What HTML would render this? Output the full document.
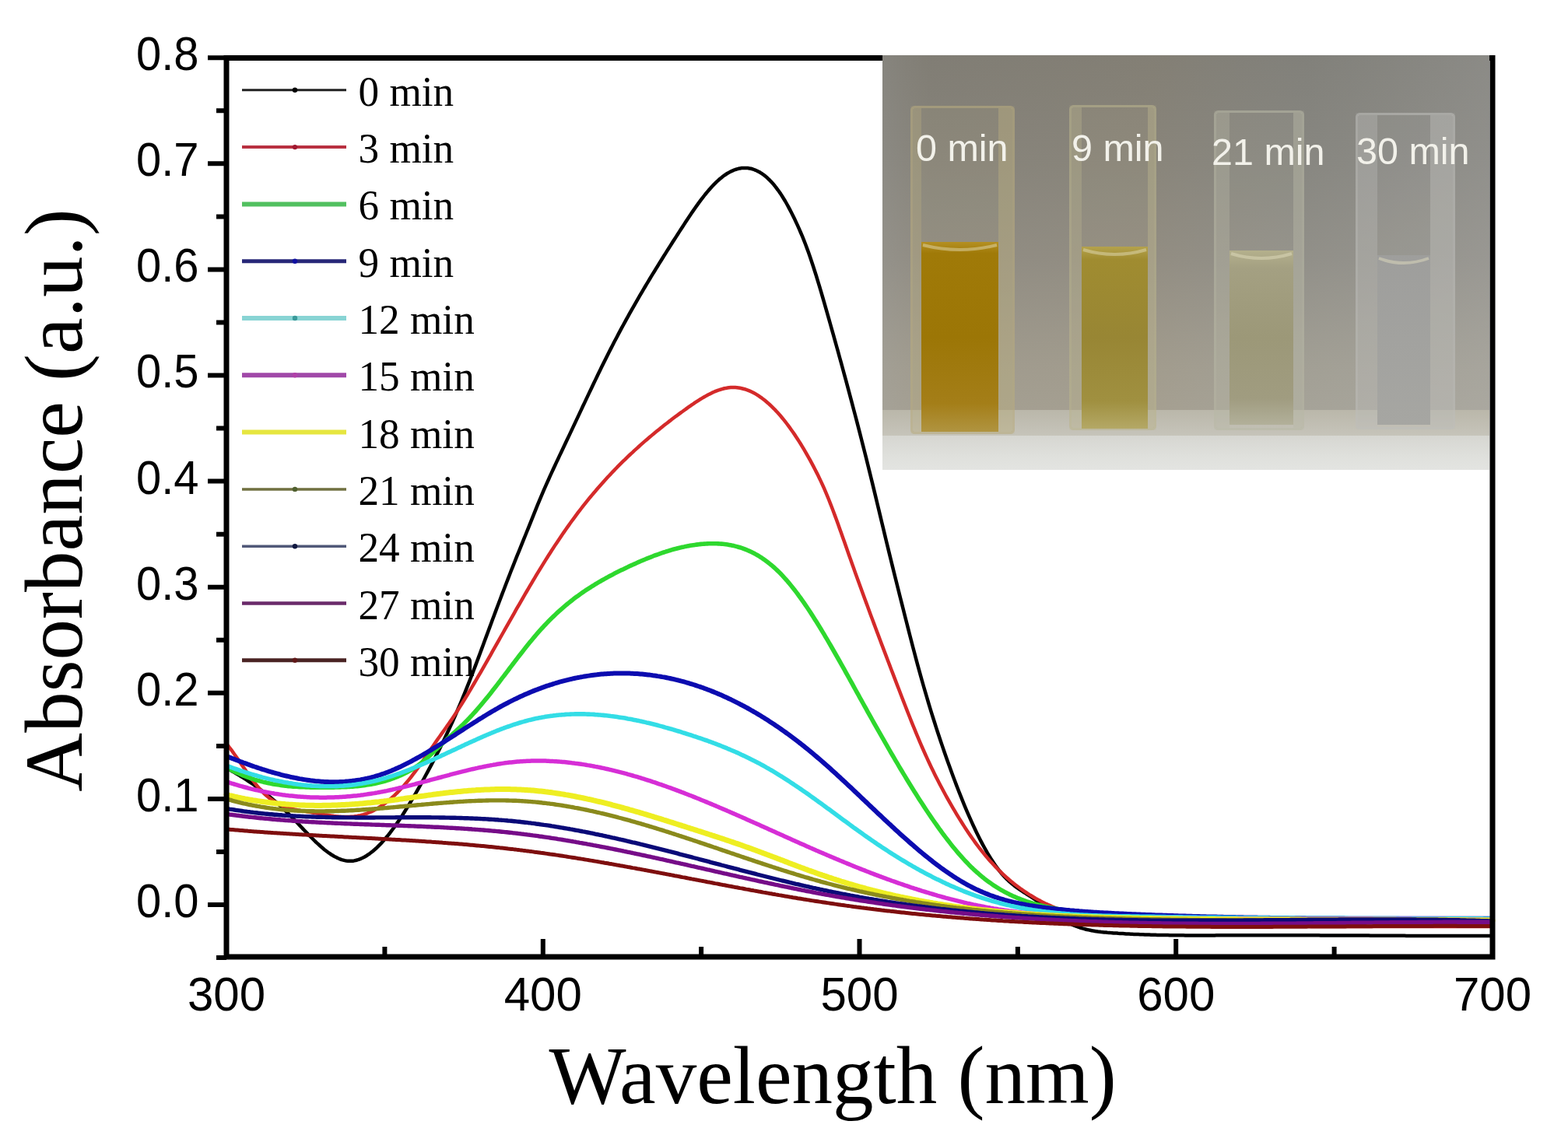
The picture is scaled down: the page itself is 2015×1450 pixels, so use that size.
<!DOCTYPE html><html><head><meta charset="utf-8"><title>Absorbance spectra</title>
<style>html,body{margin:0;padding:0;background:#fff;}svg{display:block;}.tky{font-family:"Liberation Sans",Arial,sans-serif;font-size:58px;fill:#000;}.tkx{font-family:"Liberation Sans",Arial,sans-serif;font-size:60px;fill:#000;}.tt{font-family:"Liberation Serif","Times New Roman",serif;font-size:105px;fill:#000;}.lg{font-family:"Liberation Serif","Times New Roman",serif;font-size:53.2px;fill:#000;}.ph{font-family:"Liberation Sans",Arial,sans-serif;font-size:48.5px;fill:#f2f1ea;}</style></head><body>
<svg width="2015" height="1450" viewBox="0 0 2015 1450">
<rect width="2015" height="1450" fill="#fff"/>
<g fill="none" stroke-linejoin="round" stroke-linecap="round">
<path d="M291.0,987.3 L293.0,988.4 295.0,989.5 297.0,990.6 299.0,991.8 301.0,992.9 303.0,994.1 305.0,995.2 307.0,996.4 309.0,997.7 311.0,998.9 313.0,1000.1 315.0,1001.4 317.0,1002.7 319.0,1004.0 321.0,1005.3 323.0,1006.6 325.0,1008.0 327.0,1009.4 329.0,1010.8 331.0,1012.2 333.0,1013.7 335.0,1015.2 337.0,1016.7 339.0,1018.2 341.0,1019.7 343.0,1021.3 345.0,1022.9 347.0,1024.5 349.0,1026.2 351.0,1027.9 353.0,1029.6 355.0,1031.3 357.0,1033.1 359.0,1034.9 361.0,1036.7 363.0,1038.6 365.0,1040.5 367.0,1042.4 369.0,1044.3 371.0,1046.3 373.0,1048.4 375.0,1050.4 377.0,1052.5 379.0,1054.6 381.0,1056.7 383.0,1058.8 385.0,1060.9 387.0,1063.0 389.0,1065.1 391.0,1067.2 393.0,1069.3 395.0,1071.4 397.0,1073.5 399.0,1075.5 401.0,1077.5 403.0,1079.5 405.0,1081.5 407.0,1083.4 409.0,1085.2 411.0,1087.0 413.0,1088.8 415.0,1090.5 417.0,1092.2 419.0,1093.7 421.0,1095.2 423.0,1096.7 425.0,1098.0 427.0,1099.3 429.0,1100.5 431.0,1101.6 433.0,1102.6 435.0,1103.5 437.0,1104.3 439.0,1105.1 441.0,1105.6 443.0,1106.1 445.0,1106.5 447.0,1106.7 449.0,1106.8 451.0,1106.8 453.0,1106.7 455.0,1106.4 457.0,1106.0 459.0,1105.5 461.0,1104.8 463.0,1104.1 465.0,1103.2 467.0,1102.3 469.0,1101.2 471.0,1100.0 473.0,1098.7 475.0,1097.3 477.0,1095.8 479.0,1094.2 481.0,1092.5 483.0,1090.8 485.0,1088.9 487.0,1086.9 489.0,1084.9 491.0,1082.7 493.0,1080.5 495.0,1078.2 497.0,1075.8 499.0,1073.4 501.0,1070.8 503.0,1068.2 505.0,1065.5 507.0,1062.8 509.0,1060.0 511.0,1057.1 513.0,1054.2 515.0,1051.2 517.0,1048.1 519.0,1045.0 521.0,1041.8 523.0,1038.6 525.0,1035.4 527.0,1032.0 529.0,1028.7 531.0,1025.3 533.0,1021.8 535.0,1018.4 537.0,1014.8 539.0,1011.3 541.0,1007.7 543.0,1004.1 545.0,1000.5 547.0,996.8 549.0,993.1 551.0,989.4 553.0,985.6 555.0,981.9 557.0,978.0 559.0,974.2 561.0,970.3 563.0,966.4 565.0,962.4 567.0,958.4 569.0,954.3 571.0,950.2 573.0,946.0 575.0,941.8 577.0,937.5 579.0,933.1 581.0,928.7 583.0,924.3 585.0,919.8 587.0,915.2 589.0,910.5 591.0,905.8 593.0,901.1 595.0,896.2 597.0,891.4 599.0,886.4 601.0,881.4 603.0,876.4 605.0,871.2 607.0,866.1 609.0,860.8 611.0,855.6 613.0,850.3 615.0,844.9 617.0,839.5 619.0,834.1 621.0,828.7 623.0,823.3 625.0,817.9 627.0,812.5 629.0,807.1 631.0,801.7 633.0,796.3 635.0,791.0 637.0,785.6 639.0,780.3 641.0,775.0 643.0,769.7 645.0,764.4 647.0,759.2 649.0,754.0 651.0,748.8 653.0,743.6 655.0,738.5 657.0,733.3 659.0,728.3 661.0,723.2 663.0,718.2 665.0,713.2 667.0,708.3 669.0,703.3 671.0,698.4 673.0,693.4 675.0,688.5 677.0,683.5 679.0,678.6 681.0,673.6 683.0,668.6 685.0,663.6 687.0,658.6 689.0,653.6 691.0,648.7 693.0,643.8 695.0,639.1 697.0,634.4 699.0,629.7 701.0,625.2 703.0,620.6 705.0,616.2 707.0,611.7 709.0,607.4 711.0,603.0 713.0,598.7 715.0,594.4 717.0,590.2 719.0,585.9 721.0,581.7 723.0,577.5 725.0,573.3 727.0,569.0 729.0,564.8 731.0,560.6 733.0,556.4 735.0,552.1 737.0,547.9 739.0,543.6 741.0,539.4 743.0,535.1 745.0,530.9 747.0,526.6 749.0,522.3 751.0,518.1 753.0,513.9 755.0,509.6 757.0,505.4 759.0,501.2 761.0,497.0 763.0,492.8 765.0,488.6 767.0,484.5 769.0,480.3 771.0,476.2 773.0,472.1 775.0,468.0 777.0,464.0 779.0,460.0 781.0,456.0 783.0,452.0 785.0,448.1 787.0,444.2 789.0,440.3 791.0,436.5 793.0,432.7 795.0,428.9 797.0,425.1 799.0,421.4 801.0,417.7 803.0,414.1 805.0,410.4 807.0,406.8 809.0,403.2 811.0,399.6 813.0,396.1 815.0,392.6 817.0,389.1 819.0,385.6 821.0,382.2 823.0,378.7 825.0,375.3 827.0,371.9 829.0,368.5 831.0,365.2 833.0,361.9 835.0,358.5 837.0,355.2 839.0,351.9 841.0,348.7 843.0,345.4 845.0,342.2 847.0,338.9 849.0,335.7 851.0,332.5 853.0,329.3 855.0,326.1 857.0,322.9 859.0,319.8 861.0,316.6 863.0,313.5 865.0,310.3 867.0,307.2 869.0,304.1 871.0,301.0 873.0,297.9 875.0,294.8 877.0,291.7 879.0,288.6 881.0,285.5 883.0,282.5 885.0,279.5 887.0,276.5 889.0,273.5 891.0,270.6 893.0,267.7 895.0,264.9 897.0,262.1 899.0,259.4 901.0,256.7 903.0,254.1 905.0,251.5 907.0,249.0 909.0,246.6 911.0,244.2 913.0,241.9 915.0,239.7 917.0,237.6 919.0,235.6 921.0,233.6 923.0,231.8 925.0,230.0 927.0,228.4 929.0,226.8 931.0,225.3 933.0,224.0 935.0,222.7 937.0,221.6 939.0,220.5 941.0,219.6 943.0,218.7 945.0,218.0 947.0,217.4 949.0,216.8 951.0,216.4 953.0,216.1 955.0,216.0 957.0,215.9 959.0,215.9 961.0,216.1 963.0,216.4 965.0,216.8 967.0,217.3 969.0,218.0 971.0,218.8 973.0,219.7 975.0,220.7 977.0,221.8 979.0,223.1 981.0,224.5 983.0,226.1 985.0,227.7 987.0,229.6 989.0,231.5 991.0,233.6 993.0,235.8 995.0,238.1 997.0,240.6 999.0,243.3 1001.0,246.0 1003.0,248.9 1005.0,252.0 1007.0,255.2 1009.0,258.5 1011.0,262.0 1013.0,265.6 1015.0,269.4 1017.0,273.2 1019.0,277.2 1021.0,281.3 1023.0,285.6 1025.0,289.9 1027.0,294.4 1029.0,299.0 1031.0,303.7 1033.0,308.7 1035.0,313.8 1037.0,319.1 1039.0,324.6 1041.0,330.3 1043.0,336.2 1045.0,342.3 1047.0,348.5 1049.0,354.8 1051.0,361.3 1053.0,367.9 1055.0,374.7 1057.0,381.5 1059.0,388.4 1061.0,395.3 1063.0,402.3 1065.0,409.4 1067.0,416.5 1069.0,423.6 1071.0,430.7 1073.0,437.9 1075.0,445.0 1077.0,452.2 1079.0,459.5 1081.0,466.7 1083.0,474.0 1085.0,481.4 1087.0,488.7 1089.0,496.1 1091.0,503.6 1093.0,511.1 1095.0,518.6 1097.0,526.2 1099.0,533.8 1101.0,541.4 1103.0,549.1 1105.0,556.9 1107.0,564.7 1109.0,572.6 1111.0,580.5 1113.0,588.4 1115.0,596.5 1117.0,604.6 1119.0,612.7 1121.0,620.9 1123.0,629.1 1125.0,637.4 1127.0,645.7 1129.0,654.1 1131.0,662.4 1133.0,670.7 1135.0,679.1 1137.0,687.4 1139.0,695.7 1141.0,703.9 1143.0,712.1 1145.0,720.3 1147.0,728.4 1149.0,736.5 1151.0,744.5 1153.0,752.5 1155.0,760.5 1157.0,768.5 1159.0,776.4 1161.0,784.3 1163.0,792.2 1165.0,800.0 1167.0,807.9 1169.0,815.7 1171.0,823.5 1173.0,831.2 1175.0,838.8 1177.0,846.3 1179.0,853.8 1181.0,861.1 1183.0,868.3 1185.0,875.5 1187.0,882.5 1189.0,889.4 1191.0,896.2 1193.0,903.0 1195.0,909.6 1197.0,916.1 1199.0,922.5 1201.0,928.8 1203.0,935.1 1205.0,941.2 1207.0,947.3 1209.0,953.2 1211.0,959.1 1213.0,965.0 1215.0,970.7 1217.0,976.4 1219.0,982.0 1221.0,987.6 1223.0,993.0 1225.0,998.5 1227.0,1003.8 1229.0,1009.1 1231.0,1014.3 1233.0,1019.4 1235.0,1024.4 1237.0,1029.4 1239.0,1034.3 1241.0,1039.1 1243.0,1043.8 1245.0,1048.4 1247.0,1052.9 1249.0,1057.4 1251.0,1061.7 1253.0,1066.0 1255.0,1070.2 1257.0,1074.2 1259.0,1078.2 1261.0,1082.1 1263.0,1085.9 1265.0,1089.5 1267.0,1093.1 1269.0,1096.6 1271.0,1099.9 1273.0,1103.2 1275.0,1106.3 1277.0,1109.3 1279.0,1112.2 1281.0,1115.0 1283.0,1117.7 1285.0,1120.3 1287.0,1122.7 1289.0,1125.0 1291.0,1127.2 1293.0,1129.3 1295.0,1131.2 1297.0,1133.1 1299.0,1134.8 1301.0,1136.5 1303.0,1138.1 1305.0,1139.6 1307.0,1141.1 1309.0,1142.5 1311.0,1143.8 1313.0,1145.2 1315.0,1146.5 1317.0,1147.7 1319.0,1149.0 1321.0,1150.3 1323.0,1151.6 1325.0,1152.8 1327.0,1154.2 1329.0,1155.5 1331.0,1156.9 1333.0,1158.3 1335.0,1159.8 1337.0,1161.2 1339.0,1162.7 1341.0,1164.2 1343.0,1165.8 1345.0,1167.3 1347.0,1168.8 1349.0,1170.3 1351.0,1171.8 1353.0,1173.3 1355.0,1174.8 1357.0,1176.2 1359.0,1177.6 1361.0,1179.0 1363.0,1180.4 1365.0,1181.6 1367.0,1182.9 1369.0,1184.1 1371.0,1185.2 1373.0,1186.2 1375.0,1187.2 1377.0,1188.2 1379.0,1189.1 1381.0,1189.9 1383.0,1190.7 1385.0,1191.4 1387.0,1192.1 1389.0,1192.8 1391.0,1193.4 1393.0,1193.9 1395.0,1194.5 1397.0,1195.0 1399.0,1195.4 1401.0,1195.8 1403.0,1196.2 1405.0,1196.6 1407.0,1196.9 1409.0,1197.2 1411.0,1197.5 1413.0,1197.7 1415.0,1198.0 1417.0,1198.2 1419.0,1198.4 1421.0,1198.6 1423.0,1198.8 1425.0,1198.9 1427.0,1199.1 1429.0,1199.2 1431.0,1199.4 1433.0,1199.5 1435.0,1199.6 1437.0,1199.8 1439.0,1199.9 1441.0,1200.0 1443.0,1200.1 1445.0,1200.2 1447.0,1200.4 1449.0,1200.5 1451.0,1200.6 1453.0,1200.7 1455.0,1200.8 1457.0,1200.9 1459.0,1200.9 1461.0,1201.0 1463.0,1201.1 1465.0,1201.2 1467.0,1201.3 1469.0,1201.3 1471.0,1201.4 1473.0,1201.5 1475.0,1201.5 1477.0,1201.6 1479.0,1201.7 1481.0,1201.7 1483.0,1201.8 1485.0,1201.8 1487.0,1201.9 1489.0,1201.9 1491.0,1202.0 1493.0,1202.0 1495.0,1202.0 1497.0,1202.1 1499.0,1202.1 1501.0,1202.1 1503.0,1202.2 1505.0,1202.2 1507.0,1202.2 1509.0,1202.2 1511.0,1202.3 1513.0,1202.3 1515.0,1202.3 1517.0,1202.3 1519.0,1202.3 1521.0,1202.3 1523.0,1202.4 1525.0,1202.4 1527.0,1202.4 1529.0,1202.4 1531.0,1202.4 1533.0,1202.4 1535.0,1202.4 1537.0,1202.4 1539.0,1202.4 1541.0,1202.4 1543.0,1202.4 1545.0,1202.4 1547.0,1202.4 1549.0,1202.4 1551.0,1202.4 1553.0,1202.4 1555.0,1202.4 1557.0,1202.4 1559.0,1202.4 1561.0,1202.4 1563.0,1202.3 1565.0,1202.3 1567.0,1202.3 1569.0,1202.3 1571.0,1202.3 1573.0,1202.3 1575.0,1202.3 1577.0,1202.3 1579.0,1202.3 1581.0,1202.3 1583.0,1202.3 1585.0,1202.3 1587.0,1202.3 1589.0,1202.2 1591.0,1202.2 1593.0,1202.2 1595.0,1202.2 1597.0,1202.2 1599.0,1202.2 1601.0,1202.2 1603.0,1202.2 1605.0,1202.2 1607.0,1202.2 1609.0,1202.2 1611.0,1202.2 1613.0,1202.2 1615.0,1202.2 1617.0,1202.2 1619.0,1202.2 1621.0,1202.2 1623.0,1202.2 1625.0,1202.2 1627.0,1202.2 1629.0,1202.2 1631.0,1202.2 1633.0,1202.2 1635.0,1202.2 1637.0,1202.2 1639.0,1202.2 1641.0,1202.2 1643.0,1202.2 1645.0,1202.2 1647.0,1202.2 1649.0,1202.2 1651.0,1202.2 1653.0,1202.2 1655.0,1202.2 1657.0,1202.2 1659.0,1202.2 1661.0,1202.2 1663.0,1202.2 1665.0,1202.2 1667.0,1202.2 1669.0,1202.3 1671.0,1202.3 1673.0,1202.3 1675.0,1202.3 1677.0,1202.3 1679.0,1202.3 1681.0,1202.3 1683.0,1202.3 1685.0,1202.3 1687.0,1202.3 1689.0,1202.3 1691.0,1202.3 1693.0,1202.3 1695.0,1202.3 1697.0,1202.4 1699.0,1202.4 1701.0,1202.4 1703.0,1202.4 1705.0,1202.4 1707.0,1202.4 1709.0,1202.4 1711.0,1202.4 1713.0,1202.4 1715.0,1202.4 1717.0,1202.4 1719.0,1202.4 1721.0,1202.5 1723.0,1202.5 1725.0,1202.5 1727.0,1202.5 1729.0,1202.5 1731.0,1202.5 1733.0,1202.5 1735.0,1202.5 1737.0,1202.5 1739.0,1202.5 1741.0,1202.6 1743.0,1202.6 1745.0,1202.6 1747.0,1202.6 1749.0,1202.6 1751.0,1202.6 1753.0,1202.6 1755.0,1202.6 1757.0,1202.6 1759.0,1202.6 1761.0,1202.7 1763.0,1202.7 1765.0,1202.7 1767.0,1202.7 1769.0,1202.7 1771.0,1202.7 1773.0,1202.7 1775.0,1202.7 1777.0,1202.7 1779.0,1202.7 1781.0,1202.7 1783.0,1202.8 1785.0,1202.8 1787.0,1202.8 1789.0,1202.8 1791.0,1202.8 1793.0,1202.8 1795.0,1202.8 1797.0,1202.8 1799.0,1202.8 1801.0,1202.8 1803.0,1202.8 1805.0,1202.8 1807.0,1202.9 1809.0,1202.9 1811.0,1202.9 1813.0,1202.9 1815.0,1202.9 1817.0,1202.9 1819.0,1202.9 1821.0,1202.9 1823.0,1202.9 1825.0,1202.9 1827.0,1202.9 1829.0,1202.9 1831.0,1202.9 1833.0,1202.9 1835.0,1202.9 1837.0,1202.9 1839.0,1202.9 1841.0,1203.0 1843.0,1203.0 1845.0,1203.0 1847.0,1203.0 1849.0,1203.0 1851.0,1203.0 1853.0,1203.0 1855.0,1203.0 1857.0,1203.0 1859.0,1203.0 1861.0,1203.0 1863.0,1203.0 1865.0,1203.0 1867.0,1203.0 1869.0,1203.0 1871.0,1203.0 1873.0,1203.0 1875.0,1203.0 1877.0,1203.0 1879.0,1203.0 1881.0,1203.0 1883.0,1203.0 1885.0,1203.0 1887.0,1203.0 1889.0,1202.9 1891.0,1202.9 1893.0,1202.9 1895.0,1202.9 1897.0,1202.9 1899.0,1202.9 1901.0,1202.9 1903.0,1202.9 1905.0,1202.9 1907.0,1202.9 1909.0,1202.9 1911.0,1202.9 1913.0,1202.9 1915.0,1202.9 1917.0,1202.8 1918.0,1202.8" stroke="#000000" stroke-width="4.5"/>
<path d="M291.0,955.9 L293.0,958.4 295.0,961.0 297.0,963.7 299.0,966.4 301.0,969.2 303.0,972.0 305.0,974.9 307.0,977.8 309.0,980.7 311.0,983.6 313.0,986.5 315.0,989.4 317.0,992.2 319.0,995.1 321.0,997.9 323.0,1000.6 325.0,1003.3 327.0,1005.9 329.0,1008.5 331.0,1010.9 333.0,1013.2 335.0,1015.5 337.0,1017.6 339.0,1019.6 341.0,1021.5 343.0,1023.2 345.0,1024.9 347.0,1026.5 349.0,1027.9 351.0,1029.3 353.0,1030.5 355.0,1031.7 357.0,1032.8 359.0,1033.8 361.0,1034.8 363.0,1035.7 365.0,1036.5 367.0,1037.2 369.0,1037.9 371.0,1038.5 373.0,1039.1 375.0,1039.7 377.0,1040.2 379.0,1040.6 381.0,1041.0 383.0,1041.4 385.0,1041.8 387.0,1042.2 389.0,1042.5 391.0,1042.8 393.0,1043.1 395.0,1043.5 397.0,1043.8 399.0,1044.1 401.0,1044.4 403.0,1044.7 405.0,1045.1 407.0,1045.4 409.0,1045.8 411.0,1046.1 413.0,1046.5 415.0,1046.8 417.0,1047.2 419.0,1047.5 421.0,1047.8 423.0,1048.1 425.0,1048.4 427.0,1048.7 429.0,1049.0 431.0,1049.2 433.0,1049.4 435.0,1049.6 437.0,1049.7 439.0,1049.9 441.0,1050.0 443.0,1050.0 445.0,1050.0 447.0,1050.0 449.0,1049.9 451.0,1049.8 453.0,1049.7 455.0,1049.5 457.0,1049.2 459.0,1048.9 461.0,1048.5 463.0,1048.1 465.0,1047.6 467.0,1047.1 469.0,1046.5 471.0,1045.8 473.0,1045.0 475.0,1044.2 477.0,1043.4 479.0,1042.4 481.0,1041.4 483.0,1040.3 485.0,1039.2 487.0,1038.0 489.0,1036.7 491.0,1035.4 493.0,1034.0 495.0,1032.5 497.0,1031.0 499.0,1029.4 501.0,1027.7 503.0,1026.0 505.0,1024.2 507.0,1022.4 509.0,1020.4 511.0,1018.5 513.0,1016.4 515.0,1014.3 517.0,1012.1 519.0,1009.9 521.0,1007.6 523.0,1005.3 525.0,1002.9 527.0,1000.4 529.0,997.8 531.0,995.2 533.0,992.6 535.0,989.9 537.0,987.1 539.0,984.3 541.0,981.5 543.0,978.6 545.0,975.7 547.0,972.8 549.0,969.9 551.0,966.9 553.0,964.0 555.0,961.1 557.0,958.2 559.0,955.3 561.0,952.4 563.0,949.5 565.0,946.7 567.0,943.9 569.0,941.1 571.0,938.3 573.0,935.5 575.0,932.6 577.0,929.8 579.0,926.9 581.0,924.0 583.0,921.0 585.0,917.9 587.0,914.9 589.0,911.8 591.0,908.6 593.0,905.5 595.0,902.3 597.0,899.0 599.0,895.8 601.0,892.5 603.0,889.1 605.0,885.8 607.0,882.4 609.0,879.0 611.0,875.6 613.0,872.2 615.0,868.7 617.0,865.3 619.0,861.8 621.0,858.3 623.0,854.8 625.0,851.3 627.0,847.8 629.0,844.3 631.0,840.8 633.0,837.2 635.0,833.7 637.0,830.2 639.0,826.6 641.0,823.1 643.0,819.5 645.0,816.0 647.0,812.5 649.0,808.9 651.0,805.4 653.0,801.8 655.0,798.3 657.0,794.8 659.0,791.3 661.0,787.8 663.0,784.2 665.0,780.7 667.0,777.3 669.0,773.8 671.0,770.3 673.0,766.9 675.0,763.4 677.0,760.0 679.0,756.6 681.0,753.2 683.0,749.8 685.0,746.4 687.0,743.1 689.0,739.7 691.0,736.4 693.0,733.1 695.0,729.8 697.0,726.6 699.0,723.3 701.0,720.1 703.0,717.0 705.0,713.8 707.0,710.7 709.0,707.5 711.0,704.5 713.0,701.4 715.0,698.4 717.0,695.4 719.0,692.4 721.0,689.4 723.0,686.5 725.0,683.6 727.0,680.7 729.0,677.9 731.0,675.1 733.0,672.3 735.0,669.5 737.0,666.8 739.0,664.1 741.0,661.4 743.0,658.7 745.0,656.1 747.0,653.5 749.0,650.9 751.0,648.4 753.0,645.9 755.0,643.4 757.0,640.9 759.0,638.5 761.0,636.1 763.0,633.7 765.0,631.4 767.0,629.0 769.0,626.7 771.0,624.4 773.0,622.2 775.0,619.9 777.0,617.7 779.0,615.5 781.0,613.3 783.0,611.2 785.0,609.1 787.0,606.9 789.0,604.9 791.0,602.8 793.0,600.7 795.0,598.7 797.0,596.7 799.0,594.7 801.0,592.7 803.0,590.8 805.0,588.8 807.0,586.9 809.0,585.0 811.0,583.1 813.0,581.3 815.0,579.4 817.0,577.6 819.0,575.8 821.0,574.0 823.0,572.2 825.0,570.4 827.0,568.6 829.0,566.9 831.0,565.2 833.0,563.5 835.0,561.8 837.0,560.1 839.0,558.4 841.0,556.8 843.0,555.1 845.0,553.5 847.0,551.9 849.0,550.3 851.0,548.7 853.0,547.1 855.0,545.5 857.0,544.0 859.0,542.4 861.0,540.9 863.0,539.3 865.0,537.8 867.0,536.3 869.0,534.8 871.0,533.4 873.0,531.9 875.0,530.4 877.0,529.0 879.0,527.5 881.0,526.1 883.0,524.6 885.0,523.2 887.0,521.8 889.0,520.4 891.0,519.1 893.0,517.7 895.0,516.4 897.0,515.1 899.0,513.8 901.0,512.6 903.0,511.4 905.0,510.2 907.0,509.1 909.0,508.0 911.0,506.9 913.0,505.9 915.0,504.9 917.0,504.0 919.0,503.2 921.0,502.4 923.0,501.7 925.0,501.0 927.0,500.4 929.0,499.8 931.0,499.3 933.0,498.9 935.0,498.6 937.0,498.3 939.0,498.1 941.0,498.0 943.0,498.0 945.0,498.1 947.0,498.2 949.0,498.5 951.0,498.8 953.0,499.2 955.0,499.7 957.0,500.2 959.0,500.9 961.0,501.6 963.0,502.4 965.0,503.3 967.0,504.3 969.0,505.3 971.0,506.4 973.0,507.6 975.0,508.9 977.0,510.3 979.0,511.7 981.0,513.2 983.0,514.8 985.0,516.5 987.0,518.2 989.0,520.0 991.0,521.9 993.0,523.8 995.0,525.8 997.0,527.9 999.0,530.1 1001.0,532.3 1003.0,534.6 1005.0,537.0 1007.0,539.4 1009.0,541.9 1011.0,544.5 1013.0,547.2 1015.0,549.9 1017.0,552.7 1019.0,555.5 1021.0,558.4 1023.0,561.4 1025.0,564.5 1027.0,567.6 1029.0,570.8 1031.0,574.1 1033.0,577.4 1035.0,580.8 1037.0,584.3 1039.0,587.8 1041.0,591.4 1043.0,595.1 1045.0,598.9 1047.0,602.7 1049.0,606.6 1051.0,610.6 1053.0,614.7 1055.0,618.9 1057.0,623.2 1059.0,627.7 1061.0,632.3 1063.0,637.1 1065.0,642.0 1067.0,647.1 1069.0,652.2 1071.0,657.5 1073.0,662.9 1075.0,668.3 1077.0,673.8 1079.0,679.4 1081.0,685.0 1083.0,690.7 1085.0,696.3 1087.0,702.0 1089.0,707.7 1091.0,713.4 1093.0,719.0 1095.0,724.7 1097.0,730.3 1099.0,735.9 1101.0,741.4 1103.0,747.0 1105.0,752.5 1107.0,758.0 1109.0,763.5 1111.0,769.0 1113.0,774.4 1115.0,779.8 1117.0,785.3 1119.0,790.7 1121.0,796.0 1123.0,801.4 1125.0,806.8 1127.0,812.1 1129.0,817.4 1131.0,822.8 1133.0,828.1 1135.0,833.4 1137.0,838.6 1139.0,843.9 1141.0,849.2 1143.0,854.4 1145.0,859.7 1147.0,864.9 1149.0,870.1 1151.0,875.4 1153.0,880.6 1155.0,885.8 1157.0,891.0 1159.0,896.2 1161.0,901.4 1163.0,906.5 1165.0,911.6 1167.0,916.7 1169.0,921.8 1171.0,926.8 1173.0,931.8 1175.0,936.7 1177.0,941.6 1179.0,946.4 1181.0,951.2 1183.0,955.9 1185.0,960.5 1187.0,965.0 1189.0,969.5 1191.0,973.9 1193.0,978.2 1195.0,982.5 1197.0,986.7 1199.0,990.8 1201.0,994.9 1203.0,998.9 1205.0,1002.8 1207.0,1006.7 1209.0,1010.5 1211.0,1014.3 1213.0,1018.0 1215.0,1021.7 1217.0,1025.3 1219.0,1028.9 1221.0,1032.4 1223.0,1035.9 1225.0,1039.3 1227.0,1042.7 1229.0,1046.1 1231.0,1049.4 1233.0,1052.6 1235.0,1055.8 1237.0,1059.0 1239.0,1062.1 1241.0,1065.2 1243.0,1068.2 1245.0,1071.2 1247.0,1074.1 1249.0,1077.0 1251.0,1079.8 1253.0,1082.6 1255.0,1085.3 1257.0,1088.0 1259.0,1090.6 1261.0,1093.2 1263.0,1095.7 1265.0,1098.1 1267.0,1100.5 1269.0,1102.9 1271.0,1105.2 1273.0,1107.4 1275.0,1109.6 1277.0,1111.8 1279.0,1113.9 1281.0,1116.0 1283.0,1118.0 1285.0,1120.0 1287.0,1121.9 1289.0,1123.8 1291.0,1125.7 1293.0,1127.5 1295.0,1129.2 1297.0,1131.0 1299.0,1132.7 1301.0,1134.3 1303.0,1135.9 1305.0,1137.5 1307.0,1139.0 1309.0,1140.5 1311.0,1142.0 1313.0,1143.4 1315.0,1144.8 1317.0,1146.2 1319.0,1147.5 1321.0,1148.8 1323.0,1150.1 1325.0,1151.3 1327.0,1152.5 1329.0,1153.7 1331.0,1154.9 1333.0,1156.0 1335.0,1157.1 1337.0,1158.1 1339.0,1159.2 1341.0,1160.2 1343.0,1161.2 1345.0,1162.1 1347.0,1163.0 1349.0,1163.9 1351.0,1164.8 1353.0,1165.7 1355.0,1166.5 1357.0,1167.3 1359.0,1168.1 1361.0,1168.8 1363.0,1169.6 1365.0,1170.3 1367.0,1171.0 1369.0,1171.7 1371.0,1172.3 1373.0,1173.0 1375.0,1173.6 1377.0,1174.2 1379.0,1174.8 1381.0,1175.3 1383.0,1175.9 1385.0,1176.4 1387.0,1176.9 1389.0,1177.4 1391.0,1177.9 1393.0,1178.4 1395.0,1178.8 1397.0,1179.2 1399.0,1179.7 1401.0,1180.1 1403.0,1180.5 1405.0,1180.9 1407.0,1181.3 1409.0,1181.6 1411.0,1182.0 1413.0,1182.3 1415.0,1182.7 1417.0,1183.0 1419.0,1183.3 1421.0,1183.6 1423.0,1183.9 1425.0,1184.2 1427.0,1184.4 1429.0,1184.7 1431.0,1185.0 1433.0,1185.2 1435.0,1185.4 1437.0,1185.7 1439.0,1185.9 1441.0,1186.1 1443.0,1186.3 1445.0,1186.5 1447.0,1186.6 1449.0,1186.8 1451.0,1187.0 1453.0,1187.1 1455.0,1187.3 1457.0,1187.4 1459.0,1187.6 1461.0,1187.7 1463.0,1187.8 1465.0,1187.9 1467.0,1188.1 1469.0,1188.2 1471.0,1188.3 1473.0,1188.4 1475.0,1188.4 1477.0,1188.5 1479.0,1188.6 1481.0,1188.7 1483.0,1188.7 1485.0,1188.8 1487.0,1188.9 1489.0,1188.9 1491.0,1189.0 1493.0,1189.0 1495.0,1189.0 1497.0,1189.1 1499.0,1189.1 1501.0,1189.1 1503.0,1189.2 1505.0,1189.2 1507.0,1189.2 1509.0,1189.2 1511.0,1189.3 1513.0,1189.3 1515.0,1189.3 1517.0,1189.3 1519.0,1189.3 1521.0,1189.3 1523.0,1189.3 1525.0,1189.3 1527.0,1189.4 1529.0,1189.4 1531.0,1189.4 1533.0,1189.4 1535.0,1189.4 1537.0,1189.4 1539.0,1189.4 1541.0,1189.4 1543.0,1189.4 1545.0,1189.4 1547.0,1189.4 1549.0,1189.4 1551.0,1189.4 1553.0,1189.5 1555.0,1189.5 1557.0,1189.5 1559.0,1189.5 1561.0,1189.5 1563.0,1189.5 1565.0,1189.5 1567.0,1189.6 1569.0,1189.6 1571.0,1189.6 1573.0,1189.6 1575.0,1189.6 1577.0,1189.7 1579.0,1189.7 1581.0,1189.7 1583.0,1189.7 1585.0,1189.8 1587.0,1189.8 1589.0,1189.8 1591.0,1189.8 1593.0,1189.9 1595.0,1189.9 1597.0,1189.9 1599.0,1189.9 1601.0,1190.0 1603.0,1190.0 1605.0,1190.0 1607.0,1190.0 1609.0,1190.1 1611.0,1190.1 1613.0,1190.1 1615.0,1190.1 1617.0,1190.2 1619.0,1190.2 1621.0,1190.2 1623.0,1190.2 1625.0,1190.3 1627.0,1190.3 1629.0,1190.3 1631.0,1190.3 1633.0,1190.4 1635.0,1190.4 1637.0,1190.4 1639.0,1190.4 1641.0,1190.5 1643.0,1190.5 1645.0,1190.5 1647.0,1190.5 1649.0,1190.6 1651.0,1190.6 1653.0,1190.6 1655.0,1190.6 1657.0,1190.6 1659.0,1190.7 1661.0,1190.7 1663.0,1190.7 1665.0,1190.7 1667.0,1190.7 1669.0,1190.7 1671.0,1190.8 1673.0,1190.8 1675.0,1190.8 1677.0,1190.8 1679.0,1190.8 1681.0,1190.8 1683.0,1190.8 1685.0,1190.9 1687.0,1190.9 1689.0,1190.9 1691.0,1190.9 1693.0,1190.9 1695.0,1190.9 1697.0,1190.9 1699.0,1190.9 1701.0,1190.9 1703.0,1190.9 1705.0,1190.9 1707.0,1190.9 1709.0,1191.0 1711.0,1191.0 1713.0,1191.0 1715.0,1191.0 1717.0,1191.0 1719.0,1191.0 1721.0,1191.0 1723.0,1191.0 1725.0,1191.0 1727.0,1191.0 1729.0,1191.0 1731.0,1191.0 1733.0,1191.0 1735.0,1191.0 1737.0,1191.0 1739.0,1191.0 1741.0,1191.0 1743.0,1191.0 1745.0,1191.0 1747.0,1191.0 1749.0,1191.0 1751.0,1191.0 1753.0,1191.0 1755.0,1191.0 1757.0,1191.0 1759.0,1191.0 1761.0,1191.0 1763.0,1191.0 1765.0,1191.0 1767.0,1191.0 1769.0,1191.0 1771.0,1191.0 1773.0,1191.0 1775.0,1191.0 1777.0,1191.0 1779.0,1191.0 1781.0,1191.0 1783.0,1191.0 1785.0,1191.0 1787.0,1191.0 1789.0,1191.0 1791.0,1191.0 1793.0,1191.0 1795.0,1191.0 1797.0,1191.0 1799.0,1191.0 1801.0,1191.0 1803.0,1191.0 1805.0,1191.0 1807.0,1191.0 1809.0,1191.0 1811.0,1191.0 1813.0,1191.0 1815.0,1191.0 1817.0,1191.0 1819.0,1191.0 1821.0,1191.0 1823.0,1191.0 1825.0,1191.0 1827.0,1191.0 1829.0,1191.0 1831.0,1191.0 1833.0,1191.0 1835.0,1191.0 1837.0,1191.0 1839.0,1191.0 1841.0,1191.0 1843.0,1191.0 1845.0,1191.0 1847.0,1191.0 1849.0,1191.0 1851.0,1191.0 1853.0,1191.0 1855.0,1191.0 1857.0,1191.0 1859.0,1191.0 1861.0,1191.0 1863.0,1191.0 1865.0,1191.0 1867.0,1191.0 1869.0,1191.0 1871.0,1191.0 1873.0,1191.0 1875.0,1191.0 1877.0,1191.0 1879.0,1191.0 1881.0,1191.0 1883.0,1191.0 1885.0,1191.0 1887.0,1191.0 1889.0,1191.0 1891.0,1191.0 1893.0,1191.0 1895.0,1191.0 1897.0,1191.0 1899.0,1191.0 1901.0,1191.0 1903.0,1191.0 1905.0,1191.0 1907.0,1191.0 1909.0,1191.0 1911.0,1191.0 1913.0,1191.0 1915.0,1191.0 1917.0,1191.0 1918.0,1191.0" stroke="#d42a2a" stroke-width="4.5"/>
<path d="M291.0,986.4 L293.0,987.6 295.0,988.6 297.0,989.7 299.0,990.7 301.0,991.7 303.0,992.7 305.0,993.6 307.0,994.5 309.0,995.4 311.0,996.3 313.0,997.1 315.0,997.9 317.0,998.6 319.0,999.4 321.0,1000.1 323.0,1000.8 325.0,1001.4 327.0,1002.1 329.0,1002.7 331.0,1003.3 333.0,1003.8 335.0,1004.3 337.0,1004.9 339.0,1005.4 341.0,1005.8 343.0,1006.3 345.0,1006.7 347.0,1007.1 349.0,1007.5 351.0,1007.9 353.0,1008.2 355.0,1008.5 357.0,1008.8 359.0,1009.1 361.0,1009.4 363.0,1009.7 365.0,1009.9 367.0,1010.1 369.0,1010.4 371.0,1010.6 373.0,1010.7 375.0,1010.9 377.0,1011.1 379.0,1011.2 381.0,1011.3 383.0,1011.5 385.0,1011.6 387.0,1011.7 389.0,1011.8 391.0,1011.8 393.0,1011.9 395.0,1012.0 397.0,1012.0 399.0,1012.1 401.0,1012.1 403.0,1012.1 405.0,1012.1 407.0,1012.2 409.0,1012.2 411.0,1012.2 413.0,1012.2 415.0,1012.2 417.0,1012.2 419.0,1012.2 421.0,1012.1 423.0,1012.1 425.0,1012.1 427.0,1012.1 429.0,1012.1 431.0,1012.0 433.0,1012.0 435.0,1011.9 437.0,1011.9 439.0,1011.8 441.0,1011.7 443.0,1011.7 445.0,1011.6 447.0,1011.5 449.0,1011.4 451.0,1011.2 453.0,1011.1 455.0,1010.9 457.0,1010.8 459.0,1010.6 461.0,1010.4 463.0,1010.2 465.0,1009.9 467.0,1009.7 469.0,1009.4 471.0,1009.1 473.0,1008.8 475.0,1008.5 477.0,1008.2 479.0,1007.8 481.0,1007.4 483.0,1007.0 485.0,1006.5 487.0,1006.1 489.0,1005.6 491.0,1005.1 493.0,1004.5 495.0,1004.0 497.0,1003.4 499.0,1002.7 501.0,1002.1 503.0,1001.4 505.0,1000.7 507.0,999.9 509.0,999.2 511.0,998.3 513.0,997.5 515.0,996.6 517.0,995.7 519.0,994.7 521.0,993.7 523.0,992.7 525.0,991.6 527.0,990.5 529.0,989.3 531.0,988.1 533.0,986.8 535.0,985.4 537.0,984.0 539.0,982.5 541.0,981.0 543.0,979.4 545.0,977.8 547.0,976.1 549.0,974.3 551.0,972.5 553.0,970.6 555.0,968.7 557.0,966.8 559.0,964.8 561.0,962.9 563.0,961.0 565.0,959.1 567.0,957.2 569.0,955.3 571.0,953.4 573.0,951.6 575.0,949.7 577.0,947.9 579.0,946.1 581.0,944.3 583.0,942.4 585.0,940.6 587.0,938.7 589.0,936.9 591.0,935.0 593.0,933.1 595.0,931.2 597.0,929.2 599.0,927.2 601.0,925.2 603.0,923.1 605.0,921.0 607.0,918.9 609.0,916.7 611.0,914.5 613.0,912.2 615.0,909.9 617.0,907.5 619.0,905.2 621.0,902.8 623.0,900.3 625.0,897.9 627.0,895.4 629.0,892.9 631.0,890.4 633.0,887.8 635.0,885.3 637.0,882.7 639.0,880.1 641.0,877.5 643.0,874.9 645.0,872.2 647.0,869.6 649.0,867.0 651.0,864.3 653.0,861.7 655.0,859.0 657.0,856.4 659.0,853.8 661.0,851.1 663.0,848.5 665.0,845.9 667.0,843.3 669.0,840.7 671.0,838.2 673.0,835.6 675.0,833.1 677.0,830.6 679.0,828.1 681.0,825.6 683.0,823.2 685.0,820.8 687.0,818.4 689.0,816.0 691.0,813.7 693.0,811.4 695.0,809.2 697.0,807.0 699.0,804.8 701.0,802.7 703.0,800.6 705.0,798.5 707.0,796.5 709.0,794.5 711.0,792.6 713.0,790.7 715.0,788.8 717.0,786.9 719.0,785.1 721.0,783.3 723.0,781.6 725.0,779.9 727.0,778.2 729.0,776.5 731.0,774.9 733.0,773.3 735.0,771.7 737.0,770.1 739.0,768.6 741.0,767.1 743.0,765.7 745.0,764.2 747.0,762.8 749.0,761.4 751.0,760.0 753.0,758.7 755.0,757.4 757.0,756.1 759.0,754.8 761.0,753.5 763.0,752.3 765.0,751.0 767.0,749.8 769.0,748.6 771.0,747.5 773.0,746.3 775.0,745.2 777.0,744.1 779.0,743.0 781.0,741.9 783.0,740.8 785.0,739.7 787.0,738.7 789.0,737.6 791.0,736.6 793.0,735.6 795.0,734.6 797.0,733.6 799.0,732.6 801.0,731.7 803.0,730.7 805.0,729.7 807.0,728.8 809.0,727.8 811.0,726.9 813.0,726.0 815.0,725.1 817.0,724.2 819.0,723.3 821.0,722.4 823.0,721.5 825.0,720.7 827.0,719.8 829.0,719.0 831.0,718.2 833.0,717.4 835.0,716.6 837.0,715.8 839.0,715.0 841.0,714.2 843.0,713.5 845.0,712.8 847.0,712.1 849.0,711.4 851.0,710.7 853.0,710.0 855.0,709.4 857.0,708.7 859.0,708.1 861.0,707.5 863.0,706.9 865.0,706.3 867.0,705.8 869.0,705.3 871.0,704.7 873.0,704.2 875.0,703.8 877.0,703.3 879.0,702.9 881.0,702.4 883.0,702.1 885.0,701.7 887.0,701.3 889.0,701.0 891.0,700.7 893.0,700.4 895.0,700.1 897.0,699.9 899.0,699.6 901.0,699.4 903.0,699.2 905.0,699.1 907.0,699.0 909.0,698.9 911.0,698.8 913.0,698.7 915.0,698.7 917.0,698.7 919.0,698.7 921.0,698.8 923.0,698.9 925.0,699.0 927.0,699.1 929.0,699.3 931.0,699.5 933.0,699.8 935.0,700.1 937.0,700.4 939.0,700.8 941.0,701.2 943.0,701.6 945.0,702.1 947.0,702.6 949.0,703.2 951.0,703.8 953.0,704.4 955.0,705.1 957.0,705.9 959.0,706.7 961.0,707.5 963.0,708.4 965.0,709.3 967.0,710.3 969.0,711.3 971.0,712.4 973.0,713.5 975.0,714.7 977.0,716.0 979.0,717.2 981.0,718.6 983.0,720.0 985.0,721.5 987.0,723.0 989.0,724.6 991.0,726.2 993.0,727.9 995.0,729.7 997.0,731.5 999.0,733.4 1001.0,735.3 1003.0,737.3 1005.0,739.4 1007.0,741.6 1009.0,743.8 1011.0,746.0 1013.0,748.4 1015.0,750.8 1017.0,753.2 1019.0,755.7 1021.0,758.3 1023.0,760.9 1025.0,763.5 1027.0,766.3 1029.0,769.0 1031.0,771.8 1033.0,774.7 1035.0,777.6 1037.0,780.5 1039.0,783.5 1041.0,786.6 1043.0,789.6 1045.0,792.7 1047.0,795.9 1049.0,799.1 1051.0,802.3 1053.0,805.5 1055.0,808.8 1057.0,812.1 1059.0,815.4 1061.0,818.8 1063.0,822.2 1065.0,825.6 1067.0,829.0 1069.0,832.5 1071.0,836.0 1073.0,839.5 1075.0,843.0 1077.0,846.5 1079.0,850.0 1081.0,853.6 1083.0,857.2 1085.0,860.7 1087.0,864.3 1089.0,867.9 1091.0,871.5 1093.0,875.1 1095.0,878.7 1097.0,882.4 1099.0,886.0 1101.0,889.6 1103.0,893.2 1105.0,896.8 1107.0,900.4 1109.0,904.0 1111.0,907.6 1113.0,911.2 1115.0,914.8 1117.0,918.4 1119.0,921.9 1121.0,925.5 1123.0,929.1 1125.0,932.6 1127.0,936.2 1129.0,939.7 1131.0,943.2 1133.0,946.7 1135.0,950.2 1137.0,953.7 1139.0,957.2 1141.0,960.7 1143.0,964.1 1145.0,967.6 1147.0,971.0 1149.0,974.4 1151.0,977.8 1153.0,981.2 1155.0,984.6 1157.0,988.0 1159.0,991.3 1161.0,994.6 1163.0,997.9 1165.0,1001.2 1167.0,1004.5 1169.0,1007.8 1171.0,1011.0 1173.0,1014.2 1175.0,1017.4 1177.0,1020.6 1179.0,1023.7 1181.0,1026.9 1183.0,1030.0 1185.0,1033.1 1187.0,1036.1 1189.0,1039.2 1191.0,1042.2 1193.0,1045.2 1195.0,1048.1 1197.0,1051.1 1199.0,1054.0 1201.0,1056.8 1203.0,1059.7 1205.0,1062.5 1207.0,1065.3 1209.0,1068.0 1211.0,1070.8 1213.0,1073.5 1215.0,1076.1 1217.0,1078.7 1219.0,1081.3 1221.0,1083.9 1223.0,1086.4 1225.0,1088.9 1227.0,1091.3 1229.0,1093.7 1231.0,1096.1 1233.0,1098.4 1235.0,1100.7 1237.0,1102.9 1239.0,1105.1 1241.0,1107.2 1243.0,1109.3 1245.0,1111.4 1247.0,1113.4 1249.0,1115.4 1251.0,1117.3 1253.0,1119.1 1255.0,1121.0 1257.0,1122.7 1259.0,1124.5 1261.0,1126.1 1263.0,1127.8 1265.0,1129.4 1267.0,1130.9 1269.0,1132.4 1271.0,1133.9 1273.0,1135.3 1275.0,1136.7 1277.0,1138.1 1279.0,1139.4 1281.0,1140.7 1283.0,1141.9 1285.0,1143.1 1287.0,1144.3 1289.0,1145.4 1291.0,1146.5 1293.0,1147.5 1295.0,1148.6 1297.0,1149.6 1299.0,1150.5 1301.0,1151.5 1303.0,1152.4 1305.0,1153.2 1307.0,1154.1 1309.0,1154.9 1311.0,1155.7 1313.0,1156.5 1315.0,1157.2 1317.0,1157.9 1319.0,1158.6 1321.0,1159.3 1323.0,1159.9 1325.0,1160.5 1327.0,1161.1 1329.0,1161.7 1331.0,1162.3 1333.0,1162.8 1335.0,1163.3 1337.0,1163.8 1339.0,1164.3 1341.0,1164.8 1343.0,1165.3 1345.0,1165.7 1347.0,1166.1 1349.0,1166.5 1351.0,1166.9 1353.0,1167.3 1355.0,1167.7 1357.0,1168.1 1359.0,1168.4 1361.0,1168.8 1363.0,1169.1 1365.0,1169.4 1367.0,1169.7 1369.0,1170.1 1371.0,1170.4 1373.0,1170.7 1375.0,1170.9 1377.0,1171.2 1379.0,1171.5 1381.0,1171.8 1383.0,1172.0 1385.0,1172.3 1387.0,1172.5 1389.0,1172.8 1391.0,1173.0 1393.0,1173.2 1395.0,1173.4 1397.0,1173.6 1399.0,1173.8 1401.0,1174.0 1403.0,1174.2 1405.0,1174.4 1407.0,1174.6 1409.0,1174.8 1411.0,1175.0 1413.0,1175.1 1415.0,1175.3 1417.0,1175.4 1419.0,1175.6 1421.0,1175.8 1423.0,1175.9 1425.0,1176.0 1427.0,1176.2 1429.0,1176.3 1431.0,1176.4 1433.0,1176.6 1435.0,1176.7 1437.0,1176.8 1439.0,1176.9 1441.0,1177.1 1443.0,1177.2 1445.0,1177.3 1447.0,1177.4 1449.0,1177.5 1451.0,1177.6 1453.0,1177.7 1455.0,1177.8 1457.0,1177.9 1459.0,1178.0 1461.0,1178.1 1463.0,1178.2 1465.0,1178.3 1467.0,1178.4 1469.0,1178.5 1471.0,1178.6 1473.0,1178.7 1475.0,1178.7 1477.0,1178.8 1479.0,1178.9 1481.0,1179.0 1483.0,1179.1 1485.0,1179.2 1487.0,1179.2 1489.0,1179.3 1491.0,1179.4 1493.0,1179.5 1495.0,1179.5 1497.0,1179.6 1499.0,1179.7 1501.0,1179.7 1503.0,1179.8 1505.0,1179.9 1507.0,1179.9 1509.0,1180.0 1511.0,1180.0 1513.0,1180.1 1515.0,1180.2 1517.0,1180.2 1519.0,1180.3 1521.0,1180.3 1523.0,1180.4 1525.0,1180.4 1527.0,1180.5 1529.0,1180.5 1531.0,1180.6 1533.0,1180.6 1535.0,1180.6 1537.0,1180.7 1539.0,1180.7 1541.0,1180.8 1543.0,1180.8 1545.0,1180.8 1547.0,1180.9 1549.0,1180.9 1551.0,1181.0 1553.0,1181.0 1555.0,1181.0 1557.0,1181.1 1559.0,1181.1 1561.0,1181.1 1563.0,1181.1 1565.0,1181.2 1567.0,1181.2 1569.0,1181.2 1571.0,1181.2 1573.0,1181.3 1575.0,1181.3 1577.0,1181.3 1579.0,1181.3 1581.0,1181.4 1583.0,1181.4 1585.0,1181.4 1587.0,1181.4 1589.0,1181.4 1591.0,1181.4 1593.0,1181.5 1595.0,1181.5 1597.0,1181.5 1599.0,1181.5 1601.0,1181.5 1603.0,1181.5 1605.0,1181.5 1607.0,1181.5 1609.0,1181.5 1611.0,1181.6 1613.0,1181.6 1615.0,1181.6 1617.0,1181.6 1619.0,1181.6 1621.0,1181.6 1623.0,1181.6 1625.0,1181.6 1627.0,1181.6 1629.0,1181.6 1631.0,1181.6 1633.0,1181.6 1635.0,1181.6 1637.0,1181.6 1639.0,1181.6 1641.0,1181.6 1643.0,1181.6 1645.0,1181.6 1647.0,1181.6 1649.0,1181.6 1651.0,1181.6 1653.0,1181.6 1655.0,1181.6 1657.0,1181.6 1659.0,1181.6 1661.0,1181.6 1663.0,1181.6 1665.0,1181.6 1667.0,1181.6 1669.0,1181.5 1671.0,1181.5 1673.0,1181.5 1675.0,1181.5 1677.0,1181.5 1679.0,1181.5 1681.0,1181.5 1683.0,1181.5 1685.0,1181.5 1687.0,1181.5 1689.0,1181.5 1691.0,1181.5 1693.0,1181.5 1695.0,1181.4 1697.0,1181.4 1699.0,1181.4 1701.0,1181.4 1703.0,1181.4 1705.0,1181.4 1707.0,1181.4 1709.0,1181.4 1711.0,1181.4 1713.0,1181.4 1715.0,1181.3 1717.0,1181.3 1719.0,1181.3 1721.0,1181.3 1723.0,1181.3 1725.0,1181.3 1727.0,1181.3 1729.0,1181.3 1731.0,1181.3 1733.0,1181.3 1735.0,1181.3 1737.0,1181.2 1739.0,1181.2 1741.0,1181.2 1743.0,1181.2 1745.0,1181.2 1747.0,1181.2 1749.0,1181.2 1751.0,1181.2 1753.0,1181.2 1755.0,1181.2 1757.0,1181.2 1759.0,1181.2 1761.0,1181.2 1763.0,1181.1 1765.0,1181.1 1767.0,1181.1 1769.0,1181.1 1771.0,1181.1 1773.0,1181.1 1775.0,1181.1 1777.0,1181.1 1779.0,1181.1 1781.0,1181.1 1783.0,1181.1 1785.0,1181.1 1787.0,1181.1 1789.0,1181.1 1791.0,1181.1 1793.0,1181.1 1795.0,1181.1 1797.0,1181.1 1799.0,1181.1 1801.0,1181.1 1803.0,1181.1 1805.0,1181.1 1807.0,1181.1 1809.0,1181.1 1811.0,1181.1 1813.0,1181.1 1815.0,1181.2 1817.0,1181.2 1819.0,1181.2 1821.0,1181.2 1823.0,1181.2 1825.0,1181.2 1827.0,1181.2 1829.0,1181.2 1831.0,1181.2 1833.0,1181.3 1835.0,1181.3 1837.0,1181.3 1839.0,1181.3 1841.0,1181.3 1843.0,1181.3 1845.0,1181.4 1847.0,1181.4 1849.0,1181.4 1851.0,1181.4 1853.0,1181.4 1855.0,1181.5 1857.0,1181.5 1859.0,1181.5 1861.0,1181.5 1863.0,1181.6 1865.0,1181.6 1867.0,1181.6 1869.0,1181.7 1871.0,1181.7 1873.0,1181.7 1875.0,1181.7 1877.0,1181.8 1879.0,1181.8 1881.0,1181.9 1883.0,1181.9 1885.0,1181.9 1887.0,1182.0 1889.0,1182.0 1891.0,1182.1 1893.0,1182.1 1895.0,1182.1 1897.0,1182.2 1899.0,1182.2 1901.0,1182.3 1903.0,1182.3 1905.0,1182.4 1907.0,1182.4 1909.0,1182.5 1911.0,1182.5 1913.0,1182.6 1915.0,1182.7 1917.0,1182.7 1918.0,1182.7" stroke="#2ed82e" stroke-width="5.6"/>
<path d="M291.0,972.0 L293.0,972.8 295.0,973.6 297.0,974.4 299.0,975.2 301.0,975.9 303.0,976.7 305.0,977.5 307.0,978.2 309.0,979.0 311.0,979.7 313.0,980.5 315.0,981.2 317.0,981.9 319.0,982.7 321.0,983.4 323.0,984.1 325.0,984.8 327.0,985.5 329.0,986.1 331.0,986.8 333.0,987.5 335.0,988.1 337.0,988.8 339.0,989.4 341.0,990.0 343.0,990.7 345.0,991.3 347.0,991.9 349.0,992.5 351.0,993.0 353.0,993.6 355.0,994.2 357.0,994.7 359.0,995.2 361.0,995.8 363.0,996.3 365.0,996.8 367.0,997.3 369.0,997.7 371.0,998.2 373.0,998.7 375.0,999.1 377.0,999.5 379.0,999.9 381.0,1000.3 383.0,1000.7 385.0,1001.1 387.0,1001.4 389.0,1001.8 391.0,1002.1 393.0,1002.4 395.0,1002.7 397.0,1003.0 399.0,1003.3 401.0,1003.5 403.0,1003.7 405.0,1004.0 407.0,1004.2 409.0,1004.3 411.0,1004.5 413.0,1004.7 415.0,1004.8 417.0,1004.9 419.0,1005.0 421.0,1005.1 423.0,1005.2 425.0,1005.2 427.0,1005.2 429.0,1005.3 431.0,1005.2 433.0,1005.2 435.0,1005.2 437.0,1005.1 439.0,1005.0 441.0,1004.9 443.0,1004.8 445.0,1004.6 447.0,1004.5 449.0,1004.3 451.0,1004.1 453.0,1003.8 455.0,1003.6 457.0,1003.3 459.0,1003.0 461.0,1002.7 463.0,1002.4 465.0,1002.0 467.0,1001.6 469.0,1001.2 471.0,1000.8 473.0,1000.3 475.0,999.9 477.0,999.4 479.0,998.8 481.0,998.3 483.0,997.7 485.0,997.1 487.0,996.5 489.0,995.9 491.0,995.2 493.0,994.5 495.0,993.8 497.0,993.0 499.0,992.3 501.0,991.5 503.0,990.7 505.0,989.8 507.0,989.0 509.0,988.1 511.0,987.2 513.0,986.3 515.0,985.4 517.0,984.4 519.0,983.4 521.0,982.4 523.0,981.4 525.0,980.4 527.0,979.4 529.0,978.3 531.0,977.2 533.0,976.1 535.0,975.0 537.0,973.9 539.0,972.8 541.0,971.7 543.0,970.5 545.0,969.3 547.0,968.2 549.0,967.0 551.0,965.8 553.0,964.6 555.0,963.4 557.0,962.1 559.0,960.9 561.0,959.7 563.0,958.4 565.0,957.2 567.0,955.9 569.0,954.6 571.0,953.4 573.0,952.1 575.0,950.8 577.0,949.5 579.0,948.2 581.0,946.9 583.0,945.7 585.0,944.4 587.0,943.1 589.0,941.8 591.0,940.5 593.0,939.2 595.0,937.9 597.0,936.6 599.0,935.3 601.0,934.0 603.0,932.7 605.0,931.5 607.0,930.2 609.0,928.9 611.0,927.7 613.0,926.4 615.0,925.1 617.0,923.9 619.0,922.7 621.0,921.4 623.0,920.2 625.0,919.0 627.0,917.8 629.0,916.6 631.0,915.4 633.0,914.2 635.0,913.1 637.0,911.9 639.0,910.8 641.0,909.6 643.0,908.5 645.0,907.4 647.0,906.3 649.0,905.3 651.0,904.2 653.0,903.2 655.0,902.1 657.0,901.1 659.0,900.1 661.0,899.1 663.0,898.2 665.0,897.2 667.0,896.3 669.0,895.3 671.0,894.4 673.0,893.5 675.0,892.6 677.0,891.8 679.0,890.9 681.0,890.1 683.0,889.2 685.0,888.4 687.0,887.6 689.0,886.8 691.0,886.1 693.0,885.3 695.0,884.6 697.0,883.8 699.0,883.1 701.0,882.4 703.0,881.7 705.0,881.1 707.0,880.4 709.0,879.8 711.0,879.1 713.0,878.5 715.0,877.9 717.0,877.3 719.0,876.7 721.0,876.2 723.0,875.6 725.0,875.1 727.0,874.6 729.0,874.1 731.0,873.6 733.0,873.1 735.0,872.7 737.0,872.2 739.0,871.8 741.0,871.4 743.0,871.0 745.0,870.6 747.0,870.2 749.0,869.9 751.0,869.5 753.0,869.2 755.0,868.9 757.0,868.6 759.0,868.3 761.0,868.0 763.0,867.7 765.0,867.5 767.0,867.3 769.0,867.0 771.0,866.8 773.0,866.6 775.0,866.5 777.0,866.3 779.0,866.2 781.0,866.0 783.0,865.9 785.0,865.8 787.0,865.7 789.0,865.6 791.0,865.5 793.0,865.5 795.0,865.5 797.0,865.4 799.0,865.4 801.0,865.4 803.0,865.5 805.0,865.5 807.0,865.5 809.0,865.6 811.0,865.7 813.0,865.8 815.0,865.9 817.0,866.0 819.0,866.1 821.0,866.2 823.0,866.4 825.0,866.6 827.0,866.8 829.0,867.0 831.0,867.2 833.0,867.4 835.0,867.6 837.0,867.9 839.0,868.2 841.0,868.4 843.0,868.7 845.0,869.1 847.0,869.4 849.0,869.7 851.0,870.1 853.0,870.4 855.0,870.8 857.0,871.2 859.0,871.6 861.0,872.0 863.0,872.5 865.0,872.9 867.0,873.4 869.0,873.9 871.0,874.3 873.0,874.8 875.0,875.4 877.0,875.9 879.0,876.4 881.0,877.0 883.0,877.6 885.0,878.2 887.0,878.8 889.0,879.4 891.0,880.0 893.0,880.6 895.0,881.3 897.0,882.0 899.0,882.6 901.0,883.3 903.0,884.0 905.0,884.8 907.0,885.5 909.0,886.3 911.0,887.0 913.0,887.8 915.0,888.6 917.0,889.4 919.0,890.2 921.0,891.0 923.0,891.9 925.0,892.7 927.0,893.6 929.0,894.5 931.0,895.4 933.0,896.3 935.0,897.2 937.0,898.2 939.0,899.1 941.0,900.1 943.0,901.1 945.0,902.1 947.0,903.1 949.0,904.1 951.0,905.2 953.0,906.2 955.0,907.3 957.0,908.3 959.0,909.4 961.0,910.5 963.0,911.6 965.0,912.8 967.0,913.9 969.0,915.1 971.0,916.2 973.0,917.4 975.0,918.6 977.0,919.8 979.0,921.1 981.0,922.3 983.0,923.6 985.0,924.8 987.0,926.1 989.0,927.4 991.0,928.7 993.0,930.0 995.0,931.3 997.0,932.7 999.0,934.0 1001.0,935.4 1003.0,936.8 1005.0,938.2 1007.0,939.6 1009.0,941.0 1011.0,942.5 1013.0,943.9 1015.0,945.4 1017.0,946.9 1019.0,948.4 1021.0,949.9 1023.0,951.4 1025.0,952.9 1027.0,954.5 1029.0,956.0 1031.0,957.6 1033.0,959.2 1035.0,960.8 1037.0,962.4 1039.0,964.0 1041.0,965.7 1043.0,967.3 1045.0,969.0 1047.0,970.7 1049.0,972.4 1051.0,974.1 1053.0,975.8 1055.0,977.5 1057.0,979.2 1059.0,981.0 1061.0,982.8 1063.0,984.5 1065.0,986.3 1067.0,988.1 1069.0,989.9 1071.0,991.7 1073.0,993.5 1075.0,995.3 1077.0,997.2 1079.0,999.0 1081.0,1000.9 1083.0,1002.7 1085.0,1004.6 1087.0,1006.4 1089.0,1008.3 1091.0,1010.2 1093.0,1012.0 1095.0,1013.9 1097.0,1015.8 1099.0,1017.7 1101.0,1019.6 1103.0,1021.5 1105.0,1023.4 1107.0,1025.3 1109.0,1027.2 1111.0,1029.1 1113.0,1031.0 1115.0,1032.9 1117.0,1034.8 1119.0,1036.7 1121.0,1038.6 1123.0,1040.5 1125.0,1042.4 1127.0,1044.3 1129.0,1046.2 1131.0,1048.0 1133.0,1049.9 1135.0,1051.8 1137.0,1053.7 1139.0,1055.6 1141.0,1057.4 1143.0,1059.3 1145.0,1061.1 1147.0,1063.0 1149.0,1064.8 1151.0,1066.7 1153.0,1068.5 1155.0,1070.3 1157.0,1072.2 1159.0,1074.0 1161.0,1075.8 1163.0,1077.5 1165.0,1079.3 1167.0,1081.1 1169.0,1082.9 1171.0,1084.6 1173.0,1086.3 1175.0,1088.1 1177.0,1089.8 1179.0,1091.5 1181.0,1093.2 1183.0,1094.9 1185.0,1096.5 1187.0,1098.2 1189.0,1099.8 1191.0,1101.4 1193.0,1103.0 1195.0,1104.6 1197.0,1106.2 1199.0,1107.8 1201.0,1109.3 1203.0,1110.8 1205.0,1112.4 1207.0,1113.8 1209.0,1115.3 1211.0,1116.8 1213.0,1118.2 1215.0,1119.6 1217.0,1121.0 1219.0,1122.4 1221.0,1123.8 1223.0,1125.1 1225.0,1126.4 1227.0,1127.7 1229.0,1129.0 1231.0,1130.2 1233.0,1131.5 1235.0,1132.7 1237.0,1133.9 1239.0,1135.0 1241.0,1136.2 1243.0,1137.3 1245.0,1138.4 1247.0,1139.4 1249.0,1140.5 1251.0,1141.5 1253.0,1142.5 1255.0,1143.4 1257.0,1144.3 1259.0,1145.3 1261.0,1146.1 1263.0,1147.0 1265.0,1147.8 1267.0,1148.7 1269.0,1149.4 1271.0,1150.2 1273.0,1151.0 1275.0,1151.7 1277.0,1152.4 1279.0,1153.1 1281.0,1153.7 1283.0,1154.4 1285.0,1155.0 1287.0,1155.6 1289.0,1156.2 1291.0,1156.8 1293.0,1157.3 1295.0,1157.9 1297.0,1158.4 1299.0,1158.9 1301.0,1159.4 1303.0,1159.9 1305.0,1160.3 1307.0,1160.8 1309.0,1161.2 1311.0,1161.6 1313.0,1162.0 1315.0,1162.4 1317.0,1162.8 1319.0,1163.2 1321.0,1163.5 1323.0,1163.9 1325.0,1164.2 1327.0,1164.5 1329.0,1164.8 1331.0,1165.1 1333.0,1165.4 1335.0,1165.7 1337.0,1166.0 1339.0,1166.3 1341.0,1166.5 1343.0,1166.8 1345.0,1167.1 1347.0,1167.3 1349.0,1167.5 1351.0,1167.8 1353.0,1168.0 1355.0,1168.2 1357.0,1168.5 1359.0,1168.7 1361.0,1168.9 1363.0,1169.1 1365.0,1169.3 1367.0,1169.5 1369.0,1169.7 1371.0,1169.9 1373.0,1170.1 1375.0,1170.3 1377.0,1170.4 1379.0,1170.6 1381.0,1170.8 1383.0,1170.9 1385.0,1171.1 1387.0,1171.3 1389.0,1171.4 1391.0,1171.6 1393.0,1171.7 1395.0,1171.9 1397.0,1172.0 1399.0,1172.2 1401.0,1172.3 1403.0,1172.4 1405.0,1172.6 1407.0,1172.7 1409.0,1172.8 1411.0,1172.9 1413.0,1173.1 1415.0,1173.2 1417.0,1173.3 1419.0,1173.4 1421.0,1173.5 1423.0,1173.6 1425.0,1173.7 1427.0,1173.8 1429.0,1174.0 1431.0,1174.1 1433.0,1174.2 1435.0,1174.3 1437.0,1174.3 1439.0,1174.4 1441.0,1174.5 1443.0,1174.6 1445.0,1174.7 1447.0,1174.8 1449.0,1174.9 1451.0,1175.0 1453.0,1175.1 1455.0,1175.2 1457.0,1175.2 1459.0,1175.3 1461.0,1175.4 1463.0,1175.5 1465.0,1175.6 1467.0,1175.7 1469.0,1175.7 1471.0,1175.8 1473.0,1175.9 1475.0,1176.0 1477.0,1176.1 1479.0,1176.1 1481.0,1176.2 1483.0,1176.3 1485.0,1176.4 1487.0,1176.4 1489.0,1176.5 1491.0,1176.6 1493.0,1176.6 1495.0,1176.7 1497.0,1176.8 1499.0,1176.8 1501.0,1176.9 1503.0,1177.0 1505.0,1177.0 1507.0,1177.1 1509.0,1177.2 1511.0,1177.2 1513.0,1177.3 1515.0,1177.4 1517.0,1177.4 1519.0,1177.5 1521.0,1177.5 1523.0,1177.6 1525.0,1177.7 1527.0,1177.7 1529.0,1177.8 1531.0,1177.8 1533.0,1177.9 1535.0,1177.9 1537.0,1178.0 1539.0,1178.1 1541.0,1178.1 1543.0,1178.2 1545.0,1178.2 1547.0,1178.3 1549.0,1178.3 1551.0,1178.4 1553.0,1178.4 1555.0,1178.5 1557.0,1178.5 1559.0,1178.5 1561.0,1178.6 1563.0,1178.6 1565.0,1178.7 1567.0,1178.7 1569.0,1178.8 1571.0,1178.8 1573.0,1178.9 1575.0,1178.9 1577.0,1178.9 1579.0,1179.0 1581.0,1179.0 1583.0,1179.1 1585.0,1179.1 1587.0,1179.1 1589.0,1179.2 1591.0,1179.2 1593.0,1179.3 1595.0,1179.3 1597.0,1179.3 1599.0,1179.4 1601.0,1179.4 1603.0,1179.4 1605.0,1179.5 1607.0,1179.5 1609.0,1179.5 1611.0,1179.6 1613.0,1179.6 1615.0,1179.6 1617.0,1179.7 1619.0,1179.7 1621.0,1179.7 1623.0,1179.7 1625.0,1179.8 1627.0,1179.8 1629.0,1179.8 1631.0,1179.8 1633.0,1179.9 1635.0,1179.9 1637.0,1179.9 1639.0,1180.0 1641.0,1180.0 1643.0,1180.0 1645.0,1180.0 1647.0,1180.0 1649.0,1180.1 1651.0,1180.1 1653.0,1180.1 1655.0,1180.1 1657.0,1180.2 1659.0,1180.2 1661.0,1180.2 1663.0,1180.2 1665.0,1180.2 1667.0,1180.3 1669.0,1180.3 1671.0,1180.3 1673.0,1180.3 1675.0,1180.3 1677.0,1180.3 1679.0,1180.4 1681.0,1180.4 1683.0,1180.4 1685.0,1180.4 1687.0,1180.4 1689.0,1180.4 1691.0,1180.4 1693.0,1180.5 1695.0,1180.5 1697.0,1180.5 1699.0,1180.5 1701.0,1180.5 1703.0,1180.5 1705.0,1180.5 1707.0,1180.5 1709.0,1180.6 1711.0,1180.6 1713.0,1180.6 1715.0,1180.6 1717.0,1180.6 1719.0,1180.6 1721.0,1180.6 1723.0,1180.6 1725.0,1180.6 1727.0,1180.6 1729.0,1180.7 1731.0,1180.7 1733.0,1180.7 1735.0,1180.7 1737.0,1180.7 1739.0,1180.7 1741.0,1180.7 1743.0,1180.7 1745.0,1180.7 1747.0,1180.7 1749.0,1180.7 1751.0,1180.7 1753.0,1180.7 1755.0,1180.7 1757.0,1180.7 1759.0,1180.7 1761.0,1180.8 1763.0,1180.8 1765.0,1180.8 1767.0,1180.8 1769.0,1180.8 1771.0,1180.8 1773.0,1180.8 1775.0,1180.8 1777.0,1180.8 1779.0,1180.8 1781.0,1180.8 1783.0,1180.8 1785.0,1180.8 1787.0,1180.8 1789.0,1180.8 1791.0,1180.8 1793.0,1180.8 1795.0,1180.8 1797.0,1180.8 1799.0,1180.8 1801.0,1180.8 1803.0,1180.8 1805.0,1180.8 1807.0,1180.8 1809.0,1180.8 1811.0,1180.8 1813.0,1180.8 1815.0,1180.8 1817.0,1180.8 1819.0,1180.8 1821.0,1180.8 1823.0,1180.8 1825.0,1180.8 1827.0,1180.8 1829.0,1180.8 1831.0,1180.8 1833.0,1180.8 1835.0,1180.8 1837.0,1180.8 1839.0,1180.8 1841.0,1180.8 1843.0,1180.8 1845.0,1180.8 1847.0,1180.8 1849.0,1180.8 1851.0,1180.8 1853.0,1180.8 1855.0,1180.8 1857.0,1180.8 1859.0,1180.8 1861.0,1180.8 1863.0,1180.8 1865.0,1180.8 1867.0,1180.8 1869.0,1180.8 1871.0,1180.8 1873.0,1180.8 1875.0,1180.8 1877.0,1180.8 1879.0,1180.8 1881.0,1180.8 1883.0,1180.8 1885.0,1180.8 1887.0,1180.8 1889.0,1180.8 1891.0,1180.8 1893.0,1180.8 1895.0,1180.8 1897.0,1180.8 1899.0,1180.8 1901.0,1180.8 1903.0,1180.8 1905.0,1180.8 1907.0,1180.8 1909.0,1180.8 1911.0,1180.8 1913.0,1180.8 1915.0,1180.8 1917.0,1180.8 1918.0,1180.8" stroke="#0c0cb0" stroke-width="6.0"/>
<path d="M291.0,984.1 L293.0,984.9 295.0,985.6 297.0,986.4 299.0,987.1 301.0,987.8 303.0,988.5 305.0,989.2 307.0,989.9 309.0,990.6 311.0,991.3 313.0,991.9 315.0,992.6 317.0,993.2 319.0,993.8 321.0,994.5 323.0,995.1 325.0,995.7 327.0,996.3 329.0,996.8 331.0,997.4 333.0,998.0 335.0,998.5 337.0,999.1 339.0,999.6 341.0,1000.1 343.0,1000.6 345.0,1001.1 347.0,1001.6 349.0,1002.1 351.0,1002.5 353.0,1003.0 355.0,1003.4 357.0,1003.8 359.0,1004.2 361.0,1004.6 363.0,1005.0 365.0,1005.4 367.0,1005.8 369.0,1006.1 371.0,1006.5 373.0,1006.8 375.0,1007.1 377.0,1007.4 379.0,1007.7 381.0,1008.0 383.0,1008.3 385.0,1008.5 387.0,1008.8 389.0,1009.0 391.0,1009.2 393.0,1009.4 395.0,1009.6 397.0,1009.8 399.0,1009.9 401.0,1010.1 403.0,1010.2 405.0,1010.3 407.0,1010.4 409.0,1010.5 411.0,1010.6 413.0,1010.7 415.0,1010.7 417.0,1010.8 419.0,1010.8 421.0,1010.8 423.0,1010.8 425.0,1010.8 427.0,1010.7 429.0,1010.7 431.0,1010.6 433.0,1010.6 435.0,1010.5 437.0,1010.3 439.0,1010.2 441.0,1010.1 443.0,1009.9 445.0,1009.8 447.0,1009.6 449.0,1009.4 451.0,1009.2 453.0,1008.9 455.0,1008.7 457.0,1008.4 459.0,1008.1 461.0,1007.8 463.0,1007.5 465.0,1007.2 467.0,1006.8 469.0,1006.5 471.0,1006.1 473.0,1005.7 475.0,1005.3 477.0,1004.9 479.0,1004.4 481.0,1004.0 483.0,1003.5 485.0,1003.0 487.0,1002.5 489.0,1001.9 491.0,1001.4 493.0,1000.8 495.0,1000.2 497.0,999.6 499.0,999.0 501.0,998.4 503.0,997.8 505.0,997.1 507.0,996.4 509.0,995.7 511.0,995.0 513.0,994.3 515.0,993.6 517.0,992.9 519.0,992.1 521.0,991.4 523.0,990.6 525.0,989.8 527.0,989.0 529.0,988.2 531.0,987.4 533.0,986.6 535.0,985.8 537.0,984.9 539.0,984.1 541.0,983.2 543.0,982.4 545.0,981.5 547.0,980.6 549.0,979.7 551.0,978.8 553.0,978.0 555.0,977.1 557.0,976.2 559.0,975.2 561.0,974.3 563.0,973.4 565.0,972.5 567.0,971.6 569.0,970.6 571.0,969.7 573.0,968.8 575.0,967.8 577.0,966.9 579.0,966.0 581.0,965.0 583.0,964.1 585.0,963.2 587.0,962.2 589.0,961.3 591.0,960.4 593.0,959.4 595.0,958.5 597.0,957.6 599.0,956.6 601.0,955.7 603.0,954.8 605.0,953.9 607.0,953.0 609.0,952.1 611.0,951.2 613.0,950.3 615.0,949.4 617.0,948.5 619.0,947.6 621.0,946.7 623.0,945.9 625.0,945.0 627.0,944.2 629.0,943.3 631.0,942.5 633.0,941.7 635.0,940.8 637.0,940.0 639.0,939.2 641.0,938.5 643.0,937.7 645.0,936.9 647.0,936.2 649.0,935.4 651.0,934.7 653.0,934.0 655.0,933.3 657.0,932.6 659.0,931.9 661.0,931.2 663.0,930.6 665.0,930.0 667.0,929.3 669.0,928.7 671.0,928.1 673.0,927.6 675.0,927.0 677.0,926.5 679.0,925.9 681.0,925.4 683.0,925.0 685.0,924.5 687.0,924.0 689.0,923.6 691.0,923.2 693.0,922.8 695.0,922.4 697.0,922.0 699.0,921.7 701.0,921.3 703.0,921.0 705.0,920.7 707.0,920.4 709.0,920.2 711.0,919.9 713.0,919.7 715.0,919.4 717.0,919.2 719.0,919.0 721.0,918.9 723.0,918.7 725.0,918.6 727.0,918.4 729.0,918.3 731.0,918.2 733.0,918.1 735.0,918.0 737.0,918.0 739.0,917.9 741.0,917.9 743.0,917.9 745.0,917.9 747.0,917.9 749.0,917.9 751.0,917.9 753.0,918.0 755.0,918.1 757.0,918.1 759.0,918.2 761.0,918.3 763.0,918.4 765.0,918.6 767.0,918.7 769.0,918.9 771.0,919.0 773.0,919.2 775.0,919.4 777.0,919.6 779.0,919.8 781.0,920.0 783.0,920.2 785.0,920.5 787.0,920.7 789.0,921.0 791.0,921.3 793.0,921.6 795.0,921.9 797.0,922.2 799.0,922.5 801.0,922.8 803.0,923.1 805.0,923.5 807.0,923.9 809.0,924.2 811.0,924.6 813.0,925.0 815.0,925.4 817.0,925.8 819.0,926.2 821.0,926.6 823.0,927.1 825.0,927.5 827.0,927.9 829.0,928.4 831.0,928.9 833.0,929.3 835.0,929.8 837.0,930.3 839.0,930.8 841.0,931.3 843.0,931.8 845.0,932.3 847.0,932.9 849.0,933.4 851.0,933.9 853.0,934.5 855.0,935.1 857.0,935.6 859.0,936.2 861.0,936.8 863.0,937.3 865.0,937.9 867.0,938.5 869.0,939.1 871.0,939.7 873.0,940.3 875.0,940.9 877.0,941.6 879.0,942.2 881.0,942.8 883.0,943.5 885.0,944.1 887.0,944.7 889.0,945.4 891.0,946.1 893.0,946.7 895.0,947.4 897.0,948.1 899.0,948.7 901.0,949.4 903.0,950.1 905.0,950.8 907.0,951.5 909.0,952.2 911.0,953.0 913.0,953.7 915.0,954.4 917.0,955.2 919.0,955.9 921.0,956.7 923.0,957.5 925.0,958.2 927.0,959.0 929.0,959.8 931.0,960.6 933.0,961.4 935.0,962.3 937.0,963.1 939.0,964.0 941.0,964.8 943.0,965.7 945.0,966.5 947.0,967.4 949.0,968.3 951.0,969.2 953.0,970.2 955.0,971.1 957.0,972.0 959.0,973.0 961.0,974.0 963.0,974.9 965.0,975.9 967.0,976.9 969.0,977.9 971.0,979.0 973.0,980.0 975.0,981.1 977.0,982.1 979.0,983.2 981.0,984.3 983.0,985.4 985.0,986.6 987.0,987.7 989.0,988.9 991.0,990.0 993.0,991.2 995.0,992.4 997.0,993.6 999.0,994.8 1001.0,996.1 1003.0,997.3 1005.0,998.5 1007.0,999.8 1009.0,1001.1 1011.0,1002.4 1013.0,1003.7 1015.0,1005.0 1017.0,1006.3 1019.0,1007.6 1021.0,1009.0 1023.0,1010.3 1025.0,1011.7 1027.0,1013.0 1029.0,1014.4 1031.0,1015.8 1033.0,1017.2 1035.0,1018.5 1037.0,1019.9 1039.0,1021.3 1041.0,1022.8 1043.0,1024.2 1045.0,1025.6 1047.0,1027.0 1049.0,1028.5 1051.0,1029.9 1053.0,1031.4 1055.0,1032.8 1057.0,1034.3 1059.0,1035.7 1061.0,1037.2 1063.0,1038.7 1065.0,1040.1 1067.0,1041.6 1069.0,1043.1 1071.0,1044.5 1073.0,1046.0 1075.0,1047.5 1077.0,1049.0 1079.0,1050.4 1081.0,1051.9 1083.0,1053.4 1085.0,1054.9 1087.0,1056.3 1089.0,1057.8 1091.0,1059.3 1093.0,1060.7 1095.0,1062.2 1097.0,1063.7 1099.0,1065.1 1101.0,1066.5 1103.0,1068.0 1105.0,1069.4 1107.0,1070.8 1109.0,1072.3 1111.0,1073.7 1113.0,1075.1 1115.0,1076.5 1117.0,1077.9 1119.0,1079.3 1121.0,1080.7 1123.0,1082.0 1125.0,1083.4 1127.0,1084.8 1129.0,1086.1 1131.0,1087.4 1133.0,1088.8 1135.0,1090.1 1137.0,1091.4 1139.0,1092.7 1141.0,1094.0 1143.0,1095.3 1145.0,1096.6 1147.0,1097.9 1149.0,1099.1 1151.0,1100.4 1153.0,1101.6 1155.0,1102.9 1157.0,1104.1 1159.0,1105.3 1161.0,1106.5 1163.0,1107.7 1165.0,1108.9 1167.0,1110.1 1169.0,1111.3 1171.0,1112.4 1173.0,1113.6 1175.0,1114.7 1177.0,1115.9 1179.0,1117.0 1181.0,1118.1 1183.0,1119.2 1185.0,1120.3 1187.0,1121.4 1189.0,1122.5 1191.0,1123.5 1193.0,1124.6 1195.0,1125.6 1197.0,1126.6 1199.0,1127.7 1201.0,1128.7 1203.0,1129.7 1205.0,1130.6 1207.0,1131.6 1209.0,1132.6 1211.0,1133.6 1213.0,1134.5 1215.0,1135.4 1217.0,1136.4 1219.0,1137.3 1221.0,1138.2 1223.0,1139.1 1225.0,1139.9 1227.0,1140.8 1229.0,1141.7 1231.0,1142.5 1233.0,1143.3 1235.0,1144.2 1237.0,1145.0 1239.0,1145.8 1241.0,1146.6 1243.0,1147.4 1245.0,1148.1 1247.0,1148.9 1249.0,1149.6 1251.0,1150.4 1253.0,1151.1 1255.0,1151.8 1257.0,1152.5 1259.0,1153.2 1261.0,1153.8 1263.0,1154.5 1265.0,1155.1 1267.0,1155.8 1269.0,1156.4 1271.0,1157.0 1273.0,1157.6 1275.0,1158.2 1277.0,1158.8 1279.0,1159.3 1281.0,1159.9 1283.0,1160.4 1285.0,1161.0 1287.0,1161.5 1289.0,1162.0 1291.0,1162.5 1293.0,1163.0 1295.0,1163.4 1297.0,1163.9 1299.0,1164.4 1301.0,1164.8 1303.0,1165.2 1305.0,1165.7 1307.0,1166.1 1309.0,1166.5 1311.0,1166.9 1313.0,1167.2 1315.0,1167.6 1317.0,1168.0 1319.0,1168.3 1321.0,1168.7 1323.0,1169.0 1325.0,1169.3 1327.0,1169.7 1329.0,1170.0 1331.0,1170.3 1333.0,1170.6 1335.0,1170.9 1337.0,1171.1 1339.0,1171.4 1341.0,1171.7 1343.0,1171.9 1345.0,1172.2 1347.0,1172.4 1349.0,1172.6 1351.0,1172.9 1353.0,1173.1 1355.0,1173.3 1357.0,1173.5 1359.0,1173.7 1361.0,1173.9 1363.0,1174.1 1365.0,1174.3 1367.0,1174.4 1369.0,1174.6 1371.0,1174.8 1373.0,1174.9 1375.0,1175.1 1377.0,1175.2 1379.0,1175.4 1381.0,1175.5 1383.0,1175.6 1385.0,1175.7 1387.0,1175.9 1389.0,1176.0 1391.0,1176.1 1393.0,1176.2 1395.0,1176.3 1397.0,1176.4 1399.0,1176.5 1401.0,1176.6 1403.0,1176.7 1405.0,1176.7 1407.0,1176.8 1409.0,1176.9 1411.0,1177.0 1413.0,1177.0 1415.0,1177.1 1417.0,1177.2 1419.0,1177.2 1421.0,1177.3 1423.0,1177.3 1425.0,1177.4 1427.0,1177.4 1429.0,1177.5 1431.0,1177.5 1433.0,1177.6 1435.0,1177.6 1437.0,1177.7 1439.0,1177.7 1441.0,1177.8 1443.0,1177.8 1445.0,1177.8 1447.0,1177.9 1449.0,1177.9 1451.0,1177.9 1453.0,1178.0 1455.0,1178.0 1457.0,1178.0 1459.0,1178.1 1461.0,1178.1 1463.0,1178.1 1465.0,1178.2 1467.0,1178.2 1469.0,1178.2 1471.0,1178.3 1473.0,1178.3 1475.0,1178.3 1477.0,1178.4 1479.0,1178.4 1481.0,1178.4 1483.0,1178.4 1485.0,1178.5 1487.0,1178.5 1489.0,1178.5 1491.0,1178.6 1493.0,1178.6 1495.0,1178.6 1497.0,1178.6 1499.0,1178.7 1501.0,1178.7 1503.0,1178.7 1505.0,1178.7 1507.0,1178.8 1509.0,1178.8 1511.0,1178.8 1513.0,1178.9 1515.0,1178.9 1517.0,1178.9 1519.0,1178.9 1521.0,1179.0 1523.0,1179.0 1525.0,1179.0 1527.0,1179.0 1529.0,1179.0 1531.0,1179.1 1533.0,1179.1 1535.0,1179.1 1537.0,1179.1 1539.0,1179.2 1541.0,1179.2 1543.0,1179.2 1545.0,1179.2 1547.0,1179.2 1549.0,1179.3 1551.0,1179.3 1553.0,1179.3 1555.0,1179.3 1557.0,1179.4 1559.0,1179.4 1561.0,1179.4 1563.0,1179.4 1565.0,1179.4 1567.0,1179.4 1569.0,1179.5 1571.0,1179.5 1573.0,1179.5 1575.0,1179.5 1577.0,1179.5 1579.0,1179.6 1581.0,1179.6 1583.0,1179.6 1585.0,1179.6 1587.0,1179.6 1589.0,1179.6 1591.0,1179.7 1593.0,1179.7 1595.0,1179.7 1597.0,1179.7 1599.0,1179.7 1601.0,1179.7 1603.0,1179.8 1605.0,1179.8 1607.0,1179.8 1609.0,1179.8 1611.0,1179.8 1613.0,1179.8 1615.0,1179.8 1617.0,1179.9 1619.0,1179.9 1621.0,1179.9 1623.0,1179.9 1625.0,1179.9 1627.0,1179.9 1629.0,1179.9 1631.0,1180.0 1633.0,1180.0 1635.0,1180.0 1637.0,1180.0 1639.0,1180.0 1641.0,1180.0 1643.0,1180.0 1645.0,1180.0 1647.0,1180.1 1649.0,1180.1 1651.0,1180.1 1653.0,1180.1 1655.0,1180.1 1657.0,1180.1 1659.0,1180.1 1661.0,1180.1 1663.0,1180.1 1665.0,1180.2 1667.0,1180.2 1669.0,1180.2 1671.0,1180.2 1673.0,1180.2 1675.0,1180.2 1677.0,1180.2 1679.0,1180.2 1681.0,1180.2 1683.0,1180.2 1685.0,1180.3 1687.0,1180.3 1689.0,1180.3 1691.0,1180.3 1693.0,1180.3 1695.0,1180.3 1697.0,1180.3 1699.0,1180.3 1701.0,1180.3 1703.0,1180.3 1705.0,1180.3 1707.0,1180.4 1709.0,1180.4 1711.0,1180.4 1713.0,1180.4 1715.0,1180.4 1717.0,1180.4 1719.0,1180.4 1721.0,1180.4 1723.0,1180.4 1725.0,1180.4 1727.0,1180.4 1729.0,1180.4 1731.0,1180.4 1733.0,1180.5 1735.0,1180.5 1737.0,1180.5 1739.0,1180.5 1741.0,1180.5 1743.0,1180.5 1745.0,1180.5 1747.0,1180.5 1749.0,1180.5 1751.0,1180.5 1753.0,1180.5 1755.0,1180.5 1757.0,1180.5 1759.0,1180.5 1761.0,1180.5 1763.0,1180.5 1765.0,1180.6 1767.0,1180.6 1769.0,1180.6 1771.0,1180.6 1773.0,1180.6 1775.0,1180.6 1777.0,1180.6 1779.0,1180.6 1781.0,1180.6 1783.0,1180.6 1785.0,1180.6 1787.0,1180.6 1789.0,1180.6 1791.0,1180.6 1793.0,1180.6 1795.0,1180.6 1797.0,1180.6 1799.0,1180.7 1801.0,1180.7 1803.0,1180.7 1805.0,1180.7 1807.0,1180.7 1809.0,1180.7 1811.0,1180.7 1813.0,1180.7 1815.0,1180.7 1817.0,1180.7 1819.0,1180.7 1821.0,1180.7 1823.0,1180.7 1825.0,1180.7 1827.0,1180.7 1829.0,1180.7 1831.0,1180.7 1833.0,1180.7 1835.0,1180.7 1837.0,1180.8 1839.0,1180.8 1841.0,1180.8 1843.0,1180.8 1845.0,1180.8 1847.0,1180.8 1849.0,1180.8 1851.0,1180.8 1853.0,1180.8 1855.0,1180.8 1857.0,1180.8 1859.0,1180.8 1861.0,1180.8 1863.0,1180.8 1865.0,1180.8 1867.0,1180.8 1869.0,1180.8 1871.0,1180.8 1873.0,1180.9 1875.0,1180.9 1877.0,1180.9 1879.0,1180.9 1881.0,1180.9 1883.0,1180.9 1885.0,1180.9 1887.0,1180.9 1889.0,1180.9 1891.0,1180.9 1893.0,1180.9 1895.0,1180.9 1897.0,1180.9 1899.0,1180.9 1901.0,1180.9 1903.0,1180.9 1905.0,1180.9 1907.0,1181.0 1909.0,1181.0 1911.0,1181.0 1913.0,1181.0 1915.0,1181.0 1917.0,1181.0 1918.0,1181.0" stroke="#33dde6" stroke-width="5.6"/>
<path d="M291.0,1004.8 L293.0,1005.5 295.0,1006.1 297.0,1006.8 299.0,1007.4 301.0,1008.0 303.0,1008.6 305.0,1009.2 307.0,1009.8 309.0,1010.4 311.0,1010.9 313.0,1011.5 315.0,1012.0 317.0,1012.5 319.0,1013.1 321.0,1013.6 323.0,1014.1 325.0,1014.5 327.0,1015.0 329.0,1015.5 331.0,1015.9 333.0,1016.4 335.0,1016.8 337.0,1017.2 339.0,1017.6 341.0,1018.0 343.0,1018.4 345.0,1018.8 347.0,1019.1 349.0,1019.5 351.0,1019.8 353.0,1020.2 355.0,1020.5 357.0,1020.8 359.0,1021.1 361.0,1021.4 363.0,1021.7 365.0,1021.9 367.0,1022.2 369.0,1022.4 371.0,1022.7 373.0,1022.9 375.0,1023.1 377.0,1023.3 379.0,1023.5 381.0,1023.7 383.0,1023.9 385.0,1024.0 387.0,1024.2 389.0,1024.3 391.0,1024.5 393.0,1024.6 395.0,1024.7 397.0,1024.8 399.0,1024.9 401.0,1024.9 403.0,1025.0 405.0,1025.1 407.0,1025.1 409.0,1025.1 411.0,1025.2 413.0,1025.2 415.0,1025.2 417.0,1025.2 419.0,1025.2 421.0,1025.1 423.0,1025.1 425.0,1025.0 427.0,1025.0 429.0,1024.9 431.0,1024.8 433.0,1024.8 435.0,1024.7 437.0,1024.5 439.0,1024.4 441.0,1024.3 443.0,1024.2 445.0,1024.0 447.0,1023.8 449.0,1023.7 451.0,1023.5 453.0,1023.3 455.0,1023.1 457.0,1022.9 459.0,1022.7 461.0,1022.4 463.0,1022.2 465.0,1021.9 467.0,1021.7 469.0,1021.4 471.0,1021.1 473.0,1020.8 475.0,1020.5 477.0,1020.2 479.0,1019.9 481.0,1019.6 483.0,1019.2 485.0,1018.9 487.0,1018.5 489.0,1018.1 491.0,1017.8 493.0,1017.4 495.0,1017.0 497.0,1016.6 499.0,1016.1 501.0,1015.7 503.0,1015.3 505.0,1014.8 507.0,1014.4 509.0,1013.9 511.0,1013.5 513.0,1013.0 515.0,1012.5 517.0,1012.1 519.0,1011.6 521.0,1011.1 523.0,1010.6 525.0,1010.1 527.0,1009.6 529.0,1009.1 531.0,1008.6 533.0,1008.1 535.0,1007.5 537.0,1007.0 539.0,1006.5 541.0,1006.0 543.0,1005.4 545.0,1004.9 547.0,1004.4 549.0,1003.8 551.0,1003.3 553.0,1002.7 555.0,1002.2 557.0,1001.7 559.0,1001.1 561.0,1000.6 563.0,1000.0 565.0,999.5 567.0,999.0 569.0,998.4 571.0,997.9 573.0,997.3 575.0,996.8 577.0,996.3 579.0,995.7 581.0,995.2 583.0,994.7 585.0,994.2 587.0,993.7 589.0,993.1 591.0,992.6 593.0,992.1 595.0,991.6 597.0,991.1 599.0,990.7 601.0,990.2 603.0,989.7 605.0,989.2 607.0,988.7 609.0,988.3 611.0,987.8 613.0,987.4 615.0,986.9 617.0,986.5 619.0,986.1 621.0,985.7 623.0,985.3 625.0,984.9 627.0,984.5 629.0,984.1 631.0,983.7 633.0,983.4 635.0,983.0 637.0,982.7 639.0,982.3 641.0,982.0 643.0,981.7 645.0,981.4 647.0,981.1 649.0,980.8 651.0,980.6 653.0,980.3 655.0,980.1 657.0,979.9 659.0,979.7 661.0,979.5 663.0,979.3 665.0,979.1 667.0,978.9 669.0,978.8 671.0,978.7 673.0,978.5 675.0,978.4 677.0,978.3 679.0,978.3 681.0,978.2 683.0,978.1 685.0,978.1 687.0,978.0 689.0,978.0 691.0,978.0 693.0,978.0 695.0,978.0 697.0,978.1 699.0,978.1 701.0,978.1 703.0,978.2 705.0,978.3 707.0,978.4 709.0,978.4 711.0,978.6 713.0,978.7 715.0,978.8 717.0,978.9 719.0,979.1 721.0,979.2 723.0,979.4 725.0,979.6 727.0,979.8 729.0,980.0 731.0,980.2 733.0,980.4 735.0,980.7 737.0,980.9 739.0,981.2 741.0,981.4 743.0,981.7 745.0,982.0 747.0,982.3 749.0,982.6 751.0,982.9 753.0,983.2 755.0,983.6 757.0,983.9 759.0,984.2 761.0,984.6 763.0,985.0 765.0,985.4 767.0,985.7 769.0,986.1 771.0,986.5 773.0,987.0 775.0,987.4 777.0,987.8 779.0,988.3 781.0,988.7 783.0,989.2 785.0,989.6 787.0,990.1 789.0,990.6 791.0,991.1 793.0,991.6 795.0,992.1 797.0,992.6 799.0,993.1 801.0,993.6 803.0,994.2 805.0,994.7 807.0,995.3 809.0,995.8 811.0,996.4 813.0,997.0 815.0,997.6 817.0,998.1 819.0,998.7 821.0,999.3 823.0,999.9 825.0,1000.6 827.0,1001.2 829.0,1001.8 831.0,1002.5 833.0,1003.1 835.0,1003.7 837.0,1004.4 839.0,1005.1 841.0,1005.7 843.0,1006.4 845.0,1007.1 847.0,1007.8 849.0,1008.4 851.0,1009.1 853.0,1009.8 855.0,1010.5 857.0,1011.3 859.0,1012.0 861.0,1012.7 863.0,1013.4 865.0,1014.2 867.0,1014.9 869.0,1015.6 871.0,1016.4 873.0,1017.1 875.0,1017.9 877.0,1018.7 879.0,1019.4 881.0,1020.2 883.0,1021.0 885.0,1021.8 887.0,1022.5 889.0,1023.3 891.0,1024.1 893.0,1024.9 895.0,1025.7 897.0,1026.5 899.0,1027.3 901.0,1028.2 903.0,1029.0 905.0,1029.8 907.0,1030.6 909.0,1031.4 911.0,1032.3 913.0,1033.1 915.0,1033.9 917.0,1034.8 919.0,1035.6 921.0,1036.5 923.0,1037.3 925.0,1038.2 927.0,1039.0 929.0,1039.9 931.0,1040.7 933.0,1041.6 935.0,1042.5 937.0,1043.3 939.0,1044.2 941.0,1045.1 943.0,1045.9 945.0,1046.8 947.0,1047.7 949.0,1048.6 951.0,1049.5 953.0,1050.3 955.0,1051.2 957.0,1052.1 959.0,1053.0 961.0,1053.9 963.0,1054.8 965.0,1055.7 967.0,1056.6 969.0,1057.5 971.0,1058.3 973.0,1059.2 975.0,1060.1 977.0,1061.0 979.0,1061.9 981.0,1062.8 983.0,1063.7 985.0,1064.6 987.0,1065.5 989.0,1066.4 991.0,1067.3 993.0,1068.2 995.0,1069.1 997.0,1070.0 999.0,1070.9 1001.0,1071.8 1003.0,1072.7 1005.0,1073.6 1007.0,1074.5 1009.0,1075.4 1011.0,1076.3 1013.0,1077.2 1015.0,1078.1 1017.0,1079.0 1019.0,1079.9 1021.0,1080.8 1023.0,1081.7 1025.0,1082.6 1027.0,1083.5 1029.0,1084.4 1031.0,1085.2 1033.0,1086.1 1035.0,1087.0 1037.0,1087.9 1039.0,1088.8 1041.0,1089.7 1043.0,1090.5 1045.0,1091.4 1047.0,1092.3 1049.0,1093.2 1051.0,1094.0 1053.0,1094.9 1055.0,1095.8 1057.0,1096.6 1059.0,1097.5 1061.0,1098.3 1063.0,1099.2 1065.0,1100.0 1067.0,1100.9 1069.0,1101.7 1071.0,1102.6 1073.0,1103.4 1075.0,1104.3 1077.0,1105.1 1079.0,1106.0 1081.0,1106.8 1083.0,1107.6 1085.0,1108.5 1087.0,1109.3 1089.0,1110.1 1091.0,1110.9 1093.0,1111.7 1095.0,1112.5 1097.0,1113.4 1099.0,1114.2 1101.0,1115.0 1103.0,1115.8 1105.0,1116.6 1107.0,1117.4 1109.0,1118.2 1111.0,1118.9 1113.0,1119.7 1115.0,1120.5 1117.0,1121.3 1119.0,1122.1 1121.0,1122.8 1123.0,1123.6 1125.0,1124.4 1127.0,1125.1 1129.0,1125.9 1131.0,1126.6 1133.0,1127.4 1135.0,1128.1 1137.0,1128.8 1139.0,1129.6 1141.0,1130.3 1143.0,1131.0 1145.0,1131.8 1147.0,1132.5 1149.0,1133.2 1151.0,1133.9 1153.0,1134.6 1155.0,1135.3 1157.0,1136.0 1159.0,1136.7 1161.0,1137.4 1163.0,1138.1 1165.0,1138.7 1167.0,1139.4 1169.0,1140.1 1171.0,1140.8 1173.0,1141.4 1175.0,1142.1 1177.0,1142.7 1179.0,1143.4 1181.0,1144.0 1183.0,1144.6 1185.0,1145.3 1187.0,1145.9 1189.0,1146.5 1191.0,1147.1 1193.0,1147.7 1195.0,1148.3 1197.0,1148.9 1199.0,1149.5 1201.0,1150.1 1203.0,1150.7 1205.0,1151.3 1207.0,1151.8 1209.0,1152.4 1211.0,1153.0 1213.0,1153.5 1215.0,1154.1 1217.0,1154.6 1219.0,1155.1 1221.0,1155.7 1223.0,1156.2 1225.0,1156.7 1227.0,1157.2 1229.0,1157.7 1231.0,1158.2 1233.0,1158.7 1235.0,1159.2 1237.0,1159.7 1239.0,1160.2 1241.0,1160.6 1243.0,1161.1 1245.0,1161.5 1247.0,1162.0 1249.0,1162.4 1251.0,1162.9 1253.0,1163.3 1255.0,1163.7 1257.0,1164.1 1259.0,1164.5 1261.0,1164.9 1263.0,1165.3 1265.0,1165.7 1267.0,1166.1 1269.0,1166.5 1271.0,1166.8 1273.0,1167.2 1275.0,1167.5 1277.0,1167.9 1279.0,1168.2 1281.0,1168.5 1283.0,1168.9 1285.0,1169.2 1287.0,1169.5 1289.0,1169.8 1291.0,1170.1 1293.0,1170.4 1295.0,1170.7 1297.0,1171.0 1299.0,1171.2 1301.0,1171.5 1303.0,1171.8 1305.0,1172.0 1307.0,1172.3 1309.0,1172.5 1311.0,1172.7 1313.0,1173.0 1315.0,1173.2 1317.0,1173.4 1319.0,1173.6 1321.0,1173.9 1323.0,1174.1 1325.0,1174.3 1327.0,1174.5 1329.0,1174.6 1331.0,1174.8 1333.0,1175.0 1335.0,1175.2 1337.0,1175.4 1339.0,1175.5 1341.0,1175.7 1343.0,1175.8 1345.0,1176.0 1347.0,1176.1 1349.0,1176.3 1351.0,1176.4 1353.0,1176.6 1355.0,1176.7 1357.0,1176.8 1359.0,1177.0 1361.0,1177.1 1363.0,1177.2 1365.0,1177.3 1367.0,1177.4 1369.0,1177.5 1371.0,1177.6 1373.0,1177.7 1375.0,1177.8 1377.0,1177.9 1379.0,1178.0 1381.0,1178.1 1383.0,1178.2 1385.0,1178.3 1387.0,1178.3 1389.0,1178.4 1391.0,1178.5 1393.0,1178.5 1395.0,1178.6 1397.0,1178.7 1399.0,1178.7 1401.0,1178.8 1403.0,1178.9 1405.0,1178.9 1407.0,1179.0 1409.0,1179.0 1411.0,1179.1 1413.0,1179.1 1415.0,1179.2 1417.0,1179.2 1419.0,1179.3 1421.0,1179.3 1423.0,1179.3 1425.0,1179.4 1427.0,1179.4 1429.0,1179.4 1431.0,1179.5 1433.0,1179.5 1435.0,1179.5 1437.0,1179.6 1439.0,1179.6 1441.0,1179.6 1443.0,1179.7 1445.0,1179.7 1447.0,1179.7 1449.0,1179.7 1451.0,1179.8 1453.0,1179.8 1455.0,1179.8 1457.0,1179.8 1459.0,1179.9 1461.0,1179.9 1463.0,1179.9 1465.0,1179.9 1467.0,1180.0 1469.0,1180.0 1471.0,1180.0 1473.0,1180.0 1475.0,1180.1 1477.0,1180.1 1479.0,1180.1 1481.0,1180.1 1483.0,1180.1 1485.0,1180.2 1487.0,1180.2 1489.0,1180.2 1491.0,1180.2 1493.0,1180.2 1495.0,1180.3 1497.0,1180.3 1499.0,1180.3 1501.0,1180.3 1503.0,1180.3 1505.0,1180.3 1507.0,1180.4 1509.0,1180.4 1511.0,1180.4 1513.0,1180.4 1515.0,1180.4 1517.0,1180.4 1519.0,1180.5 1521.0,1180.5 1523.0,1180.5 1525.0,1180.5 1527.0,1180.5 1529.0,1180.5 1531.0,1180.5 1533.0,1180.5 1535.0,1180.6 1537.0,1180.6 1539.0,1180.6 1541.0,1180.6 1543.0,1180.6 1545.0,1180.6 1547.0,1180.6 1549.0,1180.6 1551.0,1180.6 1553.0,1180.7 1555.0,1180.7 1557.0,1180.7 1559.0,1180.7 1561.0,1180.7 1563.0,1180.7 1565.0,1180.7 1567.0,1180.7 1569.0,1180.7 1571.0,1180.7 1573.0,1180.7 1575.0,1180.8 1577.0,1180.8 1579.0,1180.8 1581.0,1180.8 1583.0,1180.8 1585.0,1180.8 1587.0,1180.8 1589.0,1180.8 1591.0,1180.8 1593.0,1180.8 1595.0,1180.8 1597.0,1180.8 1599.0,1180.8 1601.0,1180.8 1603.0,1180.8 1605.0,1180.9 1607.0,1180.9 1609.0,1180.9 1611.0,1180.9 1613.0,1180.9 1615.0,1180.9 1617.0,1180.9 1619.0,1180.9 1621.0,1180.9 1623.0,1180.9 1625.0,1180.9 1627.0,1180.9 1629.0,1180.9 1631.0,1180.9 1633.0,1180.9 1635.0,1180.9 1637.0,1180.9 1639.0,1180.9 1641.0,1180.9 1643.0,1180.9 1645.0,1180.9 1647.0,1180.9 1649.0,1180.9 1651.0,1180.9 1653.0,1180.9 1655.0,1181.0 1657.0,1181.0 1659.0,1181.0 1661.0,1181.0 1663.0,1181.0 1665.0,1181.0 1667.0,1181.0 1669.0,1181.0 1671.0,1181.0 1673.0,1181.0 1675.0,1181.0 1677.0,1181.0 1679.0,1181.0 1681.0,1181.0 1683.0,1181.0 1685.0,1181.0 1687.0,1181.0 1689.0,1181.0 1691.0,1181.0 1693.0,1181.0 1695.0,1181.0 1697.0,1181.0 1699.0,1181.0 1701.0,1181.0 1703.0,1181.0 1705.0,1181.0 1707.0,1181.0 1709.0,1181.0 1711.0,1181.0 1713.0,1181.0 1715.0,1181.0 1717.0,1181.0 1719.0,1181.0 1721.0,1181.1 1723.0,1181.1 1725.0,1181.1 1727.0,1181.1 1729.0,1181.1 1731.0,1181.1 1733.0,1181.1 1735.0,1181.1 1737.0,1181.1 1739.0,1181.1 1741.0,1181.1 1743.0,1181.1 1745.0,1181.1 1747.0,1181.1 1749.0,1181.1 1751.0,1181.1 1753.0,1181.1 1755.0,1181.1 1757.0,1181.1 1759.0,1181.1 1761.0,1181.1 1763.0,1181.1 1765.0,1181.2 1767.0,1181.2 1769.0,1181.2 1771.0,1181.2 1773.0,1181.2 1775.0,1181.2 1777.0,1181.2 1779.0,1181.2 1781.0,1181.2 1783.0,1181.2 1785.0,1181.2 1787.0,1181.2 1789.0,1181.2 1791.0,1181.2 1793.0,1181.3 1795.0,1181.3 1797.0,1181.3 1799.0,1181.3 1801.0,1181.3 1803.0,1181.3 1805.0,1181.3 1807.0,1181.3 1809.0,1181.3 1811.0,1181.3 1813.0,1181.3 1815.0,1181.4 1817.0,1181.4 1819.0,1181.4 1821.0,1181.4 1823.0,1181.4 1825.0,1181.4 1827.0,1181.4 1829.0,1181.4 1831.0,1181.5 1833.0,1181.5 1835.0,1181.5 1837.0,1181.5 1839.0,1181.5 1841.0,1181.5 1843.0,1181.5 1845.0,1181.6 1847.0,1181.6 1849.0,1181.6 1851.0,1181.6 1853.0,1181.6 1855.0,1181.6 1857.0,1181.6 1859.0,1181.7 1861.0,1181.7 1863.0,1181.7 1865.0,1181.7 1867.0,1181.7 1869.0,1181.8 1871.0,1181.8 1873.0,1181.8 1875.0,1181.8 1877.0,1181.8 1879.0,1181.8 1881.0,1181.9 1883.0,1181.9 1885.0,1181.9 1887.0,1181.9 1889.0,1182.0 1891.0,1182.0 1893.0,1182.0 1895.0,1182.0 1897.0,1182.0 1899.0,1182.1 1901.0,1182.1 1903.0,1182.1 1905.0,1182.1 1907.0,1182.2 1909.0,1182.2 1911.0,1182.2 1913.0,1182.3 1915.0,1182.3 1917.0,1182.3 1918.0,1182.3" stroke="#d62ed6" stroke-width="5.5"/>
<path d="M291.0,1021.6 L293.0,1022.1 295.0,1022.6 297.0,1023.0 299.0,1023.5 301.0,1024.0 303.0,1024.4 305.0,1024.8 307.0,1025.3 309.0,1025.7 311.0,1026.1 313.0,1026.5 315.0,1026.9 317.0,1027.2 319.0,1027.6 321.0,1028.0 323.0,1028.3 325.0,1028.7 327.0,1029.0 329.0,1029.3 331.0,1029.6 333.0,1029.9 335.0,1030.2 337.0,1030.5 339.0,1030.8 341.0,1031.1 343.0,1031.3 345.0,1031.6 347.0,1031.8 349.0,1032.1 351.0,1032.3 353.0,1032.5 355.0,1032.7 357.0,1032.9 359.0,1033.1 361.0,1033.3 363.0,1033.5 365.0,1033.6 367.0,1033.8 369.0,1033.9 371.0,1034.1 373.0,1034.2 375.0,1034.3 377.0,1034.5 379.0,1034.6 381.0,1034.7 383.0,1034.8 385.0,1034.9 387.0,1035.0 389.0,1035.0 391.0,1035.1 393.0,1035.2 395.0,1035.2 397.0,1035.3 399.0,1035.3 401.0,1035.3 403.0,1035.3 405.0,1035.4 407.0,1035.4 409.0,1035.4 411.0,1035.4 413.0,1035.4 415.0,1035.3 417.0,1035.3 419.0,1035.3 421.0,1035.3 423.0,1035.2 425.0,1035.2 427.0,1035.1 429.0,1035.0 431.0,1035.0 433.0,1034.9 435.0,1034.8 437.0,1034.7 439.0,1034.6 441.0,1034.5 443.0,1034.4 445.0,1034.3 447.0,1034.2 449.0,1034.1 451.0,1033.9 453.0,1033.8 455.0,1033.7 457.0,1033.5 459.0,1033.4 461.0,1033.2 463.0,1033.0 465.0,1032.9 467.0,1032.7 469.0,1032.5 471.0,1032.3 473.0,1032.1 475.0,1032.0 477.0,1031.8 479.0,1031.5 481.0,1031.3 483.0,1031.1 485.0,1030.9 487.0,1030.7 489.0,1030.4 491.0,1030.2 493.0,1030.0 495.0,1029.7 497.0,1029.5 499.0,1029.2 501.0,1029.0 503.0,1028.7 505.0,1028.5 507.0,1028.2 509.0,1027.9 511.0,1027.7 513.0,1027.4 515.0,1027.1 517.0,1026.9 519.0,1026.6 521.0,1026.3 523.0,1026.0 525.0,1025.7 527.0,1025.5 529.0,1025.2 531.0,1024.9 533.0,1024.6 535.0,1024.3 537.0,1024.1 539.0,1023.8 541.0,1023.5 543.0,1023.2 545.0,1023.0 547.0,1022.7 549.0,1022.4 551.0,1022.1 553.0,1021.9 555.0,1021.6 557.0,1021.3 559.0,1021.1 561.0,1020.8 563.0,1020.5 565.0,1020.3 567.0,1020.0 569.0,1019.8 571.0,1019.5 573.0,1019.3 575.0,1019.1 577.0,1018.8 579.0,1018.6 581.0,1018.4 583.0,1018.2 585.0,1018.0 587.0,1017.8 589.0,1017.6 591.0,1017.4 593.0,1017.2 595.0,1017.0 597.0,1016.8 599.0,1016.7 601.0,1016.5 603.0,1016.3 605.0,1016.2 607.0,1016.0 609.0,1015.9 611.0,1015.8 613.0,1015.6 615.0,1015.5 617.0,1015.4 619.0,1015.3 621.0,1015.2 623.0,1015.1 625.0,1015.0 627.0,1014.9 629.0,1014.9 631.0,1014.8 633.0,1014.7 635.0,1014.7 637.0,1014.6 639.0,1014.6 641.0,1014.6 643.0,1014.6 645.0,1014.6 647.0,1014.6 649.0,1014.6 651.0,1014.6 653.0,1014.6 655.0,1014.6 657.0,1014.7 659.0,1014.7 661.0,1014.8 663.0,1014.8 665.0,1014.9 667.0,1015.0 669.0,1015.1 671.0,1015.2 673.0,1015.3 675.0,1015.4 677.0,1015.5 679.0,1015.7 681.0,1015.8 683.0,1016.0 685.0,1016.1 687.0,1016.3 689.0,1016.5 691.0,1016.7 693.0,1016.9 695.0,1017.1 697.0,1017.3 699.0,1017.5 701.0,1017.8 703.0,1018.0 705.0,1018.3 707.0,1018.5 709.0,1018.8 711.0,1019.1 713.0,1019.4 715.0,1019.7 717.0,1020.0 719.0,1020.3 721.0,1020.6 723.0,1020.9 725.0,1021.2 727.0,1021.6 729.0,1021.9 731.0,1022.3 733.0,1022.6 735.0,1023.0 737.0,1023.4 739.0,1023.8 741.0,1024.2 743.0,1024.6 745.0,1025.0 747.0,1025.4 749.0,1025.8 751.0,1026.2 753.0,1026.6 755.0,1027.1 757.0,1027.5 759.0,1027.9 761.0,1028.4 763.0,1028.9 765.0,1029.3 767.0,1029.8 769.0,1030.3 771.0,1030.7 773.0,1031.2 775.0,1031.7 777.0,1032.2 779.0,1032.7 781.0,1033.2 783.0,1033.7 785.0,1034.2 787.0,1034.8 789.0,1035.3 791.0,1035.8 793.0,1036.4 795.0,1036.9 797.0,1037.4 799.0,1038.0 801.0,1038.5 803.0,1039.1 805.0,1039.6 807.0,1040.2 809.0,1040.8 811.0,1041.3 813.0,1041.9 815.0,1042.5 817.0,1043.1 819.0,1043.7 821.0,1044.2 823.0,1044.8 825.0,1045.4 827.0,1046.0 829.0,1046.6 831.0,1047.2 833.0,1047.8 835.0,1048.4 837.0,1049.0 839.0,1049.6 841.0,1050.3 843.0,1050.9 845.0,1051.5 847.0,1052.1 849.0,1052.7 851.0,1053.3 853.0,1054.0 855.0,1054.6 857.0,1055.2 859.0,1055.9 861.0,1056.5 863.0,1057.1 865.0,1057.7 867.0,1058.4 869.0,1059.0 871.0,1059.7 873.0,1060.3 875.0,1060.9 877.0,1061.6 879.0,1062.2 881.0,1062.8 883.0,1063.5 885.0,1064.1 887.0,1064.8 889.0,1065.4 891.0,1066.0 893.0,1066.7 895.0,1067.3 897.0,1068.0 899.0,1068.6 901.0,1069.2 903.0,1069.9 905.0,1070.5 907.0,1071.2 909.0,1071.8 911.0,1072.5 913.0,1073.1 915.0,1073.8 917.0,1074.4 919.0,1075.1 921.0,1075.7 923.0,1076.4 925.0,1077.0 927.0,1077.7 929.0,1078.3 931.0,1079.0 933.0,1079.7 935.0,1080.4 937.0,1081.0 939.0,1081.7 941.0,1082.4 943.0,1083.1 945.0,1083.8 947.0,1084.4 949.0,1085.1 951.0,1085.8 953.0,1086.5 955.0,1087.3 957.0,1088.0 959.0,1088.7 961.0,1089.4 963.0,1090.1 965.0,1090.8 967.0,1091.6 969.0,1092.3 971.0,1093.0 973.0,1093.8 975.0,1094.5 977.0,1095.3 979.0,1096.0 981.0,1096.8 983.0,1097.5 985.0,1098.3 987.0,1099.0 989.0,1099.8 991.0,1100.5 993.0,1101.3 995.0,1102.0 997.0,1102.8 999.0,1103.6 1001.0,1104.3 1003.0,1105.1 1005.0,1105.8 1007.0,1106.6 1009.0,1107.4 1011.0,1108.1 1013.0,1108.9 1015.0,1109.7 1017.0,1110.4 1019.0,1111.2 1021.0,1111.9 1023.0,1112.7 1025.0,1113.5 1027.0,1114.2 1029.0,1115.0 1031.0,1115.7 1033.0,1116.4 1035.0,1117.2 1037.0,1117.9 1039.0,1118.7 1041.0,1119.4 1043.0,1120.1 1045.0,1120.8 1047.0,1121.5 1049.0,1122.3 1051.0,1123.0 1053.0,1123.7 1055.0,1124.4 1057.0,1125.1 1059.0,1125.7 1061.0,1126.4 1063.0,1127.1 1065.0,1127.8 1067.0,1128.4 1069.0,1129.1 1071.0,1129.8 1073.0,1130.4 1075.0,1131.1 1077.0,1131.7 1079.0,1132.3 1081.0,1133.0 1083.0,1133.6 1085.0,1134.2 1087.0,1134.8 1089.0,1135.4 1091.0,1136.0 1093.0,1136.6 1095.0,1137.2 1097.0,1137.8 1099.0,1138.4 1101.0,1138.9 1103.0,1139.5 1105.0,1140.1 1107.0,1140.6 1109.0,1141.2 1111.0,1141.7 1113.0,1142.3 1115.0,1142.8 1117.0,1143.3 1119.0,1143.8 1121.0,1144.4 1123.0,1144.9 1125.0,1145.4 1127.0,1145.9 1129.0,1146.4 1131.0,1146.9 1133.0,1147.4 1135.0,1147.9 1137.0,1148.3 1139.0,1148.8 1141.0,1149.3 1143.0,1149.7 1145.0,1150.2 1147.0,1150.7 1149.0,1151.1 1151.0,1151.6 1153.0,1152.0 1155.0,1152.4 1157.0,1152.9 1159.0,1153.3 1161.0,1153.7 1163.0,1154.1 1165.0,1154.5 1167.0,1154.9 1169.0,1155.3 1171.0,1155.7 1173.0,1156.1 1175.0,1156.5 1177.0,1156.9 1179.0,1157.3 1181.0,1157.7 1183.0,1158.0 1185.0,1158.4 1187.0,1158.8 1189.0,1159.1 1191.0,1159.5 1193.0,1159.8 1195.0,1160.2 1197.0,1160.5 1199.0,1160.9 1201.0,1161.2 1203.0,1161.5 1205.0,1161.9 1207.0,1162.2 1209.0,1162.5 1211.0,1162.8 1213.0,1163.1 1215.0,1163.4 1217.0,1163.7 1219.0,1164.0 1221.0,1164.3 1223.0,1164.6 1225.0,1164.9 1227.0,1165.2 1229.0,1165.5 1231.0,1165.7 1233.0,1166.0 1235.0,1166.3 1237.0,1166.5 1239.0,1166.8 1241.0,1167.1 1243.0,1167.3 1245.0,1167.6 1247.0,1167.8 1249.0,1168.1 1251.0,1168.3 1253.0,1168.5 1255.0,1168.8 1257.0,1169.0 1259.0,1169.2 1261.0,1169.5 1263.0,1169.7 1265.0,1169.9 1267.0,1170.1 1269.0,1170.3 1271.0,1170.5 1273.0,1170.7 1275.0,1171.0 1277.0,1171.2 1279.0,1171.3 1281.0,1171.5 1283.0,1171.7 1285.0,1171.9 1287.0,1172.1 1289.0,1172.3 1291.0,1172.5 1293.0,1172.6 1295.0,1172.8 1297.0,1173.0 1299.0,1173.2 1301.0,1173.3 1303.0,1173.5 1305.0,1173.6 1307.0,1173.8 1309.0,1174.0 1311.0,1174.1 1313.0,1174.3 1315.0,1174.4 1317.0,1174.6 1319.0,1174.7 1321.0,1174.8 1323.0,1175.0 1325.0,1175.1 1327.0,1175.2 1329.0,1175.4 1331.0,1175.5 1333.0,1175.6 1335.0,1175.7 1337.0,1175.9 1339.0,1176.0 1341.0,1176.1 1343.0,1176.2 1345.0,1176.3 1347.0,1176.4 1349.0,1176.6 1351.0,1176.7 1353.0,1176.8 1355.0,1176.9 1357.0,1177.0 1359.0,1177.1 1361.0,1177.2 1363.0,1177.3 1365.0,1177.4 1367.0,1177.5 1369.0,1177.5 1371.0,1177.6 1373.0,1177.7 1375.0,1177.8 1377.0,1177.9 1379.0,1178.0 1381.0,1178.1 1383.0,1178.1 1385.0,1178.2 1387.0,1178.3 1389.0,1178.4 1391.0,1178.4 1393.0,1178.5 1395.0,1178.6 1397.0,1178.6 1399.0,1178.7 1401.0,1178.8 1403.0,1178.8 1405.0,1178.9 1407.0,1179.0 1409.0,1179.0 1411.0,1179.1 1413.0,1179.1 1415.0,1179.2 1417.0,1179.3 1419.0,1179.3 1421.0,1179.4 1423.0,1179.4 1425.0,1179.5 1427.0,1179.5 1429.0,1179.6 1431.0,1179.6 1433.0,1179.7 1435.0,1179.7 1437.0,1179.8 1439.0,1179.8 1441.0,1179.9 1443.0,1179.9 1445.0,1180.0 1447.0,1180.0 1449.0,1180.0 1451.0,1180.1 1453.0,1180.1 1455.0,1180.2 1457.0,1180.2 1459.0,1180.3 1461.0,1180.3 1463.0,1180.3 1465.0,1180.4 1467.0,1180.4 1469.0,1180.4 1471.0,1180.5 1473.0,1180.5 1475.0,1180.6 1477.0,1180.6 1479.0,1180.6 1481.0,1180.7 1483.0,1180.7 1485.0,1180.7 1487.0,1180.8 1489.0,1180.8 1491.0,1180.8 1493.0,1180.9 1495.0,1180.9 1497.0,1180.9 1499.0,1180.9 1501.0,1181.0 1503.0,1181.0 1505.0,1181.0 1507.0,1181.1 1509.0,1181.1 1511.0,1181.1 1513.0,1181.1 1515.0,1181.2 1517.0,1181.2 1519.0,1181.2 1521.0,1181.2 1523.0,1181.3 1525.0,1181.3 1527.0,1181.3 1529.0,1181.3 1531.0,1181.4 1533.0,1181.4 1535.0,1181.4 1537.0,1181.4 1539.0,1181.4 1541.0,1181.5 1543.0,1181.5 1545.0,1181.5 1547.0,1181.5 1549.0,1181.5 1551.0,1181.6 1553.0,1181.6 1555.0,1181.6 1557.0,1181.6 1559.0,1181.6 1561.0,1181.6 1563.0,1181.7 1565.0,1181.7 1567.0,1181.7 1569.0,1181.7 1571.0,1181.7 1573.0,1181.7 1575.0,1181.8 1577.0,1181.8 1579.0,1181.8 1581.0,1181.8 1583.0,1181.8 1585.0,1181.8 1587.0,1181.8 1589.0,1181.8 1591.0,1181.9 1593.0,1181.9 1595.0,1181.9 1597.0,1181.9 1599.0,1181.9 1601.0,1181.9 1603.0,1181.9 1605.0,1181.9 1607.0,1181.9 1609.0,1182.0 1611.0,1182.0 1613.0,1182.0 1615.0,1182.0 1617.0,1182.0 1619.0,1182.0 1621.0,1182.0 1623.0,1182.0 1625.0,1182.0 1627.0,1182.0 1629.0,1182.0 1631.0,1182.0 1633.0,1182.0 1635.0,1182.1 1637.0,1182.1 1639.0,1182.1 1641.0,1182.1 1643.0,1182.1 1645.0,1182.1 1647.0,1182.1 1649.0,1182.1 1651.0,1182.1 1653.0,1182.1 1655.0,1182.1 1657.0,1182.1 1659.0,1182.1 1661.0,1182.1 1663.0,1182.1 1665.0,1182.1 1667.0,1182.1 1669.0,1182.1 1671.0,1182.1 1673.0,1182.2 1675.0,1182.2 1677.0,1182.2 1679.0,1182.2 1681.0,1182.2 1683.0,1182.2 1685.0,1182.2 1687.0,1182.2 1689.0,1182.2 1691.0,1182.2 1693.0,1182.2 1695.0,1182.2 1697.0,1182.2 1699.0,1182.2 1701.0,1182.2 1703.0,1182.2 1705.0,1182.2 1707.0,1182.2 1709.0,1182.2 1711.0,1182.2 1713.0,1182.2 1715.0,1182.2 1717.0,1182.2 1719.0,1182.2 1721.0,1182.2 1723.0,1182.2 1725.0,1182.2 1727.0,1182.2 1729.0,1182.2 1731.0,1182.2 1733.0,1182.2 1735.0,1182.2 1737.0,1182.2 1739.0,1182.2 1741.0,1182.2 1743.0,1182.2 1745.0,1182.3 1747.0,1182.3 1749.0,1182.3 1751.0,1182.3 1753.0,1182.3 1755.0,1182.3 1757.0,1182.3 1759.0,1182.3 1761.0,1182.3 1763.0,1182.3 1765.0,1182.3 1767.0,1182.3 1769.0,1182.3 1771.0,1182.3 1773.0,1182.3 1775.0,1182.3 1777.0,1182.3 1779.0,1182.3 1781.0,1182.3 1783.0,1182.3 1785.0,1182.3 1787.0,1182.3 1789.0,1182.3 1791.0,1182.3 1793.0,1182.3 1795.0,1182.4 1797.0,1182.4 1799.0,1182.4 1801.0,1182.4 1803.0,1182.4 1805.0,1182.4 1807.0,1182.4 1809.0,1182.4 1811.0,1182.4 1813.0,1182.4 1815.0,1182.4 1817.0,1182.4 1819.0,1182.4 1821.0,1182.4 1823.0,1182.4 1825.0,1182.5 1827.0,1182.5 1829.0,1182.5 1831.0,1182.5 1833.0,1182.5 1835.0,1182.5 1837.0,1182.5 1839.0,1182.5 1841.0,1182.5 1843.0,1182.5 1845.0,1182.6 1847.0,1182.6 1849.0,1182.6 1851.0,1182.6 1853.0,1182.6 1855.0,1182.6 1857.0,1182.6 1859.0,1182.6 1861.0,1182.7 1863.0,1182.7 1865.0,1182.7 1867.0,1182.7 1869.0,1182.7 1871.0,1182.7 1873.0,1182.7 1875.0,1182.8 1877.0,1182.8 1879.0,1182.8 1881.0,1182.8 1883.0,1182.8 1885.0,1182.8 1887.0,1182.9 1889.0,1182.9 1891.0,1182.9 1893.0,1182.9 1895.0,1182.9 1897.0,1182.9 1899.0,1183.0 1901.0,1183.0 1903.0,1183.0 1905.0,1183.0 1907.0,1183.1 1909.0,1183.1 1911.0,1183.1 1913.0,1183.1 1915.0,1183.1 1917.0,1183.2 1918.0,1183.2" stroke="#eeee22" stroke-width="7.0"/>
<path d="M291.0,1027.0 L293.0,1027.6 295.0,1028.1 297.0,1028.7 299.0,1029.3 301.0,1029.8 303.0,1030.3 305.0,1030.8 307.0,1031.3 309.0,1031.8 311.0,1032.3 313.0,1032.8 315.0,1033.2 317.0,1033.6 319.0,1034.1 321.0,1034.5 323.0,1034.9 325.0,1035.3 327.0,1035.7 329.0,1036.0 331.0,1036.4 333.0,1036.7 335.0,1037.1 337.0,1037.4 339.0,1037.7 341.0,1038.0 343.0,1038.3 345.0,1038.6 347.0,1038.9 349.0,1039.1 351.0,1039.4 353.0,1039.6 355.0,1039.9 357.0,1040.1 359.0,1040.3 361.0,1040.5 363.0,1040.7 365.0,1040.9 367.0,1041.1 369.0,1041.2 371.0,1041.4 373.0,1041.6 375.0,1041.7 377.0,1041.8 379.0,1042.0 381.0,1042.1 383.0,1042.2 385.0,1042.3 387.0,1042.4 389.0,1042.5 391.0,1042.5 393.0,1042.6 395.0,1042.7 397.0,1042.7 399.0,1042.8 401.0,1042.8 403.0,1042.8 405.0,1042.9 407.0,1042.9 409.0,1042.9 411.0,1042.9 413.0,1042.9 415.0,1042.9 417.0,1042.9 419.0,1042.8 421.0,1042.8 423.0,1042.8 425.0,1042.8 427.0,1042.7 429.0,1042.7 431.0,1042.6 433.0,1042.5 435.0,1042.5 437.0,1042.4 439.0,1042.3 441.0,1042.3 443.0,1042.2 445.0,1042.1 447.0,1042.0 449.0,1041.9 451.0,1041.8 453.0,1041.7 455.0,1041.6 457.0,1041.4 459.0,1041.3 461.0,1041.2 463.0,1041.1 465.0,1040.9 467.0,1040.8 469.0,1040.7 471.0,1040.5 473.0,1040.4 475.0,1040.2 477.0,1040.1 479.0,1039.9 481.0,1039.8 483.0,1039.6 485.0,1039.5 487.0,1039.3 489.0,1039.1 491.0,1039.0 493.0,1038.8 495.0,1038.6 497.0,1038.5 499.0,1038.3 501.0,1038.1 503.0,1037.9 505.0,1037.8 507.0,1037.6 509.0,1037.4 511.0,1037.2 513.0,1037.0 515.0,1036.8 517.0,1036.7 519.0,1036.5 521.0,1036.3 523.0,1036.1 525.0,1035.9 527.0,1035.7 529.0,1035.6 531.0,1035.4 533.0,1035.2 535.0,1035.0 537.0,1034.8 539.0,1034.6 541.0,1034.5 543.0,1034.3 545.0,1034.1 547.0,1033.9 549.0,1033.7 551.0,1033.6 553.0,1033.4 555.0,1033.2 557.0,1033.0 559.0,1032.9 561.0,1032.7 563.0,1032.5 565.0,1032.4 567.0,1032.2 569.0,1032.1 571.0,1031.9 573.0,1031.8 575.0,1031.6 577.0,1031.5 579.0,1031.3 581.0,1031.2 583.0,1031.0 585.0,1030.9 587.0,1030.8 589.0,1030.6 591.0,1030.5 593.0,1030.4 595.0,1030.3 597.0,1030.1 599.0,1030.0 601.0,1029.9 603.0,1029.8 605.0,1029.7 607.0,1029.6 609.0,1029.6 611.0,1029.5 613.0,1029.4 615.0,1029.3 617.0,1029.2 619.0,1029.2 621.0,1029.1 623.0,1029.1 625.0,1029.0 627.0,1029.0 629.0,1028.9 631.0,1028.9 633.0,1028.9 635.0,1028.9 637.0,1028.9 639.0,1028.9 641.0,1028.9 643.0,1028.9 645.0,1028.9 647.0,1028.9 649.0,1028.9 651.0,1029.0 653.0,1029.0 655.0,1029.1 657.0,1029.1 659.0,1029.2 661.0,1029.3 663.0,1029.3 665.0,1029.4 667.0,1029.5 669.0,1029.6 671.0,1029.7 673.0,1029.9 675.0,1030.0 677.0,1030.1 679.0,1030.3 681.0,1030.4 683.0,1030.6 685.0,1030.8 687.0,1030.9 689.0,1031.1 691.0,1031.3 693.0,1031.5 695.0,1031.7 697.0,1032.0 699.0,1032.2 701.0,1032.4 703.0,1032.7 705.0,1032.9 707.0,1033.2 709.0,1033.4 711.0,1033.7 713.0,1034.0 715.0,1034.3 717.0,1034.6 719.0,1034.9 721.0,1035.2 723.0,1035.5 725.0,1035.8 727.0,1036.1 729.0,1036.5 731.0,1036.8 733.0,1037.2 735.0,1037.5 737.0,1037.9 739.0,1038.3 741.0,1038.6 743.0,1039.0 745.0,1039.4 747.0,1039.8 749.0,1040.2 751.0,1040.6 753.0,1041.0 755.0,1041.4 757.0,1041.9 759.0,1042.3 761.0,1042.7 763.0,1043.2 765.0,1043.6 767.0,1044.1 769.0,1044.5 771.0,1045.0 773.0,1045.5 775.0,1045.9 777.0,1046.4 779.0,1046.9 781.0,1047.4 783.0,1047.9 785.0,1048.4 787.0,1048.9 789.0,1049.4 791.0,1049.9 793.0,1050.4 795.0,1051.0 797.0,1051.5 799.0,1052.0 801.0,1052.6 803.0,1053.1 805.0,1053.6 807.0,1054.2 809.0,1054.7 811.0,1055.3 813.0,1055.9 815.0,1056.4 817.0,1057.0 819.0,1057.6 821.0,1058.2 823.0,1058.7 825.0,1059.3 827.0,1059.9 829.0,1060.5 831.0,1061.1 833.0,1061.7 835.0,1062.3 837.0,1062.9 839.0,1063.5 841.0,1064.1 843.0,1064.7 845.0,1065.4 847.0,1066.0 849.0,1066.6 851.0,1067.2 853.0,1067.8 855.0,1068.5 857.0,1069.1 859.0,1069.7 861.0,1070.4 863.0,1071.0 865.0,1071.7 867.0,1072.3 869.0,1073.0 871.0,1073.6 873.0,1074.3 875.0,1074.9 877.0,1075.6 879.0,1076.2 881.0,1076.9 883.0,1077.6 885.0,1078.2 887.0,1078.9 889.0,1079.5 891.0,1080.2 893.0,1080.9 895.0,1081.5 897.0,1082.2 899.0,1082.9 901.0,1083.6 903.0,1084.2 905.0,1084.9 907.0,1085.6 909.0,1086.3 911.0,1086.9 913.0,1087.6 915.0,1088.3 917.0,1089.0 919.0,1089.6 921.0,1090.3 923.0,1091.0 925.0,1091.7 927.0,1092.4 929.0,1093.1 931.0,1093.7 933.0,1094.4 935.0,1095.1 937.0,1095.8 939.0,1096.5 941.0,1097.1 943.0,1097.8 945.0,1098.5 947.0,1099.2 949.0,1099.8 951.0,1100.5 953.0,1101.2 955.0,1101.9 957.0,1102.6 959.0,1103.2 961.0,1103.9 963.0,1104.6 965.0,1105.2 967.0,1105.9 969.0,1106.6 971.0,1107.3 973.0,1107.9 975.0,1108.6 977.0,1109.2 979.0,1109.9 981.0,1110.6 983.0,1111.2 985.0,1111.9 987.0,1112.5 989.0,1113.2 991.0,1113.8 993.0,1114.5 995.0,1115.1 997.0,1115.8 999.0,1116.4 1001.0,1117.1 1003.0,1117.7 1005.0,1118.4 1007.0,1119.0 1009.0,1119.6 1011.0,1120.2 1013.0,1120.9 1015.0,1121.5 1017.0,1122.1 1019.0,1122.7 1021.0,1123.3 1023.0,1124.0 1025.0,1124.6 1027.0,1125.2 1029.0,1125.8 1031.0,1126.4 1033.0,1127.0 1035.0,1127.6 1037.0,1128.1 1039.0,1128.7 1041.0,1129.3 1043.0,1129.9 1045.0,1130.5 1047.0,1131.0 1049.0,1131.6 1051.0,1132.2 1053.0,1132.7 1055.0,1133.3 1057.0,1133.8 1059.0,1134.4 1061.0,1134.9 1063.0,1135.5 1065.0,1136.0 1067.0,1136.5 1069.0,1137.0 1071.0,1137.6 1073.0,1138.1 1075.0,1138.6 1077.0,1139.1 1079.0,1139.6 1081.0,1140.1 1083.0,1140.6 1085.0,1141.1 1087.0,1141.6 1089.0,1142.1 1091.0,1142.5 1093.0,1143.0 1095.0,1143.5 1097.0,1143.9 1099.0,1144.4 1101.0,1144.9 1103.0,1145.3 1105.0,1145.8 1107.0,1146.2 1109.0,1146.7 1111.0,1147.1 1113.0,1147.5 1115.0,1148.0 1117.0,1148.4 1119.0,1148.8 1121.0,1149.2 1123.0,1149.7 1125.0,1150.1 1127.0,1150.5 1129.0,1150.9 1131.0,1151.3 1133.0,1151.7 1135.0,1152.1 1137.0,1152.5 1139.0,1152.9 1141.0,1153.2 1143.0,1153.6 1145.0,1154.0 1147.0,1154.4 1149.0,1154.7 1151.0,1155.1 1153.0,1155.5 1155.0,1155.8 1157.0,1156.2 1159.0,1156.5 1161.0,1156.9 1163.0,1157.2 1165.0,1157.6 1167.0,1157.9 1169.0,1158.3 1171.0,1158.6 1173.0,1158.9 1175.0,1159.2 1177.0,1159.6 1179.0,1159.9 1181.0,1160.2 1183.0,1160.5 1185.0,1160.8 1187.0,1161.1 1189.0,1161.4 1191.0,1161.7 1193.0,1162.0 1195.0,1162.3 1197.0,1162.6 1199.0,1162.9 1201.0,1163.2 1203.0,1163.5 1205.0,1163.7 1207.0,1164.0 1209.0,1164.3 1211.0,1164.6 1213.0,1164.8 1215.0,1165.1 1217.0,1165.4 1219.0,1165.6 1221.0,1165.9 1223.0,1166.1 1225.0,1166.4 1227.0,1166.6 1229.0,1166.9 1231.0,1167.1 1233.0,1167.3 1235.0,1167.6 1237.0,1167.8 1239.0,1168.0 1241.0,1168.3 1243.0,1168.5 1245.0,1168.7 1247.0,1168.9 1249.0,1169.2 1251.0,1169.4 1253.0,1169.6 1255.0,1169.8 1257.0,1170.0 1259.0,1170.2 1261.0,1170.4 1263.0,1170.6 1265.0,1170.8 1267.0,1171.0 1269.0,1171.2 1271.0,1171.4 1273.0,1171.6 1275.0,1171.8 1277.0,1171.9 1279.0,1172.1 1281.0,1172.3 1283.0,1172.5 1285.0,1172.7 1287.0,1172.8 1289.0,1173.0 1291.0,1173.2 1293.0,1173.3 1295.0,1173.5 1297.0,1173.6 1299.0,1173.8 1301.0,1174.0 1303.0,1174.1 1305.0,1174.3 1307.0,1174.4 1309.0,1174.6 1311.0,1174.7 1313.0,1174.9 1315.0,1175.0 1317.0,1175.1 1319.0,1175.3 1321.0,1175.4 1323.0,1175.5 1325.0,1175.7 1327.0,1175.8 1329.0,1175.9 1331.0,1176.1 1333.0,1176.2 1335.0,1176.3 1337.0,1176.4 1339.0,1176.6 1341.0,1176.7 1343.0,1176.8 1345.0,1176.9 1347.0,1177.0 1349.0,1177.1 1351.0,1177.2 1353.0,1177.3 1355.0,1177.4 1357.0,1177.6 1359.0,1177.7 1361.0,1177.8 1363.0,1177.9 1365.0,1178.0 1367.0,1178.1 1369.0,1178.1 1371.0,1178.2 1373.0,1178.3 1375.0,1178.4 1377.0,1178.5 1379.0,1178.6 1381.0,1178.7 1383.0,1178.8 1385.0,1178.9 1387.0,1178.9 1389.0,1179.0 1391.0,1179.1 1393.0,1179.2 1395.0,1179.3 1397.0,1179.3 1399.0,1179.4 1401.0,1179.5 1403.0,1179.6 1405.0,1179.6 1407.0,1179.7 1409.0,1179.8 1411.0,1179.8 1413.0,1179.9 1415.0,1180.0 1417.0,1180.0 1419.0,1180.1 1421.0,1180.2 1423.0,1180.2 1425.0,1180.3 1427.0,1180.3 1429.0,1180.4 1431.0,1180.5 1433.0,1180.5 1435.0,1180.6 1437.0,1180.6 1439.0,1180.7 1441.0,1180.7 1443.0,1180.8 1445.0,1180.8 1447.0,1180.9 1449.0,1180.9 1451.0,1181.0 1453.0,1181.0 1455.0,1181.1 1457.0,1181.1 1459.0,1181.2 1461.0,1181.2 1463.0,1181.3 1465.0,1181.3 1467.0,1181.4 1469.0,1181.4 1471.0,1181.4 1473.0,1181.5 1475.0,1181.5 1477.0,1181.6 1479.0,1181.6 1481.0,1181.6 1483.0,1181.7 1485.0,1181.7 1487.0,1181.8 1489.0,1181.8 1491.0,1181.8 1493.0,1181.9 1495.0,1181.9 1497.0,1181.9 1499.0,1182.0 1501.0,1182.0 1503.0,1182.0 1505.0,1182.1 1507.0,1182.1 1509.0,1182.1 1511.0,1182.2 1513.0,1182.2 1515.0,1182.2 1517.0,1182.2 1519.0,1182.3 1521.0,1182.3 1523.0,1182.3 1525.0,1182.3 1527.0,1182.4 1529.0,1182.4 1531.0,1182.4 1533.0,1182.4 1535.0,1182.5 1537.0,1182.5 1539.0,1182.5 1541.0,1182.5 1543.0,1182.6 1545.0,1182.6 1547.0,1182.6 1549.0,1182.6 1551.0,1182.6 1553.0,1182.7 1555.0,1182.7 1557.0,1182.7 1559.0,1182.7 1561.0,1182.7 1563.0,1182.7 1565.0,1182.8 1567.0,1182.8 1569.0,1182.8 1571.0,1182.8 1573.0,1182.8 1575.0,1182.8 1577.0,1182.9 1579.0,1182.9 1581.0,1182.9 1583.0,1182.9 1585.0,1182.9 1587.0,1182.9 1589.0,1182.9 1591.0,1182.9 1593.0,1182.9 1595.0,1183.0 1597.0,1183.0 1599.0,1183.0 1601.0,1183.0 1603.0,1183.0 1605.0,1183.0 1607.0,1183.0 1609.0,1183.0 1611.0,1183.0 1613.0,1183.0 1615.0,1183.1 1617.0,1183.1 1619.0,1183.1 1621.0,1183.1 1623.0,1183.1 1625.0,1183.1 1627.0,1183.1 1629.0,1183.1 1631.0,1183.1 1633.0,1183.1 1635.0,1183.1 1637.0,1183.1 1639.0,1183.1 1641.0,1183.1 1643.0,1183.1 1645.0,1183.1 1647.0,1183.1 1649.0,1183.1 1651.0,1183.1 1653.0,1183.2 1655.0,1183.2 1657.0,1183.2 1659.0,1183.2 1661.0,1183.2 1663.0,1183.2 1665.0,1183.2 1667.0,1183.2 1669.0,1183.2 1671.0,1183.2 1673.0,1183.2 1675.0,1183.2 1677.0,1183.2 1679.0,1183.2 1681.0,1183.2 1683.0,1183.2 1685.0,1183.2 1687.0,1183.2 1689.0,1183.2 1691.0,1183.2 1693.0,1183.2 1695.0,1183.2 1697.0,1183.2 1699.0,1183.2 1701.0,1183.2 1703.0,1183.2 1705.0,1183.2 1707.0,1183.2 1709.0,1183.2 1711.0,1183.2 1713.0,1183.2 1715.0,1183.2 1717.0,1183.2 1719.0,1183.2 1721.0,1183.2 1723.0,1183.2 1725.0,1183.2 1727.0,1183.2 1729.0,1183.2 1731.0,1183.2 1733.0,1183.2 1735.0,1183.2 1737.0,1183.2 1739.0,1183.2 1741.0,1183.2 1743.0,1183.2 1745.0,1183.2 1747.0,1183.2 1749.0,1183.2 1751.0,1183.2 1753.0,1183.2 1755.0,1183.2 1757.0,1183.2 1759.0,1183.2 1761.0,1183.2 1763.0,1183.2 1765.0,1183.2 1767.0,1183.2 1769.0,1183.2 1771.0,1183.2 1773.0,1183.2 1775.0,1183.3 1777.0,1183.3 1779.0,1183.3 1781.0,1183.3 1783.0,1183.3 1785.0,1183.3 1787.0,1183.3 1789.0,1183.3 1791.0,1183.3 1793.0,1183.3 1795.0,1183.3 1797.0,1183.3 1799.0,1183.3 1801.0,1183.3 1803.0,1183.3 1805.0,1183.3 1807.0,1183.3 1809.0,1183.3 1811.0,1183.3 1813.0,1183.4 1815.0,1183.4 1817.0,1183.4 1819.0,1183.4 1821.0,1183.4 1823.0,1183.4 1825.0,1183.4 1827.0,1183.4 1829.0,1183.4 1831.0,1183.4 1833.0,1183.4 1835.0,1183.5 1837.0,1183.5 1839.0,1183.5 1841.0,1183.5 1843.0,1183.5 1845.0,1183.5 1847.0,1183.5 1849.0,1183.5 1851.0,1183.6 1853.0,1183.6 1855.0,1183.6 1857.0,1183.6 1859.0,1183.6 1861.0,1183.6 1863.0,1183.6 1865.0,1183.7 1867.0,1183.7 1869.0,1183.7 1871.0,1183.7 1873.0,1183.7 1875.0,1183.7 1877.0,1183.8 1879.0,1183.8 1881.0,1183.8 1883.0,1183.8 1885.0,1183.8 1887.0,1183.9 1889.0,1183.9 1891.0,1183.9 1893.0,1183.9 1895.0,1184.0 1897.0,1184.0 1899.0,1184.0 1901.0,1184.0 1903.0,1184.1 1905.0,1184.1 1907.0,1184.1 1909.0,1184.1 1911.0,1184.2 1913.0,1184.2 1915.0,1184.2 1917.0,1184.3 1918.0,1184.3" stroke="#8a8a1c" stroke-width="5.4"/>
<path d="M291.0,1039.4 L293.0,1039.7 295.0,1040.1 297.0,1040.4 299.0,1040.7 301.0,1041.0 303.0,1041.3 305.0,1041.6 307.0,1041.9 309.0,1042.2 311.0,1042.5 313.0,1042.8 315.0,1043.1 317.0,1043.3 319.0,1043.6 321.0,1043.8 323.0,1044.1 325.0,1044.3 327.0,1044.6 329.0,1044.8 331.0,1045.0 333.0,1045.3 335.0,1045.5 337.0,1045.7 339.0,1045.9 341.0,1046.1 343.0,1046.3 345.0,1046.5 347.0,1046.7 349.0,1046.8 351.0,1047.0 353.0,1047.2 355.0,1047.3 357.0,1047.5 359.0,1047.7 361.0,1047.8 363.0,1048.0 365.0,1048.1 367.0,1048.2 369.0,1048.4 371.0,1048.5 373.0,1048.6 375.0,1048.7 377.0,1048.9 379.0,1049.0 381.0,1049.1 383.0,1049.2 385.0,1049.3 387.0,1049.4 389.0,1049.5 391.0,1049.6 393.0,1049.7 395.0,1049.7 397.0,1049.8 399.0,1049.9 401.0,1050.0 403.0,1050.0 405.0,1050.1 407.0,1050.2 409.0,1050.2 411.0,1050.3 413.0,1050.3 415.0,1050.4 417.0,1050.4 419.0,1050.5 421.0,1050.5 423.0,1050.6 425.0,1050.6 427.0,1050.7 429.0,1050.7 431.0,1050.7 433.0,1050.7 435.0,1050.8 437.0,1050.8 439.0,1050.8 441.0,1050.8 443.0,1050.9 445.0,1050.9 447.0,1050.9 449.0,1050.9 451.0,1050.9 453.0,1050.9 455.0,1050.9 457.0,1051.0 459.0,1051.0 461.0,1051.0 463.0,1051.0 465.0,1051.0 467.0,1051.0 469.0,1051.0 471.0,1051.0 473.0,1051.0 475.0,1051.0 477.0,1051.0 479.0,1051.0 481.0,1051.0 483.0,1050.9 485.0,1050.9 487.0,1050.9 489.0,1050.9 491.0,1050.9 493.0,1050.9 495.0,1050.9 497.0,1050.9 499.0,1050.9 501.0,1050.9 503.0,1050.9 505.0,1050.9 507.0,1050.9 509.0,1050.8 511.0,1050.8 513.0,1050.8 515.0,1050.8 517.0,1050.8 519.0,1050.8 521.0,1050.8 523.0,1050.8 525.0,1050.8 527.0,1050.8 529.0,1050.8 531.0,1050.8 533.0,1050.8 535.0,1050.8 537.0,1050.8 539.0,1050.8 541.0,1050.8 543.0,1050.8 545.0,1050.8 547.0,1050.8 549.0,1050.8 551.0,1050.8 553.0,1050.8 555.0,1050.9 557.0,1050.9 559.0,1050.9 561.0,1050.9 563.0,1050.9 565.0,1051.0 567.0,1051.0 569.0,1051.0 571.0,1051.0 573.0,1051.1 575.0,1051.1 577.0,1051.1 579.0,1051.2 581.0,1051.2 583.0,1051.3 585.0,1051.3 587.0,1051.4 589.0,1051.4 591.0,1051.5 593.0,1051.5 595.0,1051.6 597.0,1051.7 599.0,1051.7 601.0,1051.8 603.0,1051.9 605.0,1052.0 607.0,1052.0 609.0,1052.1 611.0,1052.2 613.0,1052.3 615.0,1052.4 617.0,1052.5 619.0,1052.6 621.0,1052.7 623.0,1052.8 625.0,1052.9 627.0,1053.0 629.0,1053.2 631.0,1053.3 633.0,1053.4 635.0,1053.5 637.0,1053.7 639.0,1053.8 641.0,1054.0 643.0,1054.1 645.0,1054.3 647.0,1054.4 649.0,1054.6 651.0,1054.8 653.0,1055.0 655.0,1055.1 657.0,1055.3 659.0,1055.5 661.0,1055.7 663.0,1055.9 665.0,1056.1 667.0,1056.3 669.0,1056.5 671.0,1056.8 673.0,1057.0 675.0,1057.2 677.0,1057.4 679.0,1057.7 681.0,1057.9 683.0,1058.2 685.0,1058.4 687.0,1058.7 689.0,1059.0 691.0,1059.2 693.0,1059.5 695.0,1059.8 697.0,1060.1 699.0,1060.4 701.0,1060.6 703.0,1060.9 705.0,1061.2 707.0,1061.5 709.0,1061.9 711.0,1062.2 713.0,1062.5 715.0,1062.8 717.0,1063.1 719.0,1063.5 721.0,1063.8 723.0,1064.1 725.0,1064.5 727.0,1064.8 729.0,1065.2 731.0,1065.5 733.0,1065.9 735.0,1066.2 737.0,1066.6 739.0,1067.0 741.0,1067.3 743.0,1067.7 745.0,1068.1 747.0,1068.5 749.0,1068.9 751.0,1069.2 753.0,1069.6 755.0,1070.0 757.0,1070.4 759.0,1070.8 761.0,1071.2 763.0,1071.6 765.0,1072.1 767.0,1072.5 769.0,1072.9 771.0,1073.3 773.0,1073.7 775.0,1074.2 777.0,1074.6 779.0,1075.0 781.0,1075.5 783.0,1075.9 785.0,1076.3 787.0,1076.8 789.0,1077.2 791.0,1077.7 793.0,1078.1 795.0,1078.6 797.0,1079.0 799.0,1079.5 801.0,1079.9 803.0,1080.4 805.0,1080.9 807.0,1081.3 809.0,1081.8 811.0,1082.3 813.0,1082.8 815.0,1083.2 817.0,1083.7 819.0,1084.2 821.0,1084.7 823.0,1085.2 825.0,1085.6 827.0,1086.1 829.0,1086.6 831.0,1087.1 833.0,1087.6 835.0,1088.1 837.0,1088.6 839.0,1089.1 841.0,1089.6 843.0,1090.1 845.0,1090.6 847.0,1091.1 849.0,1091.6 851.0,1092.1 853.0,1092.6 855.0,1093.1 857.0,1093.6 859.0,1094.2 861.0,1094.7 863.0,1095.2 865.0,1095.7 867.0,1096.2 869.0,1096.7 871.0,1097.2 873.0,1097.8 875.0,1098.3 877.0,1098.8 879.0,1099.3 881.0,1099.8 883.0,1100.4 885.0,1100.9 887.0,1101.4 889.0,1101.9 891.0,1102.5 893.0,1103.0 895.0,1103.5 897.0,1104.0 899.0,1104.6 901.0,1105.1 903.0,1105.6 905.0,1106.2 907.0,1106.7 909.0,1107.2 911.0,1107.7 913.0,1108.3 915.0,1108.8 917.0,1109.3 919.0,1109.8 921.0,1110.4 923.0,1110.9 925.0,1111.4 927.0,1112.0 929.0,1112.5 931.0,1113.0 933.0,1113.5 935.0,1114.1 937.0,1114.6 939.0,1115.1 941.0,1115.6 943.0,1116.2 945.0,1116.7 947.0,1117.2 949.0,1117.7 951.0,1118.3 953.0,1118.8 955.0,1119.3 957.0,1119.8 959.0,1120.3 961.0,1120.9 963.0,1121.4 965.0,1121.9 967.0,1122.4 969.0,1122.9 971.0,1123.4 973.0,1124.0 975.0,1124.5 977.0,1125.0 979.0,1125.5 981.0,1126.0 983.0,1126.5 985.0,1127.0 987.0,1127.5 989.0,1128.0 991.0,1128.5 993.0,1129.0 995.0,1129.5 997.0,1130.0 999.0,1130.5 1001.0,1131.0 1003.0,1131.5 1005.0,1132.0 1007.0,1132.4 1009.0,1132.9 1011.0,1133.4 1013.0,1133.9 1015.0,1134.4 1017.0,1134.8 1019.0,1135.3 1021.0,1135.8 1023.0,1136.3 1025.0,1136.7 1027.0,1137.2 1029.0,1137.7 1031.0,1138.1 1033.0,1138.6 1035.0,1139.0 1037.0,1139.5 1039.0,1139.9 1041.0,1140.4 1043.0,1140.8 1045.0,1141.3 1047.0,1141.7 1049.0,1142.2 1051.0,1142.6 1053.0,1143.0 1055.0,1143.5 1057.0,1143.9 1059.0,1144.3 1061.0,1144.7 1063.0,1145.1 1065.0,1145.6 1067.0,1146.0 1069.0,1146.4 1071.0,1146.8 1073.0,1147.2 1075.0,1147.6 1077.0,1148.0 1079.0,1148.4 1081.0,1148.8 1083.0,1149.2 1085.0,1149.5 1087.0,1149.9 1089.0,1150.3 1091.0,1150.7 1093.0,1151.1 1095.0,1151.4 1097.0,1151.8 1099.0,1152.2 1101.0,1152.5 1103.0,1152.9 1105.0,1153.3 1107.0,1153.6 1109.0,1154.0 1111.0,1154.3 1113.0,1154.7 1115.0,1155.0 1117.0,1155.4 1119.0,1155.7 1121.0,1156.0 1123.0,1156.4 1125.0,1156.7 1127.0,1157.0 1129.0,1157.3 1131.0,1157.7 1133.0,1158.0 1135.0,1158.3 1137.0,1158.6 1139.0,1158.9 1141.0,1159.3 1143.0,1159.6 1145.0,1159.9 1147.0,1160.2 1149.0,1160.5 1151.0,1160.8 1153.0,1161.1 1155.0,1161.4 1157.0,1161.6 1159.0,1161.9 1161.0,1162.2 1163.0,1162.5 1165.0,1162.8 1167.0,1163.1 1169.0,1163.3 1171.0,1163.6 1173.0,1163.9 1175.0,1164.2 1177.0,1164.4 1179.0,1164.7 1181.0,1164.9 1183.0,1165.2 1185.0,1165.5 1187.0,1165.7 1189.0,1166.0 1191.0,1166.2 1193.0,1166.5 1195.0,1166.7 1197.0,1167.0 1199.0,1167.2 1201.0,1167.4 1203.0,1167.7 1205.0,1167.9 1207.0,1168.1 1209.0,1168.4 1211.0,1168.6 1213.0,1168.8 1215.0,1169.0 1217.0,1169.3 1219.0,1169.5 1221.0,1169.7 1223.0,1169.9 1225.0,1170.1 1227.0,1170.3 1229.0,1170.5 1231.0,1170.7 1233.0,1170.9 1235.0,1171.1 1237.0,1171.3 1239.0,1171.5 1241.0,1171.7 1243.0,1171.9 1245.0,1172.1 1247.0,1172.3 1249.0,1172.5 1251.0,1172.7 1253.0,1172.9 1255.0,1173.0 1257.0,1173.2 1259.0,1173.4 1261.0,1173.6 1263.0,1173.7 1265.0,1173.9 1267.0,1174.1 1269.0,1174.3 1271.0,1174.4 1273.0,1174.6 1275.0,1174.7 1277.0,1174.9 1279.0,1175.1 1281.0,1175.2 1283.0,1175.4 1285.0,1175.5 1287.0,1175.7 1289.0,1175.8 1291.0,1176.0 1293.0,1176.1 1295.0,1176.3 1297.0,1176.4 1299.0,1176.5 1301.0,1176.7 1303.0,1176.8 1305.0,1176.9 1307.0,1177.1 1309.0,1177.2 1311.0,1177.3 1313.0,1177.5 1315.0,1177.6 1317.0,1177.7 1319.0,1177.8 1321.0,1178.0 1323.0,1178.1 1325.0,1178.2 1327.0,1178.3 1329.0,1178.4 1331.0,1178.5 1333.0,1178.6 1335.0,1178.8 1337.0,1178.9 1339.0,1179.0 1341.0,1179.1 1343.0,1179.2 1345.0,1179.3 1347.0,1179.4 1349.0,1179.5 1351.0,1179.6 1353.0,1179.7 1355.0,1179.8 1357.0,1179.9 1359.0,1179.9 1361.0,1180.0 1363.0,1180.1 1365.0,1180.2 1367.0,1180.3 1369.0,1180.4 1371.0,1180.5 1373.0,1180.5 1375.0,1180.6 1377.0,1180.7 1379.0,1180.8 1381.0,1180.8 1383.0,1180.9 1385.0,1181.0 1387.0,1181.1 1389.0,1181.1 1391.0,1181.2 1393.0,1181.3 1395.0,1181.3 1397.0,1181.4 1399.0,1181.5 1401.0,1181.5 1403.0,1181.6 1405.0,1181.6 1407.0,1181.7 1409.0,1181.8 1411.0,1181.8 1413.0,1181.9 1415.0,1181.9 1417.0,1182.0 1419.0,1182.0 1421.0,1182.1 1423.0,1182.1 1425.0,1182.2 1427.0,1182.2 1429.0,1182.3 1431.0,1182.3 1433.0,1182.4 1435.0,1182.4 1437.0,1182.4 1439.0,1182.5 1441.0,1182.5 1443.0,1182.6 1445.0,1182.6 1447.0,1182.6 1449.0,1182.7 1451.0,1182.7 1453.0,1182.7 1455.0,1182.8 1457.0,1182.8 1459.0,1182.8 1461.0,1182.8 1463.0,1182.9 1465.0,1182.9 1467.0,1182.9 1469.0,1183.0 1471.0,1183.0 1473.0,1183.0 1475.0,1183.0 1477.0,1183.0 1479.0,1183.1 1481.0,1183.1 1483.0,1183.1 1485.0,1183.1 1487.0,1183.1 1489.0,1183.2 1491.0,1183.2 1493.0,1183.2 1495.0,1183.2 1497.0,1183.2 1499.0,1183.2 1501.0,1183.2 1503.0,1183.2 1505.0,1183.3 1507.0,1183.3 1509.0,1183.3 1511.0,1183.3 1513.0,1183.3 1515.0,1183.3 1517.0,1183.3 1519.0,1183.3 1521.0,1183.3 1523.0,1183.3 1525.0,1183.3 1527.0,1183.3 1529.0,1183.3 1531.0,1183.3 1533.0,1183.3 1535.0,1183.3 1537.0,1183.3 1539.0,1183.3 1541.0,1183.3 1543.0,1183.3 1545.0,1183.3 1547.0,1183.3 1549.0,1183.3 1551.0,1183.3 1553.0,1183.3 1555.0,1183.3 1557.0,1183.3 1559.0,1183.3 1561.0,1183.3 1563.0,1183.3 1565.0,1183.2 1567.0,1183.2 1569.0,1183.2 1571.0,1183.2 1573.0,1183.2 1575.0,1183.2 1577.0,1183.2 1579.0,1183.2 1581.0,1183.2 1583.0,1183.2 1585.0,1183.1 1587.0,1183.1 1589.0,1183.1 1591.0,1183.1 1593.0,1183.1 1595.0,1183.1 1597.0,1183.1 1599.0,1183.0 1601.0,1183.0 1603.0,1183.0 1605.0,1183.0 1607.0,1183.0 1609.0,1183.0 1611.0,1183.0 1613.0,1182.9 1615.0,1182.9 1617.0,1182.9 1619.0,1182.9 1621.0,1182.9 1623.0,1182.9 1625.0,1182.8 1627.0,1182.8 1629.0,1182.8 1631.0,1182.8 1633.0,1182.8 1635.0,1182.8 1637.0,1182.7 1639.0,1182.7 1641.0,1182.7 1643.0,1182.7 1645.0,1182.7 1647.0,1182.6 1649.0,1182.6 1651.0,1182.6 1653.0,1182.6 1655.0,1182.6 1657.0,1182.6 1659.0,1182.5 1661.0,1182.5 1663.0,1182.5 1665.0,1182.5 1667.0,1182.5 1669.0,1182.4 1671.0,1182.4 1673.0,1182.4 1675.0,1182.4 1677.0,1182.4 1679.0,1182.4 1681.0,1182.3 1683.0,1182.3 1685.0,1182.3 1687.0,1182.3 1689.0,1182.3 1691.0,1182.3 1693.0,1182.2 1695.0,1182.2 1697.0,1182.2 1699.0,1182.2 1701.0,1182.2 1703.0,1182.2 1705.0,1182.2 1707.0,1182.1 1709.0,1182.1 1711.0,1182.1 1713.0,1182.1 1715.0,1182.1 1717.0,1182.1 1719.0,1182.1 1721.0,1182.0 1723.0,1182.0 1725.0,1182.0 1727.0,1182.0 1729.0,1182.0 1731.0,1182.0 1733.0,1182.0 1735.0,1182.0 1737.0,1182.0 1739.0,1181.9 1741.0,1181.9 1743.0,1181.9 1745.0,1181.9 1747.0,1181.9 1749.0,1181.9 1751.0,1181.9 1753.0,1181.9 1755.0,1181.9 1757.0,1181.9 1759.0,1181.9 1761.0,1181.9 1763.0,1181.9 1765.0,1181.9 1767.0,1181.9 1769.0,1181.9 1771.0,1181.9 1773.0,1181.9 1775.0,1181.9 1777.0,1181.9 1779.0,1181.9 1781.0,1181.9 1783.0,1181.9 1785.0,1181.9 1787.0,1181.9 1789.0,1181.9 1791.0,1181.9 1793.0,1181.9 1795.0,1181.9 1797.0,1181.9 1799.0,1181.9 1801.0,1181.9 1803.0,1181.9 1805.0,1181.9 1807.0,1182.0 1809.0,1182.0 1811.0,1182.0 1813.0,1182.0 1815.0,1182.0 1817.0,1182.0 1819.0,1182.0 1821.0,1182.1 1823.0,1182.1 1825.0,1182.1 1827.0,1182.1 1829.0,1182.1 1831.0,1182.1 1833.0,1182.2 1835.0,1182.2 1837.0,1182.2 1839.0,1182.2 1841.0,1182.3 1843.0,1182.3 1845.0,1182.3 1847.0,1182.3 1849.0,1182.4 1851.0,1182.4 1853.0,1182.4 1855.0,1182.5 1857.0,1182.5 1859.0,1182.5 1861.0,1182.6 1863.0,1182.6 1865.0,1182.6 1867.0,1182.7 1869.0,1182.7 1871.0,1182.8 1873.0,1182.8 1875.0,1182.8 1877.0,1182.9 1879.0,1182.9 1881.0,1183.0 1883.0,1183.0 1885.0,1183.1 1887.0,1183.1 1889.0,1183.2 1891.0,1183.2 1893.0,1183.3 1895.0,1183.3 1897.0,1183.4 1899.0,1183.5 1901.0,1183.5 1903.0,1183.6 1905.0,1183.6 1907.0,1183.7 1909.0,1183.8 1911.0,1183.8 1913.0,1183.9 1915.0,1183.9 1917.0,1184.0 1918.0,1184.1" stroke="#0a0a78" stroke-width="5.4"/>
<path d="M291.0,1046.4 L293.0,1046.7 295.0,1047.0 297.0,1047.2 299.0,1047.5 301.0,1047.8 303.0,1048.0 305.0,1048.3 307.0,1048.5 309.0,1048.8 311.0,1049.0 313.0,1049.3 315.0,1049.5 317.0,1049.7 319.0,1050.0 321.0,1050.2 323.0,1050.4 325.0,1050.6 327.0,1050.8 329.0,1051.0 331.0,1051.3 333.0,1051.5 335.0,1051.7 337.0,1051.9 339.0,1052.1 341.0,1052.2 343.0,1052.4 345.0,1052.6 347.0,1052.8 349.0,1053.0 351.0,1053.2 353.0,1053.3 355.0,1053.5 357.0,1053.7 359.0,1053.8 361.0,1054.0 363.0,1054.1 365.0,1054.3 367.0,1054.5 369.0,1054.6 371.0,1054.7 373.0,1054.9 375.0,1055.0 377.0,1055.2 379.0,1055.3 381.0,1055.4 383.0,1055.6 385.0,1055.7 387.0,1055.8 389.0,1056.0 391.0,1056.1 393.0,1056.2 395.0,1056.3 397.0,1056.5 399.0,1056.6 401.0,1056.7 403.0,1056.8 405.0,1056.9 407.0,1057.0 409.0,1057.1 411.0,1057.2 413.0,1057.3 415.0,1057.4 417.0,1057.5 419.0,1057.6 421.0,1057.7 423.0,1057.8 425.0,1057.9 427.0,1058.0 429.0,1058.1 431.0,1058.2 433.0,1058.3 435.0,1058.4 437.0,1058.4 439.0,1058.5 441.0,1058.6 443.0,1058.7 445.0,1058.8 447.0,1058.9 449.0,1058.9 451.0,1059.0 453.0,1059.1 455.0,1059.2 457.0,1059.2 459.0,1059.3 461.0,1059.4 463.0,1059.5 465.0,1059.5 467.0,1059.6 469.0,1059.7 471.0,1059.8 473.0,1059.8 475.0,1059.9 477.0,1060.0 479.0,1060.1 481.0,1060.1 483.0,1060.2 485.0,1060.3 487.0,1060.3 489.0,1060.4 491.0,1060.5 493.0,1060.5 495.0,1060.6 497.0,1060.7 499.0,1060.8 501.0,1060.8 503.0,1060.9 505.0,1061.0 507.0,1061.0 509.0,1061.1 511.0,1061.2 513.0,1061.3 515.0,1061.3 517.0,1061.4 519.0,1061.5 521.0,1061.6 523.0,1061.6 525.0,1061.7 527.0,1061.8 529.0,1061.9 531.0,1061.9 533.0,1062.0 535.0,1062.1 537.0,1062.2 539.0,1062.3 541.0,1062.3 543.0,1062.4 545.0,1062.5 547.0,1062.6 549.0,1062.7 551.0,1062.8 553.0,1062.9 555.0,1063.0 557.0,1063.1 559.0,1063.2 561.0,1063.2 563.0,1063.3 565.0,1063.4 567.0,1063.5 569.0,1063.6 571.0,1063.8 573.0,1063.9 575.0,1064.0 577.0,1064.1 579.0,1064.2 581.0,1064.3 583.0,1064.4 585.0,1064.5 587.0,1064.7 589.0,1064.8 591.0,1064.9 593.0,1065.0 595.0,1065.1 597.0,1065.3 599.0,1065.4 601.0,1065.5 603.0,1065.7 605.0,1065.8 607.0,1066.0 609.0,1066.1 611.0,1066.3 613.0,1066.4 615.0,1066.6 617.0,1066.7 619.0,1066.9 621.0,1067.0 623.0,1067.2 625.0,1067.4 627.0,1067.5 629.0,1067.7 631.0,1067.9 633.0,1068.1 635.0,1068.2 637.0,1068.4 639.0,1068.6 641.0,1068.8 643.0,1069.0 645.0,1069.2 647.0,1069.4 649.0,1069.6 651.0,1069.8 653.0,1070.0 655.0,1070.2 657.0,1070.4 659.0,1070.7 661.0,1070.9 663.0,1071.1 665.0,1071.3 667.0,1071.6 669.0,1071.8 671.0,1072.1 673.0,1072.3 675.0,1072.6 677.0,1072.8 679.0,1073.1 681.0,1073.3 683.0,1073.6 685.0,1073.9 687.0,1074.1 689.0,1074.4 691.0,1074.7 693.0,1075.0 695.0,1075.2 697.0,1075.5 699.0,1075.8 701.0,1076.1 703.0,1076.4 705.0,1076.7 707.0,1077.0 709.0,1077.3 711.0,1077.6 713.0,1077.9 715.0,1078.2 717.0,1078.6 719.0,1078.9 721.0,1079.2 723.0,1079.5 725.0,1079.8 727.0,1080.2 729.0,1080.5 731.0,1080.8 733.0,1081.2 735.0,1081.5 737.0,1081.9 739.0,1082.2 741.0,1082.6 743.0,1082.9 745.0,1083.3 747.0,1083.6 749.0,1084.0 751.0,1084.3 753.0,1084.7 755.0,1085.1 757.0,1085.4 759.0,1085.8 761.0,1086.2 763.0,1086.6 765.0,1086.9 767.0,1087.3 769.0,1087.7 771.0,1088.1 773.0,1088.5 775.0,1088.8 777.0,1089.2 779.0,1089.6 781.0,1090.0 783.0,1090.4 785.0,1090.8 787.0,1091.2 789.0,1091.6 791.0,1092.0 793.0,1092.4 795.0,1092.8 797.0,1093.2 799.0,1093.6 801.0,1094.0 803.0,1094.5 805.0,1094.9 807.0,1095.3 809.0,1095.7 811.0,1096.1 813.0,1096.5 815.0,1097.0 817.0,1097.4 819.0,1097.8 821.0,1098.2 823.0,1098.7 825.0,1099.1 827.0,1099.5 829.0,1099.9 831.0,1100.4 833.0,1100.8 835.0,1101.2 837.0,1101.7 839.0,1102.1 841.0,1102.5 843.0,1103.0 845.0,1103.4 847.0,1103.9 849.0,1104.3 851.0,1104.7 853.0,1105.2 855.0,1105.6 857.0,1106.1 859.0,1106.5 861.0,1107.0 863.0,1107.4 865.0,1107.9 867.0,1108.3 869.0,1108.8 871.0,1109.2 873.0,1109.6 875.0,1110.1 877.0,1110.5 879.0,1111.0 881.0,1111.4 883.0,1111.9 885.0,1112.4 887.0,1112.8 889.0,1113.3 891.0,1113.7 893.0,1114.2 895.0,1114.6 897.0,1115.1 899.0,1115.5 901.0,1116.0 903.0,1116.4 905.0,1116.9 907.0,1117.3 909.0,1117.8 911.0,1118.2 913.0,1118.7 915.0,1119.1 917.0,1119.6 919.0,1120.1 921.0,1120.5 923.0,1121.0 925.0,1121.4 927.0,1121.9 929.0,1122.3 931.0,1122.8 933.0,1123.2 935.0,1123.7 937.0,1124.1 939.0,1124.6 941.0,1125.0 943.0,1125.5 945.0,1125.9 947.0,1126.4 949.0,1126.8 951.0,1127.3 953.0,1127.7 955.0,1128.2 957.0,1128.6 959.0,1129.0 961.0,1129.5 963.0,1129.9 965.0,1130.4 967.0,1130.8 969.0,1131.2 971.0,1131.7 973.0,1132.1 975.0,1132.6 977.0,1133.0 979.0,1133.4 981.0,1133.9 983.0,1134.3 985.0,1134.7 987.0,1135.2 989.0,1135.6 991.0,1136.0 993.0,1136.4 995.0,1136.9 997.0,1137.3 999.0,1137.7 1001.0,1138.1 1003.0,1138.6 1005.0,1139.0 1007.0,1139.4 1009.0,1139.8 1011.0,1140.2 1013.0,1140.6 1015.0,1141.0 1017.0,1141.5 1019.0,1141.9 1021.0,1142.3 1023.0,1142.7 1025.0,1143.1 1027.0,1143.5 1029.0,1143.9 1031.0,1144.3 1033.0,1144.7 1035.0,1145.1 1037.0,1145.5 1039.0,1145.8 1041.0,1146.2 1043.0,1146.6 1045.0,1147.0 1047.0,1147.4 1049.0,1147.8 1051.0,1148.1 1053.0,1148.5 1055.0,1148.9 1057.0,1149.3 1059.0,1149.6 1061.0,1150.0 1063.0,1150.4 1065.0,1150.7 1067.0,1151.1 1069.0,1151.4 1071.0,1151.8 1073.0,1152.1 1075.0,1152.5 1077.0,1152.8 1079.0,1153.2 1081.0,1153.5 1083.0,1153.9 1085.0,1154.2 1087.0,1154.5 1089.0,1154.9 1091.0,1155.2 1093.0,1155.5 1095.0,1155.9 1097.0,1156.2 1099.0,1156.5 1101.0,1156.8 1103.0,1157.2 1105.0,1157.5 1107.0,1157.8 1109.0,1158.1 1111.0,1158.4 1113.0,1158.7 1115.0,1159.0 1117.0,1159.3 1119.0,1159.6 1121.0,1159.9 1123.0,1160.2 1125.0,1160.5 1127.0,1160.8 1129.0,1161.1 1131.0,1161.4 1133.0,1161.7 1135.0,1162.0 1137.0,1162.3 1139.0,1162.6 1141.0,1162.8 1143.0,1163.1 1145.0,1163.4 1147.0,1163.7 1149.0,1163.9 1151.0,1164.2 1153.0,1164.5 1155.0,1164.7 1157.0,1165.0 1159.0,1165.3 1161.0,1165.5 1163.0,1165.8 1165.0,1166.0 1167.0,1166.3 1169.0,1166.5 1171.0,1166.8 1173.0,1167.0 1175.0,1167.3 1177.0,1167.5 1179.0,1167.8 1181.0,1168.0 1183.0,1168.3 1185.0,1168.5 1187.0,1168.7 1189.0,1169.0 1191.0,1169.2 1193.0,1169.4 1195.0,1169.7 1197.0,1169.9 1199.0,1170.1 1201.0,1170.3 1203.0,1170.5 1205.0,1170.8 1207.0,1171.0 1209.0,1171.2 1211.0,1171.4 1213.0,1171.6 1215.0,1171.8 1217.0,1172.0 1219.0,1172.2 1221.0,1172.5 1223.0,1172.7 1225.0,1172.9 1227.0,1173.1 1229.0,1173.3 1231.0,1173.5 1233.0,1173.6 1235.0,1173.8 1237.0,1174.0 1239.0,1174.2 1241.0,1174.4 1243.0,1174.6 1245.0,1174.8 1247.0,1175.0 1249.0,1175.1 1251.0,1175.3 1253.0,1175.5 1255.0,1175.7 1257.0,1175.8 1259.0,1176.0 1261.0,1176.2 1263.0,1176.4 1265.0,1176.5 1267.0,1176.7 1269.0,1176.9 1271.0,1177.0 1273.0,1177.2 1275.0,1177.3 1277.0,1177.5 1279.0,1177.7 1281.0,1177.8 1283.0,1178.0 1285.0,1178.1 1287.0,1178.3 1289.0,1178.4 1291.0,1178.6 1293.0,1178.7 1295.0,1178.9 1297.0,1179.0 1299.0,1179.1 1301.0,1179.3 1303.0,1179.4 1305.0,1179.6 1307.0,1179.7 1309.0,1179.8 1311.0,1180.0 1313.0,1180.1 1315.0,1180.2 1317.0,1180.4 1319.0,1180.5 1321.0,1180.6 1323.0,1180.7 1325.0,1180.9 1327.0,1181.0 1329.0,1181.1 1331.0,1181.2 1333.0,1181.3 1335.0,1181.4 1337.0,1181.6 1339.0,1181.7 1341.0,1181.8 1343.0,1181.9 1345.0,1182.0 1347.0,1182.1 1349.0,1182.2 1351.0,1182.3 1353.0,1182.4 1355.0,1182.5 1357.0,1182.6 1359.0,1182.7 1361.0,1182.8 1363.0,1182.9 1365.0,1183.0 1367.0,1183.1 1369.0,1183.2 1371.0,1183.3 1373.0,1183.4 1375.0,1183.5 1377.0,1183.6 1379.0,1183.7 1381.0,1183.8 1383.0,1183.8 1385.0,1183.9 1387.0,1184.0 1389.0,1184.1 1391.0,1184.2 1393.0,1184.2 1395.0,1184.3 1397.0,1184.4 1399.0,1184.5 1401.0,1184.6 1403.0,1184.6 1405.0,1184.7 1407.0,1184.8 1409.0,1184.8 1411.0,1184.9 1413.0,1185.0 1415.0,1185.0 1417.0,1185.1 1419.0,1185.2 1421.0,1185.2 1423.0,1185.3 1425.0,1185.4 1427.0,1185.4 1429.0,1185.5 1431.0,1185.5 1433.0,1185.6 1435.0,1185.7 1437.0,1185.7 1439.0,1185.8 1441.0,1185.8 1443.0,1185.9 1445.0,1185.9 1447.0,1186.0 1449.0,1186.0 1451.0,1186.1 1453.0,1186.1 1455.0,1186.2 1457.0,1186.2 1459.0,1186.3 1461.0,1186.3 1463.0,1186.3 1465.0,1186.4 1467.0,1186.4 1469.0,1186.5 1471.0,1186.5 1473.0,1186.5 1475.0,1186.6 1477.0,1186.6 1479.0,1186.6 1481.0,1186.7 1483.0,1186.7 1485.0,1186.8 1487.0,1186.8 1489.0,1186.8 1491.0,1186.8 1493.0,1186.9 1495.0,1186.9 1497.0,1186.9 1499.0,1187.0 1501.0,1187.0 1503.0,1187.0 1505.0,1187.0 1507.0,1187.1 1509.0,1187.1 1511.0,1187.1 1513.0,1187.1 1515.0,1187.1 1517.0,1187.2 1519.0,1187.2 1521.0,1187.2 1523.0,1187.2 1525.0,1187.2 1527.0,1187.3 1529.0,1187.3 1531.0,1187.3 1533.0,1187.3 1535.0,1187.3 1537.0,1187.3 1539.0,1187.3 1541.0,1187.4 1543.0,1187.4 1545.0,1187.4 1547.0,1187.4 1549.0,1187.4 1551.0,1187.4 1553.0,1187.4 1555.0,1187.4 1557.0,1187.4 1559.0,1187.4 1561.0,1187.4 1563.0,1187.4 1565.0,1187.4 1567.0,1187.4 1569.0,1187.4 1571.0,1187.5 1573.0,1187.5 1575.0,1187.5 1577.0,1187.5 1579.0,1187.5 1581.0,1187.5 1583.0,1187.5 1585.0,1187.5 1587.0,1187.5 1589.0,1187.4 1591.0,1187.4 1593.0,1187.4 1595.0,1187.4 1597.0,1187.4 1599.0,1187.4 1601.0,1187.4 1603.0,1187.4 1605.0,1187.4 1607.0,1187.4 1609.0,1187.4 1611.0,1187.4 1613.0,1187.4 1615.0,1187.4 1617.0,1187.4 1619.0,1187.4 1621.0,1187.3 1623.0,1187.3 1625.0,1187.3 1627.0,1187.3 1629.0,1187.3 1631.0,1187.3 1633.0,1187.3 1635.0,1187.3 1637.0,1187.3 1639.0,1187.2 1641.0,1187.2 1643.0,1187.2 1645.0,1187.2 1647.0,1187.2 1649.0,1187.2 1651.0,1187.2 1653.0,1187.1 1655.0,1187.1 1657.0,1187.1 1659.0,1187.1 1661.0,1187.1 1663.0,1187.1 1665.0,1187.1 1667.0,1187.0 1669.0,1187.0 1671.0,1187.0 1673.0,1187.0 1675.0,1187.0 1677.0,1186.9 1679.0,1186.9 1681.0,1186.9 1683.0,1186.9 1685.0,1186.9 1687.0,1186.9 1689.0,1186.8 1691.0,1186.8 1693.0,1186.8 1695.0,1186.8 1697.0,1186.8 1699.0,1186.7 1701.0,1186.7 1703.0,1186.7 1705.0,1186.7 1707.0,1186.7 1709.0,1186.6 1711.0,1186.6 1713.0,1186.6 1715.0,1186.6 1717.0,1186.6 1719.0,1186.5 1721.0,1186.5 1723.0,1186.5 1725.0,1186.5 1727.0,1186.5 1729.0,1186.4 1731.0,1186.4 1733.0,1186.4 1735.0,1186.4 1737.0,1186.3 1739.0,1186.3 1741.0,1186.3 1743.0,1186.3 1745.0,1186.3 1747.0,1186.2 1749.0,1186.2 1751.0,1186.2 1753.0,1186.2 1755.0,1186.2 1757.0,1186.1 1759.0,1186.1 1761.0,1186.1 1763.0,1186.1 1765.0,1186.1 1767.0,1186.0 1769.0,1186.0 1771.0,1186.0 1773.0,1186.0 1775.0,1186.0 1777.0,1185.9 1779.0,1185.9 1781.0,1185.9 1783.0,1185.9 1785.0,1185.9 1787.0,1185.8 1789.0,1185.8 1791.0,1185.8 1793.0,1185.8 1795.0,1185.8 1797.0,1185.8 1799.0,1185.7 1801.0,1185.7 1803.0,1185.7 1805.0,1185.7 1807.0,1185.7 1809.0,1185.6 1811.0,1185.6 1813.0,1185.6 1815.0,1185.6 1817.0,1185.6 1819.0,1185.6 1821.0,1185.6 1823.0,1185.5 1825.0,1185.5 1827.0,1185.5 1829.0,1185.5 1831.0,1185.5 1833.0,1185.5 1835.0,1185.5 1837.0,1185.4 1839.0,1185.4 1841.0,1185.4 1843.0,1185.4 1845.0,1185.4 1847.0,1185.4 1849.0,1185.4 1851.0,1185.4 1853.0,1185.4 1855.0,1185.3 1857.0,1185.3 1859.0,1185.3 1861.0,1185.3 1863.0,1185.3 1865.0,1185.3 1867.0,1185.3 1869.0,1185.3 1871.0,1185.3 1873.0,1185.3 1875.0,1185.3 1877.0,1185.3 1879.0,1185.3 1881.0,1185.3 1883.0,1185.3 1885.0,1185.3 1887.0,1185.3 1889.0,1185.3 1891.0,1185.3 1893.0,1185.3 1895.0,1185.3 1897.0,1185.3 1899.0,1185.3 1901.0,1185.3 1903.0,1185.3 1905.0,1185.3 1907.0,1185.3 1909.0,1185.3 1911.0,1185.3 1913.0,1185.3 1915.0,1185.3 1917.0,1185.3 1918.0,1185.3" stroke="#760c88" stroke-width="5.4"/>
<path d="M291.0,1065.9 L293.0,1066.1 295.0,1066.3 297.0,1066.5 299.0,1066.6 301.0,1066.8 303.0,1067.0 305.0,1067.1 307.0,1067.3 309.0,1067.5 311.0,1067.6 313.0,1067.8 315.0,1068.0 317.0,1068.1 319.0,1068.3 321.0,1068.4 323.0,1068.6 325.0,1068.7 327.0,1068.9 329.0,1069.0 331.0,1069.2 333.0,1069.3 335.0,1069.5 337.0,1069.6 339.0,1069.7 341.0,1069.9 343.0,1070.0 345.0,1070.2 347.0,1070.3 349.0,1070.4 351.0,1070.6 353.0,1070.7 355.0,1070.8 357.0,1071.0 359.0,1071.1 361.0,1071.2 363.0,1071.3 365.0,1071.5 367.0,1071.6 369.0,1071.7 371.0,1071.8 373.0,1072.0 375.0,1072.1 377.0,1072.2 379.0,1072.3 381.0,1072.5 383.0,1072.6 385.0,1072.7 387.0,1072.8 389.0,1072.9 391.0,1073.0 393.0,1073.1 395.0,1073.3 397.0,1073.4 399.0,1073.5 401.0,1073.6 403.0,1073.7 405.0,1073.8 407.0,1073.9 409.0,1074.0 411.0,1074.2 413.0,1074.3 415.0,1074.4 417.0,1074.5 419.0,1074.6 421.0,1074.7 423.0,1074.8 425.0,1074.9 427.0,1075.0 429.0,1075.1 431.0,1075.2 433.0,1075.3 435.0,1075.4 437.0,1075.5 439.0,1075.6 441.0,1075.7 443.0,1075.9 445.0,1076.0 447.0,1076.1 449.0,1076.2 451.0,1076.3 453.0,1076.4 455.0,1076.5 457.0,1076.6 459.0,1076.7 461.0,1076.8 463.0,1076.9 465.0,1077.0 467.0,1077.1 469.0,1077.2 471.0,1077.3 473.0,1077.4 475.0,1077.5 477.0,1077.6 479.0,1077.7 481.0,1077.8 483.0,1078.0 485.0,1078.1 487.0,1078.2 489.0,1078.3 491.0,1078.4 493.0,1078.5 495.0,1078.6 497.0,1078.7 499.0,1078.8 501.0,1078.9 503.0,1079.1 505.0,1079.2 507.0,1079.3 509.0,1079.4 511.0,1079.5 513.0,1079.6 515.0,1079.7 517.0,1079.9 519.0,1080.0 521.0,1080.1 523.0,1080.2 525.0,1080.3 527.0,1080.5 529.0,1080.6 531.0,1080.7 533.0,1080.8 535.0,1081.0 537.0,1081.1 539.0,1081.2 541.0,1081.3 543.0,1081.5 545.0,1081.6 547.0,1081.7 549.0,1081.9 551.0,1082.0 553.0,1082.1 555.0,1082.3 557.0,1082.4 559.0,1082.5 561.0,1082.7 563.0,1082.8 565.0,1083.0 567.0,1083.1 569.0,1083.3 571.0,1083.4 573.0,1083.6 575.0,1083.7 577.0,1083.9 579.0,1084.0 581.0,1084.2 583.0,1084.3 585.0,1084.5 587.0,1084.6 589.0,1084.8 591.0,1085.0 593.0,1085.1 595.0,1085.3 597.0,1085.5 599.0,1085.6 601.0,1085.8 603.0,1086.0 605.0,1086.2 607.0,1086.3 609.0,1086.5 611.0,1086.7 613.0,1086.9 615.0,1087.1 617.0,1087.2 619.0,1087.4 621.0,1087.6 623.0,1087.8 625.0,1088.0 627.0,1088.2 629.0,1088.4 631.0,1088.6 633.0,1088.8 635.0,1089.0 637.0,1089.2 639.0,1089.4 641.0,1089.6 643.0,1089.9 645.0,1090.1 647.0,1090.3 649.0,1090.5 651.0,1090.7 653.0,1091.0 655.0,1091.2 657.0,1091.4 659.0,1091.6 661.0,1091.9 663.0,1092.1 665.0,1092.4 667.0,1092.6 669.0,1092.9 671.0,1093.1 673.0,1093.4 675.0,1093.6 677.0,1093.9 679.0,1094.1 681.0,1094.4 683.0,1094.6 685.0,1094.9 687.0,1095.2 689.0,1095.4 691.0,1095.7 693.0,1096.0 695.0,1096.3 697.0,1096.5 699.0,1096.8 701.0,1097.1 703.0,1097.4 705.0,1097.7 707.0,1098.0 709.0,1098.2 711.0,1098.5 713.0,1098.8 715.0,1099.1 717.0,1099.4 719.0,1099.7 721.0,1100.0 723.0,1100.3 725.0,1100.6 727.0,1100.9 729.0,1101.3 731.0,1101.6 733.0,1101.9 735.0,1102.2 737.0,1102.5 739.0,1102.8 741.0,1103.1 743.0,1103.5 745.0,1103.8 747.0,1104.1 749.0,1104.4 751.0,1104.8 753.0,1105.1 755.0,1105.4 757.0,1105.8 759.0,1106.1 761.0,1106.4 763.0,1106.8 765.0,1107.1 767.0,1107.4 769.0,1107.8 771.0,1108.1 773.0,1108.5 775.0,1108.8 777.0,1109.2 779.0,1109.5 781.0,1109.8 783.0,1110.2 785.0,1110.5 787.0,1110.9 789.0,1111.3 791.0,1111.6 793.0,1112.0 795.0,1112.3 797.0,1112.7 799.0,1113.0 801.0,1113.4 803.0,1113.8 805.0,1114.1 807.0,1114.5 809.0,1114.8 811.0,1115.2 813.0,1115.6 815.0,1115.9 817.0,1116.3 819.0,1116.7 821.0,1117.0 823.0,1117.4 825.0,1117.8 827.0,1118.1 829.0,1118.5 831.0,1118.9 833.0,1119.3 835.0,1119.6 837.0,1120.0 839.0,1120.4 841.0,1120.8 843.0,1121.1 845.0,1121.5 847.0,1121.9 849.0,1122.3 851.0,1122.6 853.0,1123.0 855.0,1123.4 857.0,1123.8 859.0,1124.1 861.0,1124.5 863.0,1124.9 865.0,1125.3 867.0,1125.7 869.0,1126.0 871.0,1126.4 873.0,1126.8 875.0,1127.2 877.0,1127.6 879.0,1127.9 881.0,1128.3 883.0,1128.7 885.0,1129.1 887.0,1129.5 889.0,1129.9 891.0,1130.2 893.0,1130.6 895.0,1131.0 897.0,1131.4 899.0,1131.8 901.0,1132.1 903.0,1132.5 905.0,1132.9 907.0,1133.3 909.0,1133.7 911.0,1134.0 913.0,1134.4 915.0,1134.8 917.0,1135.2 919.0,1135.6 921.0,1135.9 923.0,1136.3 925.0,1136.7 927.0,1137.1 929.0,1137.5 931.0,1137.8 933.0,1138.2 935.0,1138.6 937.0,1139.0 939.0,1139.3 941.0,1139.7 943.0,1140.1 945.0,1140.5 947.0,1140.8 949.0,1141.2 951.0,1141.6 953.0,1141.9 955.0,1142.3 957.0,1142.7 959.0,1143.1 961.0,1143.4 963.0,1143.8 965.0,1144.2 967.0,1144.5 969.0,1144.9 971.0,1145.2 973.0,1145.6 975.0,1146.0 977.0,1146.3 979.0,1146.7 981.0,1147.1 983.0,1147.4 985.0,1147.8 987.0,1148.1 989.0,1148.5 991.0,1148.8 993.0,1149.2 995.0,1149.5 997.0,1149.9 999.0,1150.2 1001.0,1150.6 1003.0,1150.9 1005.0,1151.3 1007.0,1151.6 1009.0,1152.0 1011.0,1152.3 1013.0,1152.6 1015.0,1153.0 1017.0,1153.3 1019.0,1153.7 1021.0,1154.0 1023.0,1154.3 1025.0,1154.7 1027.0,1155.0 1029.0,1155.3 1031.0,1155.6 1033.0,1156.0 1035.0,1156.3 1037.0,1156.6 1039.0,1156.9 1041.0,1157.3 1043.0,1157.6 1045.0,1157.9 1047.0,1158.2 1049.0,1158.5 1051.0,1158.8 1053.0,1159.1 1055.0,1159.4 1057.0,1159.7 1059.0,1160.0 1061.0,1160.3 1063.0,1160.6 1065.0,1160.9 1067.0,1161.2 1069.0,1161.5 1071.0,1161.8 1073.0,1162.1 1075.0,1162.4 1077.0,1162.7 1079.0,1163.0 1081.0,1163.3 1083.0,1163.5 1085.0,1163.8 1087.0,1164.1 1089.0,1164.4 1091.0,1164.6 1093.0,1164.9 1095.0,1165.2 1097.0,1165.5 1099.0,1165.7 1101.0,1166.0 1103.0,1166.2 1105.0,1166.5 1107.0,1166.8 1109.0,1167.0 1111.0,1167.3 1113.0,1167.5 1115.0,1167.8 1117.0,1168.0 1119.0,1168.3 1121.0,1168.5 1123.0,1168.8 1125.0,1169.0 1127.0,1169.3 1129.0,1169.5 1131.0,1169.7 1133.0,1170.0 1135.0,1170.2 1137.0,1170.5 1139.0,1170.7 1141.0,1170.9 1143.0,1171.1 1145.0,1171.4 1147.0,1171.6 1149.0,1171.8 1151.0,1172.0 1153.0,1172.3 1155.0,1172.5 1157.0,1172.7 1159.0,1172.9 1161.0,1173.1 1163.0,1173.3 1165.0,1173.6 1167.0,1173.8 1169.0,1174.0 1171.0,1174.2 1173.0,1174.4 1175.0,1174.6 1177.0,1174.8 1179.0,1175.0 1181.0,1175.2 1183.0,1175.4 1185.0,1175.6 1187.0,1175.8 1189.0,1176.0 1191.0,1176.2 1193.0,1176.3 1195.0,1176.5 1197.0,1176.7 1199.0,1176.9 1201.0,1177.1 1203.0,1177.3 1205.0,1177.4 1207.0,1177.6 1209.0,1177.8 1211.0,1178.0 1213.0,1178.2 1215.0,1178.3 1217.0,1178.5 1219.0,1178.7 1221.0,1178.8 1223.0,1179.0 1225.0,1179.2 1227.0,1179.3 1229.0,1179.5 1231.0,1179.7 1233.0,1179.8 1235.0,1180.0 1237.0,1180.1 1239.0,1180.3 1241.0,1180.4 1243.0,1180.6 1245.0,1180.7 1247.0,1180.9 1249.0,1181.0 1251.0,1181.2 1253.0,1181.3 1255.0,1181.5 1257.0,1181.6 1259.0,1181.8 1261.0,1181.9 1263.0,1182.1 1265.0,1182.2 1267.0,1182.3 1269.0,1182.5 1271.0,1182.6 1273.0,1182.7 1275.0,1182.9 1277.0,1183.0 1279.0,1183.1 1281.0,1183.3 1283.0,1183.4 1285.0,1183.5 1287.0,1183.6 1289.0,1183.8 1291.0,1183.9 1293.0,1184.0 1295.0,1184.1 1297.0,1184.2 1299.0,1184.4 1301.0,1184.5 1303.0,1184.6 1305.0,1184.7 1307.0,1184.8 1309.0,1184.9 1311.0,1185.0 1313.0,1185.1 1315.0,1185.2 1317.0,1185.4 1319.0,1185.5 1321.0,1185.6 1323.0,1185.7 1325.0,1185.8 1327.0,1185.9 1329.0,1186.0 1331.0,1186.1 1333.0,1186.2 1335.0,1186.3 1337.0,1186.4 1339.0,1186.4 1341.0,1186.5 1343.0,1186.6 1345.0,1186.7 1347.0,1186.8 1349.0,1186.9 1351.0,1187.0 1353.0,1187.1 1355.0,1187.2 1357.0,1187.2 1359.0,1187.3 1361.0,1187.4 1363.0,1187.5 1365.0,1187.6 1367.0,1187.7 1369.0,1187.7 1371.0,1187.8 1373.0,1187.9 1375.0,1188.0 1377.0,1188.0 1379.0,1188.1 1381.0,1188.2 1383.0,1188.2 1385.0,1188.3 1387.0,1188.4 1389.0,1188.5 1391.0,1188.5 1393.0,1188.6 1395.0,1188.7 1397.0,1188.7 1399.0,1188.8 1401.0,1188.8 1403.0,1188.9 1405.0,1189.0 1407.0,1189.0 1409.0,1189.1 1411.0,1189.1 1413.0,1189.2 1415.0,1189.3 1417.0,1189.3 1419.0,1189.4 1421.0,1189.4 1423.0,1189.5 1425.0,1189.5 1427.0,1189.6 1429.0,1189.6 1431.0,1189.7 1433.0,1189.7 1435.0,1189.8 1437.0,1189.8 1439.0,1189.9 1441.0,1189.9 1443.0,1190.0 1445.0,1190.0 1447.0,1190.0 1449.0,1190.1 1451.0,1190.1 1453.0,1190.2 1455.0,1190.2 1457.0,1190.3 1459.0,1190.3 1461.0,1190.3 1463.0,1190.4 1465.0,1190.4 1467.0,1190.4 1469.0,1190.5 1471.0,1190.5 1473.0,1190.5 1475.0,1190.6 1477.0,1190.6 1479.0,1190.6 1481.0,1190.7 1483.0,1190.7 1485.0,1190.7 1487.0,1190.7 1489.0,1190.8 1491.0,1190.8 1493.0,1190.8 1495.0,1190.9 1497.0,1190.9 1499.0,1190.9 1501.0,1190.9 1503.0,1191.0 1505.0,1191.0 1507.0,1191.0 1509.0,1191.0 1511.0,1191.0 1513.0,1191.1 1515.0,1191.1 1517.0,1191.1 1519.0,1191.1 1521.0,1191.1 1523.0,1191.1 1525.0,1191.2 1527.0,1191.2 1529.0,1191.2 1531.0,1191.2 1533.0,1191.2 1535.0,1191.2 1537.0,1191.3 1539.0,1191.3 1541.0,1191.3 1543.0,1191.3 1545.0,1191.3 1547.0,1191.3 1549.0,1191.3 1551.0,1191.3 1553.0,1191.3 1555.0,1191.3 1557.0,1191.4 1559.0,1191.4 1561.0,1191.4 1563.0,1191.4 1565.0,1191.4 1567.0,1191.4 1569.0,1191.4 1571.0,1191.4 1573.0,1191.4 1575.0,1191.4 1577.0,1191.4 1579.0,1191.4 1581.0,1191.4 1583.0,1191.4 1585.0,1191.4 1587.0,1191.4 1589.0,1191.4 1591.0,1191.4 1593.0,1191.4 1595.0,1191.4 1597.0,1191.4 1599.0,1191.4 1601.0,1191.4 1603.0,1191.4 1605.0,1191.4 1607.0,1191.4 1609.0,1191.4 1611.0,1191.4 1613.0,1191.4 1615.0,1191.4 1617.0,1191.4 1619.0,1191.4 1621.0,1191.4 1623.0,1191.4 1625.0,1191.4 1627.0,1191.4 1629.0,1191.4 1631.0,1191.4 1633.0,1191.4 1635.0,1191.4 1637.0,1191.3 1639.0,1191.3 1641.0,1191.3 1643.0,1191.3 1645.0,1191.3 1647.0,1191.3 1649.0,1191.3 1651.0,1191.3 1653.0,1191.3 1655.0,1191.3 1657.0,1191.3 1659.0,1191.3 1661.0,1191.2 1663.0,1191.2 1665.0,1191.2 1667.0,1191.2 1669.0,1191.2 1671.0,1191.2 1673.0,1191.2 1675.0,1191.2 1677.0,1191.2 1679.0,1191.2 1681.0,1191.1 1683.0,1191.1 1685.0,1191.1 1687.0,1191.1 1689.0,1191.1 1691.0,1191.1 1693.0,1191.1 1695.0,1191.1 1697.0,1191.1 1699.0,1191.0 1701.0,1191.0 1703.0,1191.0 1705.0,1191.0 1707.0,1191.0 1709.0,1191.0 1711.0,1191.0 1713.0,1191.0 1715.0,1190.9 1717.0,1190.9 1719.0,1190.9 1721.0,1190.9 1723.0,1190.9 1725.0,1190.9 1727.0,1190.9 1729.0,1190.9 1731.0,1190.8 1733.0,1190.8 1735.0,1190.8 1737.0,1190.8 1739.0,1190.8 1741.0,1190.8 1743.0,1190.8 1745.0,1190.8 1747.0,1190.7 1749.0,1190.7 1751.0,1190.7 1753.0,1190.7 1755.0,1190.7 1757.0,1190.7 1759.0,1190.7 1761.0,1190.7 1763.0,1190.7 1765.0,1190.6 1767.0,1190.6 1769.0,1190.6 1771.0,1190.6 1773.0,1190.6 1775.0,1190.6 1777.0,1190.6 1779.0,1190.6 1781.0,1190.6 1783.0,1190.5 1785.0,1190.5 1787.0,1190.5 1789.0,1190.5 1791.0,1190.5 1793.0,1190.5 1795.0,1190.5 1797.0,1190.5 1799.0,1190.5 1801.0,1190.5 1803.0,1190.5 1805.0,1190.5 1807.0,1190.4 1809.0,1190.4 1811.0,1190.4 1813.0,1190.4 1815.0,1190.4 1817.0,1190.4 1819.0,1190.4 1821.0,1190.4 1823.0,1190.4 1825.0,1190.4 1827.0,1190.4 1829.0,1190.4 1831.0,1190.4 1833.0,1190.4 1835.0,1190.4 1837.0,1190.4 1839.0,1190.4 1841.0,1190.4 1843.0,1190.3 1845.0,1190.3 1847.0,1190.3 1849.0,1190.3 1851.0,1190.3 1853.0,1190.3 1855.0,1190.3 1857.0,1190.3 1859.0,1190.3 1861.0,1190.3 1863.0,1190.3 1865.0,1190.3 1867.0,1190.3 1869.0,1190.3 1871.0,1190.3 1873.0,1190.4 1875.0,1190.4 1877.0,1190.4 1879.0,1190.4 1881.0,1190.4 1883.0,1190.4 1885.0,1190.4 1887.0,1190.4 1889.0,1190.4 1891.0,1190.4 1893.0,1190.4 1895.0,1190.4 1897.0,1190.4 1899.0,1190.4 1901.0,1190.4 1903.0,1190.4 1905.0,1190.5 1907.0,1190.5 1909.0,1190.5 1911.0,1190.5 1913.0,1190.5 1915.0,1190.5 1917.0,1190.5 1918.0,1190.5" stroke="#7e0e0e" stroke-width="5.0"/>
</g>
<g stroke="#000" stroke-width="7" fill="none" stroke-linecap="square">
<path d="M291,74.5 H1918 V1230 H291 Z"/>
</g>
<path d="M267,1163.0 H291 M267,1026.9 H291 M267,890.8 H291 M267,754.7 H291 M267,618.6 H291 M267,482.5 H291 M267,346.4 H291 M267,210.3 H291 M267,74.2 H291 M278,1231.0 H291 M278,1095.0 H291 M278,958.9 H291 M278,822.8 H291 M278,686.7 H291 M278,550.6 H291 M278,414.5 H291 M278,278.4 H291 M278,142.2 H291 M291.0,1230 V1207 M697.8,1230 V1207 M1104.5,1230 V1207 M1511.2,1230 V1207 M1918.0,1230 V1207 M494.4,1230 V1217 M901.1,1230 V1217 M1307.9,1230 V1217 M1714.6,1230 V1217" stroke="#000" stroke-width="6" fill="none"/>
<text class="tky" transform="translate(255.5,1179.3) scale(1,1.045)" text-anchor="end">0.0</text>
<text class="tky" transform="translate(255.5,1043.1) scale(1,1.045)" text-anchor="end">0.1</text>
<text class="tky" transform="translate(255.5,906.9) scale(1,1.045)" text-anchor="end">0.2</text>
<text class="tky" transform="translate(255.5,770.7) scale(1,1.045)" text-anchor="end">0.3</text>
<text class="tky" transform="translate(255.5,634.5) scale(1,1.045)" text-anchor="end">0.4</text>
<text class="tky" transform="translate(255.5,498.3) scale(1,1.045)" text-anchor="end">0.5</text>
<text class="tky" transform="translate(255.5,362.1) scale(1,1.045)" text-anchor="end">0.6</text>
<text class="tky" transform="translate(255.5,225.9) scale(1,1.045)" text-anchor="end">0.7</text>
<text class="tky" transform="translate(255.5,89.7) scale(1,1.045)" text-anchor="end">0.8</text>
<text class="tkx" transform="translate(291.0,1298.6) scale(1,1.03)" text-anchor="middle">300</text>
<text class="tkx" transform="translate(697.8,1298.6) scale(1,1.03)" text-anchor="middle">400</text>
<text class="tkx" transform="translate(1104.5,1298.6) scale(1,1.03)" text-anchor="middle">500</text>
<text class="tkx" transform="translate(1511.2,1298.6) scale(1,1.03)" text-anchor="middle">600</text>
<text class="tkx" transform="translate(1918.0,1298.6) scale(1,1.03)" text-anchor="middle">700</text>
<text class="tt" x="1070" y="1418" text-anchor="middle">Wavelength (nm)</text>
<text class="tt" transform="translate(105,643) rotate(-90)" text-anchor="middle">Absorbance (a.u.)</text>
<path d="M311,115.8 H445" stroke="#222222" stroke-width="3.0"/>
<circle cx="379" cy="115.8" r="3.2" fill="#000"/>
<text class="lg" transform="translate(460.5,135.8) scale(1,1.03)">0 min</text>
<path d="M311,189.1 H445" stroke="#b83040" stroke-width="4.0"/>
<circle cx="379" cy="189.1" r="3.2" fill="#a01830"/>
<text class="lg" transform="translate(460.5,209.1) scale(1,1.03)">3 min</text>
<path d="M311,262.4 H445" stroke="#52c060" stroke-width="6.0"/>
<text class="lg" transform="translate(460.5,282.4) scale(1,1.03)">6 min</text>
<path d="M311,335.7 H445" stroke="#282878" stroke-width="5.0"/>
<circle cx="379" cy="335.7" r="3.2" fill="#1010a0"/>
<text class="lg" transform="translate(460.5,355.7) scale(1,1.03)">9 min</text>
<path d="M311,409.0 H445" stroke="#88d4d4" stroke-width="6.0"/>
<circle cx="379" cy="409.0" r="3.2" fill="#3a9a9a"/>
<text class="lg" transform="translate(460.5,429.0) scale(1,1.03)">12 min</text>
<path d="M311,482.3 H445" stroke="#a048a8" stroke-width="6.0"/>
<circle cx="379" cy="482.3" r="3.2" fill="#b040a8"/>
<text class="lg" transform="translate(460.5,502.3) scale(1,1.03)">15 min</text>
<path d="M311,555.6 H445" stroke="#e6e640" stroke-width="6.0"/>
<text class="lg" transform="translate(460.5,575.6) scale(1,1.03)">18 min</text>
<path d="M311,628.9 H445" stroke="#707040" stroke-width="3.5"/>
<circle cx="379" cy="628.9" r="3.2" fill="#506030"/>
<text class="lg" transform="translate(460.5,648.9) scale(1,1.03)">21 min</text>
<path d="M311,702.2 H445" stroke="#505878" stroke-width="3.5"/>
<circle cx="379" cy="702.2" r="3.2" fill="#101840"/>
<text class="lg" transform="translate(460.5,722.2) scale(1,1.03)">24 min</text>
<path d="M311,775.5 H445" stroke="#6a2a6a" stroke-width="4.5"/>
<text class="lg" transform="translate(460.5,795.5) scale(1,1.03)">27 min</text>
<path d="M311,848.8 H445" stroke="#4a2424" stroke-width="5.0"/>
<circle cx="379" cy="848.8" r="3.2" fill="#601818"/>
<text class="lg" transform="translate(460.5,868.8) scale(1,1.03)">30 min</text>
<defs>
<linearGradient id="bg" x1="0" y1="0" x2="0" y2="1">
<stop offset="0" stop-color="#7b7a74"/>
<stop offset="0.25" stop-color="#82817b"/>
<stop offset="0.5" stop-color="#8e8c85"/>
<stop offset="0.75" stop-color="#a09d92"/>
<stop offset="1" stop-color="#aaa79c"/>
</linearGradient>
<linearGradient id="bgx" x1="0" y1="0" x2="1" y2="0">
<stop offset="0" stop-color="#a8a49c" stop-opacity="0.25"/>
<stop offset="0.08" stop-color="#a09078" stop-opacity="0.15"/>
<stop offset="0.45" stop-color="#a89678" stop-opacity="0.18"/>
<stop offset="0.7" stop-color="#b0b0aa" stop-opacity="0.12"/>
<stop offset="1" stop-color="#bcbcbc" stop-opacity="0.25"/>
</linearGradient>
<linearGradient id="tbl1" x1="0" y1="0" x2="0" y2="1">
<stop offset="0" stop-color="#bab7aa"/>
<stop offset="1" stop-color="#c6c4ba"/>
</linearGradient>
<linearGradient id="tbl2" x1="0" y1="0" x2="0" y2="1">
<stop offset="0" stop-color="#d6d6d1"/>
<stop offset="0.6" stop-color="#dfe0dc"/>
<stop offset="1" stop-color="#e3e4e1"/>
</linearGradient>
<linearGradient id="liq0" x1="0" y1="0" x2="0" y2="1">
<stop offset="0" stop-color="#b49022"/>
<stop offset="0.06" stop-color="#a07a08"/>
<stop offset="0.5" stop-color="#9c7606"/>
<stop offset="0.85" stop-color="#a47e18"/>
<stop offset="1" stop-color="#b09440"/>
</linearGradient>
<linearGradient id="liq1" x1="0" y1="0" x2="0" y2="1">
<stop offset="0" stop-color="#b4a24c"/>
<stop offset="0.07" stop-color="#a08c30"/>
<stop offset="0.5" stop-color="#988634"/>
<stop offset="0.85" stop-color="#a09040"/>
<stop offset="1" stop-color="#b4a866"/>
</linearGradient>
<linearGradient id="liq2" x1="0" y1="0" x2="0" y2="1">
<stop offset="0" stop-color="#b4b08c"/>
<stop offset="0.1" stop-color="#a4a082"/>
<stop offset="0.5" stop-color="#9c9878"/>
<stop offset="0.85" stop-color="#a09c80"/>
<stop offset="1" stop-color="#b2b09a"/>
</linearGradient>
<linearGradient id="liq3" x1="0" y1="0" x2="0" y2="1">
<stop offset="0" stop-color="#9e9e9c"/>
<stop offset="1" stop-color="#a6a6a2"/>
</linearGradient>
</defs>
<rect x="1134" y="71" width="780" height="533" fill="url(#bg)"/>
<rect x="1134" y="71" width="780" height="533" fill="url(#bgx)"/>
<rect x="1134" y="527" width="780" height="33" fill="url(#tbl1)"/>
<rect x="1134" y="560" width="780" height="44" fill="url(#tbl2)"/>
<rect x="1170" y="136" width="134" height="422" fill="#b8ac80" fill-opacity="0.10"/>
<rect x="1171.5" y="137.5" width="131" height="419" rx="4" fill="none" stroke="#b8ac80" stroke-opacity="0.55" stroke-width="3"/>
<rect x="1184" y="311" width="99" height="244" fill="url(#liq0)"/>
<rect x="1173" y="139" width="11" height="416" fill="#b8ac80" fill-opacity="0.35"/>
<rect x="1283" y="139" width="18" height="416" fill="#b8ac80" fill-opacity="0.45"/>
<path d="M1186,315 Q1233.5,327 1281,315" stroke="#e6e2c4" stroke-opacity="0.45" stroke-width="4" fill="none"/>
<rect x="1374" y="135" width="112" height="418" fill="#bab48e" fill-opacity="0.10"/>
<rect x="1375.5" y="136.5" width="109" height="415" rx="4" fill="none" stroke="#bab48e" stroke-opacity="0.55" stroke-width="3"/>
<rect x="1390" y="317" width="85" height="234" fill="url(#liq1)"/>
<rect x="1377" y="138" width="13" height="412" fill="#bab48e" fill-opacity="0.35"/>
<rect x="1475" y="138" width="8" height="412" fill="#bab48e" fill-opacity="0.45"/>
<path d="M1392,321 Q1432.5,333 1473,321" stroke="#e6e2c4" stroke-opacity="0.45" stroke-width="4" fill="none"/>
<rect x="1560" y="142" width="116" height="411" fill="#b8b8a6" fill-opacity="0.10"/>
<rect x="1561.5" y="143.5" width="113" height="408" rx="4" fill="none" stroke="#b8b8a6" stroke-opacity="0.55" stroke-width="3"/>
<rect x="1580" y="322" width="82" height="224" fill="url(#liq2)"/>
<rect x="1563" y="145" width="17" height="405" fill="#b8b8a6" fill-opacity="0.35"/>
<rect x="1662" y="145" width="11" height="405" fill="#b8b8a6" fill-opacity="0.45"/>
<path d="M1582,326 Q1621.0,338 1660,326" stroke="#e6e2c4" stroke-opacity="0.45" stroke-width="4" fill="none"/>
<rect x="1742" y="145" width="128" height="407" fill="#bdbdb9" fill-opacity="0.10"/>
<rect x="1743.5" y="146.5" width="125" height="404" rx="4" fill="none" stroke="#bdbdb9" stroke-opacity="0.55" stroke-width="3"/>
<rect x="1770" y="328" width="68" height="218" fill="url(#liq3)"/>
<rect x="1745" y="148" width="25" height="401" fill="#bdbdb9" fill-opacity="0.35"/>
<rect x="1838" y="148" width="29" height="401" fill="#bdbdb9" fill-opacity="0.45"/>
<path d="M1772,332 Q1804.0,344 1836,332" stroke="#e6e2c4" stroke-opacity="0.45" stroke-width="4" fill="none"/>
<text class="ph" x="1177" y="207">0 min</text>
<text class="ph" x="1377" y="207">9 min</text>
<text class="ph" x="1557" y="212">21 min</text>
<text class="ph" x="1743" y="211">30 min</text>
</svg></body></html>
